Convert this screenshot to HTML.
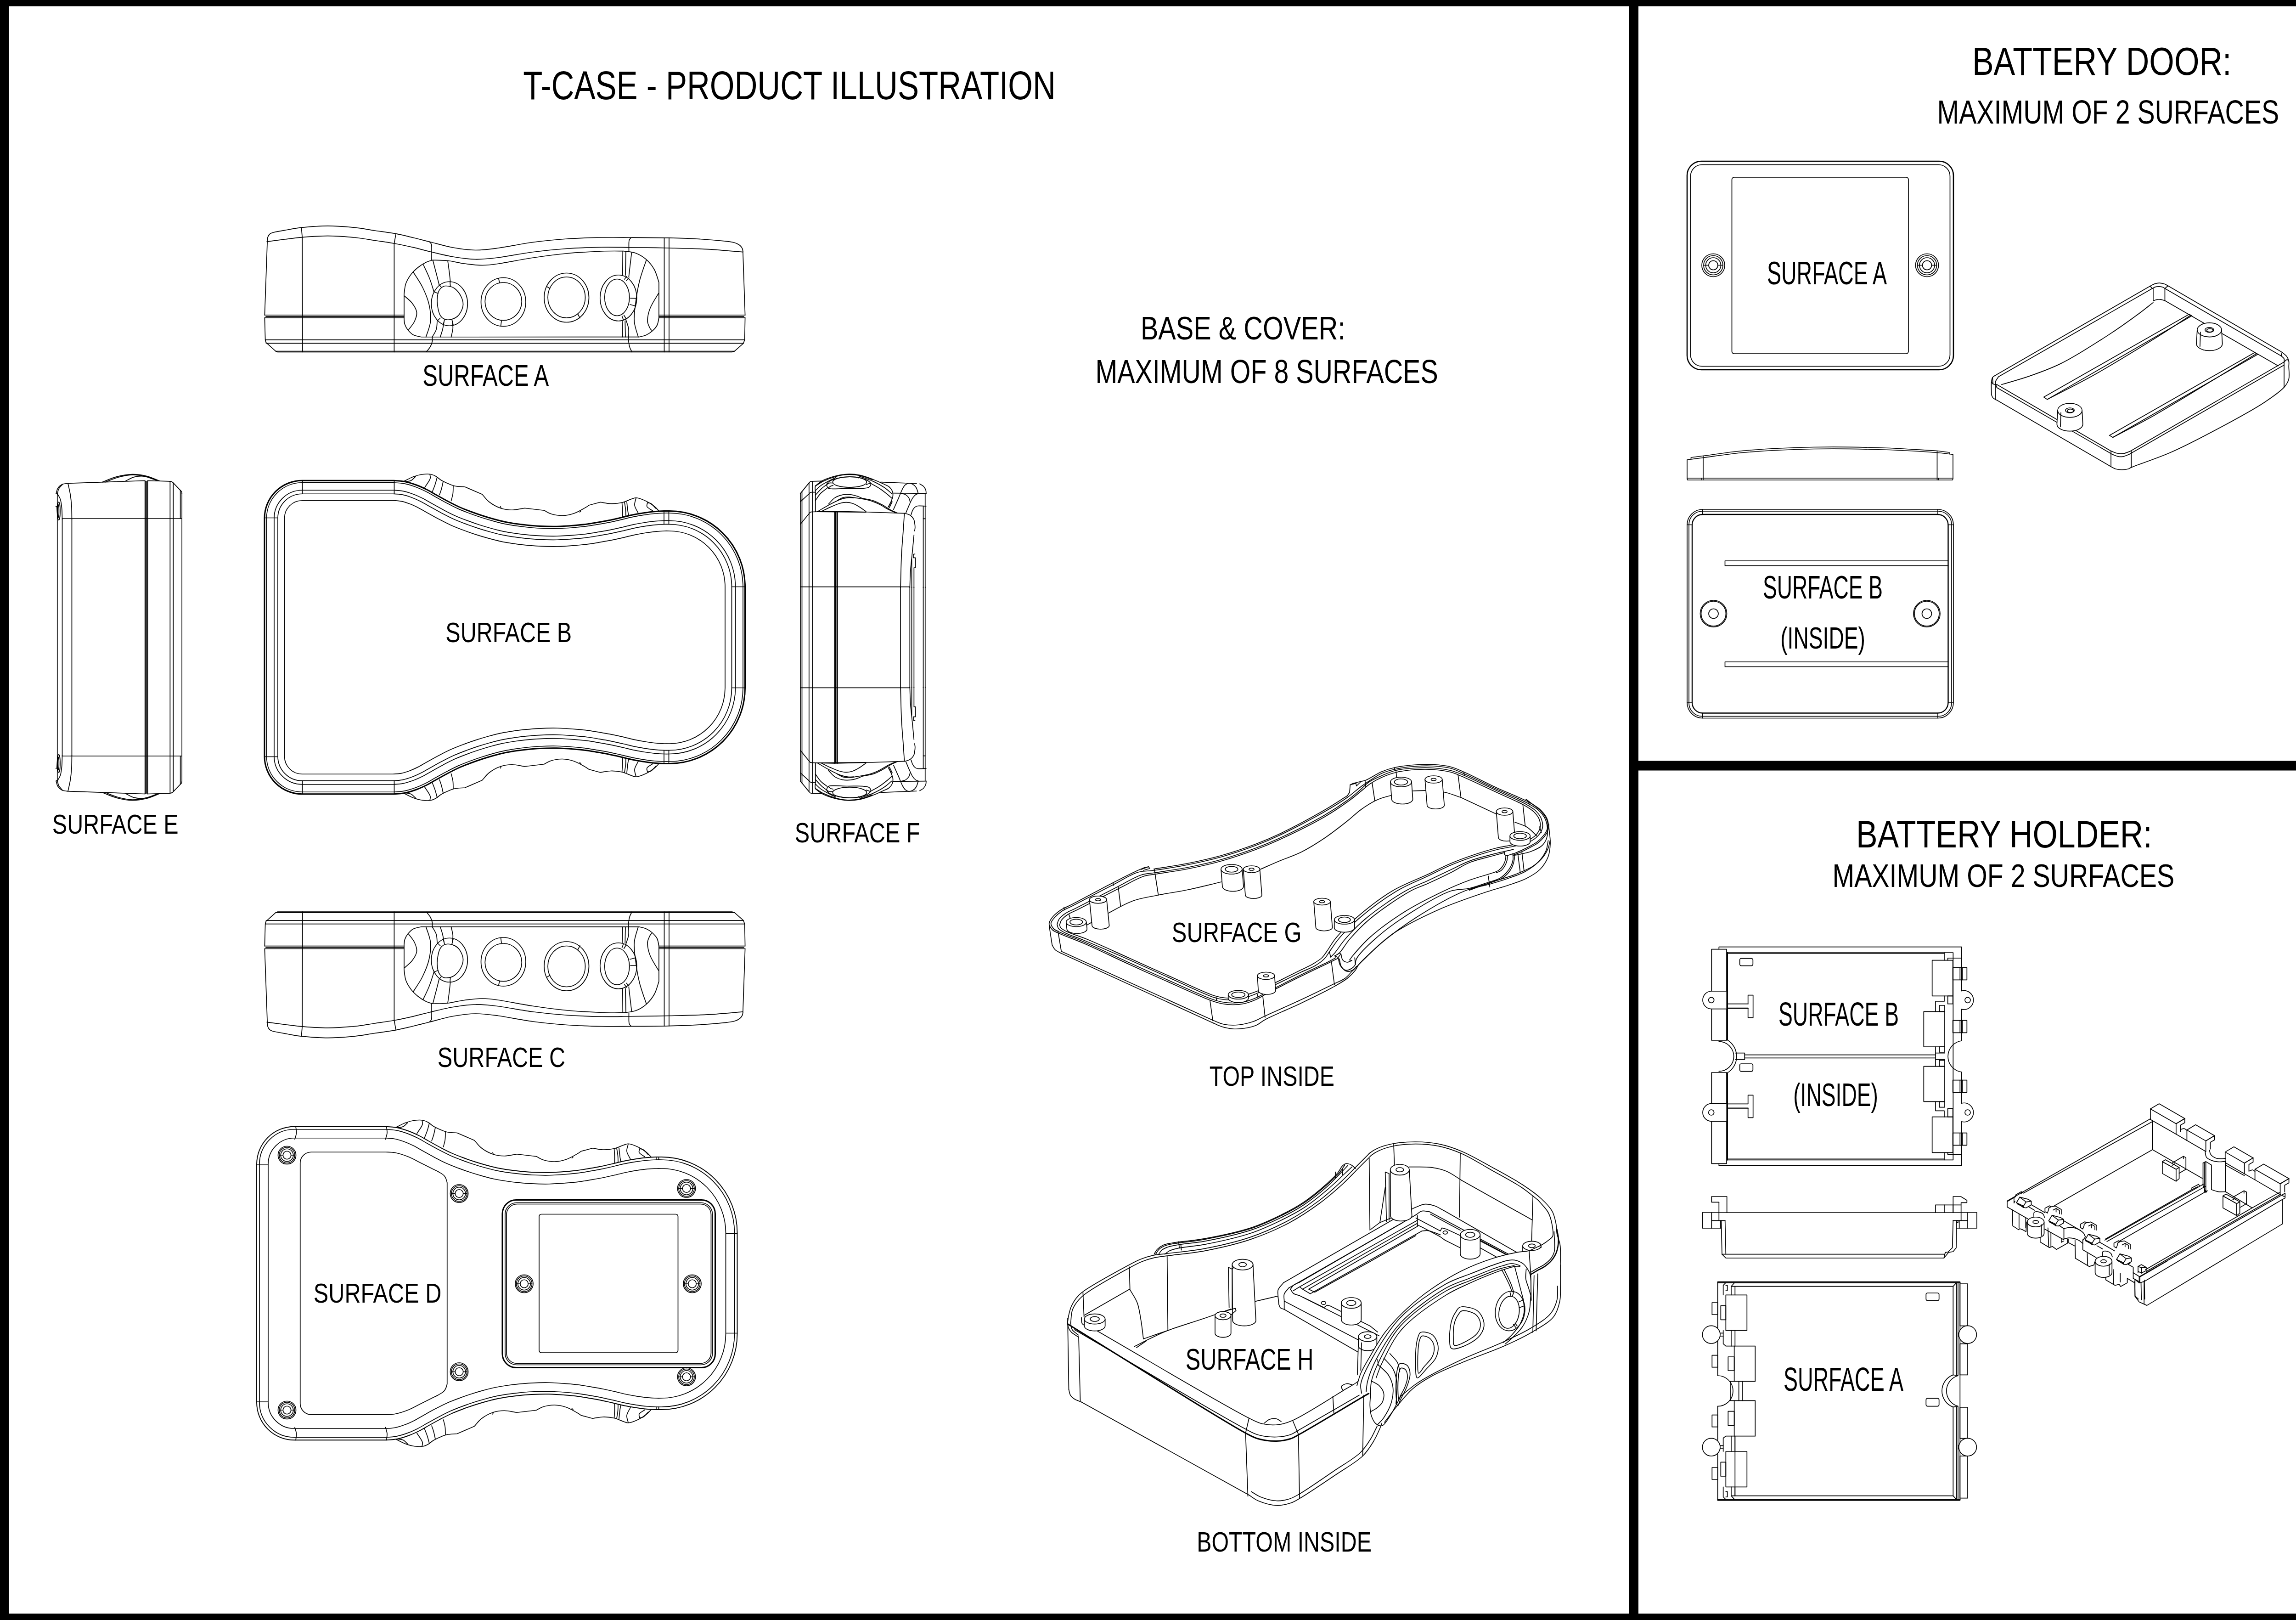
<!DOCTYPE html><html><head><meta charset="utf-8"><title>T-CASE</title><style>html,body{margin:0;padding:0;background:#fff}svg{display:block}</style></head><body><svg width="5031" height="3527" viewBox="0 0 5031 3527" fill="none" stroke="#000" stroke-width="1.7" stroke-linecap="round" stroke-linejoin="round"><rect x="0" y="0" width="5031" height="3527" fill="#fff" stroke="none"/><g fill="#000" stroke="none"><rect x="0" y="0" width="5031" height="13.5"/><rect x="0" y="0" width="19" height="3527"/><rect x="0" y="3513" width="5031" height="14"/><rect x="5023" y="0" width="8" height="3527"/><rect x="3547" y="0" width="21" height="3527"/><rect x="3547" y="1656.5" width="1484" height="21"/></g>
<g id="surfA"><path d="M582.1 526.2 C582.18 524.83 581.78 520.7 582.6 518 C583.42 515.3 584.83 512 587 510 C589.17 508 589.27 507.58 595.6 506 C601.93 504.42 614.88 502.27 625 500.5 C635.12 498.73 641.47 496.83 656.3 495.4 C671.13 493.97 694.75 491.9 714 491.9 C733.25 491.9 754.8 493.72 771.8 495.4 C788.8 497.08 800.92 499.75 816 502 C831.08 504.25 848.3 506.32 862.3 508.9 C876.3 511.48 887.88 514.61 900 517.5 C912.12 520.39 920.83 522.71 935 526.25 C949.17 529.79 968.33 535.71 985 538.75 C1001.67 541.79 1018.33 544.29 1035 544.5 C1051.67 544.71 1064.17 542.83 1085 540 C1105.83 537.17 1135 530.83 1160 527.5 C1185 524.17 1210 521.75 1235 520 C1260 518.25 1287.08 517.5 1310 517 C1332.92 516.5 1348 516.85 1372.5 517 C1397 517.15 1432 517.33 1457 517.9 C1482 518.47 1501.95 519.18 1522.5 520.4 C1543.05 521.62 1567.38 523.85 1580.3 525.2 C1593.22 526.55 1594.88 527.03 1600 528.5 C1605.12 529.97 1608.25 531.92 1611 534 C1613.75 536.08 1615.37 538.77 1616.5 541 C1617.63 543.23 1617.58 546.33 1617.8 547.4" /><path d="M581.2 526.2 C587.67 525.33 607.17 522.6 620 521 C632.83 519.4 642.53 517.82 658.2 516.6 C673.87 515.38 695.07 513.63 714 513.7 C732.93 513.77 754.8 515.37 771.8 517 C788.8 518.63 801.57 521.33 816 523.5 C830.43 525.67 844.4 527.47 858.4 530 C872.4 532.53 887.23 535.78 900 538.7 C912.77 541.62 920.83 544.16 935 547.5 C949.17 550.84 968.33 555.92 985 558.75 C1001.67 561.58 1018.33 564.17 1035 564.5 C1051.67 564.83 1064.17 563.38 1085 560.75 C1105.83 558.12 1135 552 1160 548.75 C1185 545.5 1210 543 1235 541.25 C1260 539.5 1287.08 538.67 1310 538.25 C1332.92 537.83 1348 538.46 1372.5 538.75 C1397 539.04 1428.78 539.36 1457 540 C1485.22 540.64 1515.15 541.15 1541.8 542.6 C1568.45 544.05 1604.38 547.68 1616.9 548.7" /><path d="M582.1 526.2 L576.4 686" /><path d="M576.4 691.8 L577.7 739.9 L579.3 745.7 L600.4 764.6 L604.3 766.3 L1594.7 766.3 L1599.5 764.6 L1618.8 747.6 L1621.7 739.9 L1622.6 691.8" /><path d="M1617.8 547.4 L1622.6 686" /><path d="M600.4 764.6 L1599.5 764.6"/><path d="M577.7 739.9 L1621.7 739.9"/><path d="M579.5 747.3 L1619 747.3"/><path d="M576.4 686 L879.6 686"/><path d="M1435 686 L1622.6 686"/><path d="M579 688.8 L879.6 688.8"/><path d="M1435 688.8 L1620 688.8"/><path d="M576.4 691.8 L879.6 691.8"/><path d="M1435 691.8 L1622.6 691.8"/><path d="M656.3 495.4 L658.2 516.6 L658.8 766.3" /><path d="M862.3 508.9 L858.4 530 L858.4 766.3" /><path d="M1446.5 517.9 L1446.5 766.3"/><path d="M1457 517.9 L1457 766.3"/><path d="M935 526.25 C935.67 527.04 938.17 529.12 939 531 C939.83 532.88 939.83 531.62 940 537.5 C940.17 543.38 940 561.46 940 566.25" /><path d="M941.25 733.75 C941.25 735.42 941.96 740.21 941.25 743.75 C940.54 747.29 939.08 751.33 937 755 C934.92 758.67 930.12 763.96 928.75 765.75" /><path d="M1374.3 517.5 C1373.67 518.25 1371.3 520.23 1370.5 522 C1369.7 523.77 1369.67 524.18 1369.5 528.1 C1369.33 532.02 1369.5 542.6 1369.5 545.5" /><path d="M1368.5 733.7 C1368.5 734.75 1368.08 736.45 1368.5 740 C1368.92 743.55 1369.72 750.62 1371 755 C1372.28 759.38 1375.33 764.42 1376.2 766.3" /><path d="M880 640 C880.62 636.25 881.25 624.58 883.75 617.5 C886.25 610.42 890.62 603.33 895 597.5 C899.38 591.67 904.58 586.88 910 582.5 C915.42 578.12 922.08 573.96 927.5 571.25 C932.92 568.54 940 567.08 942.5 566.25 C947.92 566.46 963.75 566.25 975 567.5 C986.25 568.75 997.5 572.08 1010 573.75 C1022.5 575.42 1037.5 577.42 1050 577.5 C1062.5 577.58 1066.67 576.96 1085 574.25 C1103.33 571.54 1135 565 1160 561.25 C1185 557.5 1210 554.12 1235 551.75 C1260 549.38 1289.58 547.86 1310 547 C1330.42 546.14 1349.58 546.67 1357.5 546.6 C1361.92 547.33 1375.75 547.98 1384 551 C1392.25 554.02 1400.17 558.7 1407 564.7 C1413.83 570.7 1420.35 578.65 1425 587 C1429.65 595.35 1433.25 610.17 1434.9 614.8 L1434.9 691.8 C1434.25 694.5 1433.4 703.18 1431 708 C1428.6 712.82 1424.5 717.12 1420.5 720.7 C1416.5 724.28 1411.82 727.33 1407 729.5 C1402.18 731.67 1394.17 733 1391.6 733.7 L917.5 733.75 C914.58 732.96 904.92 731.62 900 729 C895.08 726.38 891.08 721.83 888 718 C884.92 714.17 882.83 709.83 881.5 706 C880.17 702.17 880.25 696.83 880 695 Z" /><ellipse cx="978.75" cy="661.25" rx="39.5" ry="48" /><path d="M971.25 622.5 C976.25 622.58 984.38 623.83 990 628 C995.62 632.17 1002 640.92 1005 647.5 C1008 654.08 1009.46 660.62 1008 667.5 C1006.54 674.38 1001.75 683.96 996.25 688.75 C990.75 693.54 981.17 696.46 975 696.25 C968.83 696.04 963 693.12 959.25 687.5 C955.5 681.88 953.46 670.42 952.5 662.5 C951.54 654.58 952.25 645.83 953.5 640 C954.75 634.17 957.04 630.42 960 627.5 C962.96 624.58 966.25 622.42 971.25 622.5 Z" /><ellipse cx="1096.25" cy="657.5" rx="48.75" ry="53" /><ellipse cx="1096.25" cy="656.25" rx="40" ry="41.25" /><ellipse cx="1233.75" cy="648" rx="48.75" ry="53.5" /><ellipse cx="1233.75" cy="647.5" rx="40.75" ry="44.5" /><ellipse cx="1346.75" cy="648.75" rx="40" ry="50" /><ellipse cx="1343.75" cy="647.5" rx="27" ry="40" /><path d="M1085.75 606.25 L1088 616.25" /><path d="M1092 698.75 L1090.5 710" /><path d="M1191.25 624.25 L1197.5 628" /><path d="M1258.25 683.75 L1263 692.5" /><path d="M1373 649.25 L1386.25 649.5" /><path d="M1372 663 L1384.25 666.25" /><path d="M1360 608 L1364.5 602" /><path d="M1363.75 611.25 L1370 605" /><path d="M1354.5 688 L1357.5 696.25" /><path d="M1358.75 686.25 L1363.75 694.5" /><path d="M944.5 635 L953.75 638.75" /><path d="M952 698.75 L958.75 692.5" /><path d="M968 696.25 L965 707.5" /><path d="M984.25 696.25 L987 707.5" /><path d="M956.25 619.5 L960.75 625" /><path d="M980 613.75 L980.75 623" /><path d="M880 643.75 C882.92 646.46 892.92 653.96 897.5 660 C902.08 666.04 906.67 673.33 907.5 680 C908.33 686.67 905.42 693.75 902.5 700 C899.58 706.25 892.08 714.58 890 717.5" /><path d="M900 592.5 C903.33 597.92 914.29 613.33 920 625 C925.71 636.67 931.33 650 934.25 662.5 C937.17 675 938.62 688.12 937.5 700 C936.38 711.88 929.17 728.12 927.5 733.75" /><path d="M921.25 575 C923.54 580 931.04 595 935 605 C938.96 615 943.33 630 945 635" /><path d="M942.5 566.25 C943.75 571.04 947.71 586.12 950 595 C952.29 603.88 955.21 615.42 956.25 619.5" /><path d="M975 567.5 C975.62 572.08 977.79 587.21 978.75 595 C979.71 602.79 980.42 611.04 980.75 614.25" /><path d="M952 700 C951.67 702.92 951.79 711.88 950 717.5 C948.21 723.12 942.71 731.04 941.25 733.75" /><path d="M967 700 C966.46 702.92 965.12 711.88 963.75 717.5 C962.38 723.12 959.58 731.04 958.75 733.75" /><path d="M985 700 C985.21 702.5 986.67 709.38 986.25 715 C985.83 720.62 983.12 730.62 982.5 733.75" /><path d="M1407.5 566.25 C1405 573.96 1396.46 596.46 1392.5 612.5 C1388.54 628.54 1385.62 647.92 1383.75 662.5 C1381.88 677.08 1380.21 688.12 1381.25 700 C1382.29 711.88 1388.54 728.12 1390 733.75" /><path d="M1434 638.75 C1431.04 643.96 1420.25 660.21 1416.25 670 C1412.25 679.79 1410.21 690.21 1410 697.5 C1409.79 704.79 1413.5 710.17 1415 713.75 C1416.5 717.33 1418.33 718.12 1419 719" /><path d="M1375.5 550 C1375 554.17 1373.54 566.17 1372.5 575 C1371.46 583.83 1369.79 598.33 1369.25 603" /><path d="M1363 696.25 C1363.96 699.38 1367.79 708.75 1368.75 715 C1369.71 721.25 1368.75 730.62 1368.75 733.75" /><path d="M1356.25 547.5 L1355.75 599.5" /><path d="M1363 547.5 L1362 599.5" /><path d="M1355 698.75 L1355.75 733.75" /><path d="M1361.25 698.75 L1362 733.75" /></g>
<g transform="translate(0 2751.5) scale(1 -1)"><path d="M582.1 526.2 C582.18 524.83 581.78 520.7 582.6 518 C583.42 515.3 584.83 512 587 510 C589.17 508 589.27 507.58 595.6 506 C601.93 504.42 614.88 502.27 625 500.5 C635.12 498.73 641.47 496.83 656.3 495.4 C671.13 493.97 694.75 491.9 714 491.9 C733.25 491.9 754.8 493.72 771.8 495.4 C788.8 497.08 800.92 499.75 816 502 C831.08 504.25 848.3 506.32 862.3 508.9 C876.3 511.48 887.88 514.61 900 517.5 C912.12 520.39 920.83 522.71 935 526.25 C949.17 529.79 968.33 535.71 985 538.75 C1001.67 541.79 1018.33 544.29 1035 544.5 C1051.67 544.71 1064.17 542.83 1085 540 C1105.83 537.17 1135 530.83 1160 527.5 C1185 524.17 1210 521.75 1235 520 C1260 518.25 1287.08 517.5 1310 517 C1332.92 516.5 1348 516.85 1372.5 517 C1397 517.15 1432 517.33 1457 517.9 C1482 518.47 1501.95 519.18 1522.5 520.4 C1543.05 521.62 1567.38 523.85 1580.3 525.2 C1593.22 526.55 1594.88 527.03 1600 528.5 C1605.12 529.97 1608.25 531.92 1611 534 C1613.75 536.08 1615.37 538.77 1616.5 541 C1617.63 543.23 1617.58 546.33 1617.8 547.4" /><path d="M581.2 526.2 C587.67 525.33 607.17 522.6 620 521 C632.83 519.4 642.53 517.82 658.2 516.6 C673.87 515.38 695.07 513.63 714 513.7 C732.93 513.77 754.8 515.37 771.8 517 C788.8 518.63 801.57 521.33 816 523.5 C830.43 525.67 844.4 527.47 858.4 530 C872.4 532.53 887.23 535.78 900 538.7 C912.77 541.62 920.83 544.16 935 547.5 C949.17 550.84 968.33 555.92 985 558.75 C1001.67 561.58 1018.33 564.17 1035 564.5 C1051.67 564.83 1064.17 563.38 1085 560.75 C1105.83 558.12 1135 552 1160 548.75 C1185 545.5 1210 543 1235 541.25 C1260 539.5 1287.08 538.67 1310 538.25 C1332.92 537.83 1348 538.46 1372.5 538.75 C1397 539.04 1428.78 539.36 1457 540 C1485.22 540.64 1515.15 541.15 1541.8 542.6 C1568.45 544.05 1604.38 547.68 1616.9 548.7" /><path d="M582.1 526.2 L576.4 686" /><path d="M576.4 691.8 L577.7 739.9 L579.3 745.7 L600.4 764.6 L604.3 766.3 L1594.7 766.3 L1599.5 764.6 L1618.8 747.6 L1621.7 739.9 L1622.6 691.8" /><path d="M1617.8 547.4 L1622.6 686" /><path d="M600.4 764.6 L1599.5 764.6"/><path d="M577.7 739.9 L1621.7 739.9"/><path d="M579.5 747.3 L1619 747.3"/><path d="M576.4 686 L879.6 686"/><path d="M1435 686 L1622.6 686"/><path d="M579 688.8 L879.6 688.8"/><path d="M1435 688.8 L1620 688.8"/><path d="M576.4 691.8 L879.6 691.8"/><path d="M1435 691.8 L1622.6 691.8"/><path d="M656.3 495.4 L658.2 516.6 L658.8 766.3" /><path d="M862.3 508.9 L858.4 530 L858.4 766.3" /><path d="M1446.5 517.9 L1446.5 766.3"/><path d="M1457 517.9 L1457 766.3"/><path d="M935 526.25 C935.67 527.04 938.17 529.12 939 531 C939.83 532.88 939.83 531.62 940 537.5 C940.17 543.38 940 561.46 940 566.25" /><path d="M941.25 733.75 C941.25 735.42 941.96 740.21 941.25 743.75 C940.54 747.29 939.08 751.33 937 755 C934.92 758.67 930.12 763.96 928.75 765.75" /><path d="M1374.3 517.5 C1373.67 518.25 1371.3 520.23 1370.5 522 C1369.7 523.77 1369.67 524.18 1369.5 528.1 C1369.33 532.02 1369.5 542.6 1369.5 545.5" /><path d="M1368.5 733.7 C1368.5 734.75 1368.08 736.45 1368.5 740 C1368.92 743.55 1369.72 750.62 1371 755 C1372.28 759.38 1375.33 764.42 1376.2 766.3" /><path d="M880 640 C880.62 636.25 881.25 624.58 883.75 617.5 C886.25 610.42 890.62 603.33 895 597.5 C899.38 591.67 904.58 586.88 910 582.5 C915.42 578.12 922.08 573.96 927.5 571.25 C932.92 568.54 940 567.08 942.5 566.25 C947.92 566.46 963.75 566.25 975 567.5 C986.25 568.75 997.5 572.08 1010 573.75 C1022.5 575.42 1037.5 577.42 1050 577.5 C1062.5 577.58 1066.67 576.96 1085 574.25 C1103.33 571.54 1135 565 1160 561.25 C1185 557.5 1210 554.12 1235 551.75 C1260 549.38 1289.58 547.86 1310 547 C1330.42 546.14 1349.58 546.67 1357.5 546.6 C1361.92 547.33 1375.75 547.98 1384 551 C1392.25 554.02 1400.17 558.7 1407 564.7 C1413.83 570.7 1420.35 578.65 1425 587 C1429.65 595.35 1433.25 610.17 1434.9 614.8 L1434.9 691.8 C1434.25 694.5 1433.4 703.18 1431 708 C1428.6 712.82 1424.5 717.12 1420.5 720.7 C1416.5 724.28 1411.82 727.33 1407 729.5 C1402.18 731.67 1394.17 733 1391.6 733.7 L917.5 733.75 C914.58 732.96 904.92 731.62 900 729 C895.08 726.38 891.08 721.83 888 718 C884.92 714.17 882.83 709.83 881.5 706 C880.17 702.17 880.25 696.83 880 695 Z" /><ellipse cx="978.75" cy="661.25" rx="39.5" ry="48" /><path d="M971.25 622.5 C976.25 622.58 984.38 623.83 990 628 C995.62 632.17 1002 640.92 1005 647.5 C1008 654.08 1009.46 660.62 1008 667.5 C1006.54 674.38 1001.75 683.96 996.25 688.75 C990.75 693.54 981.17 696.46 975 696.25 C968.83 696.04 963 693.12 959.25 687.5 C955.5 681.88 953.46 670.42 952.5 662.5 C951.54 654.58 952.25 645.83 953.5 640 C954.75 634.17 957.04 630.42 960 627.5 C962.96 624.58 966.25 622.42 971.25 622.5 Z" /><ellipse cx="1096.25" cy="657.5" rx="48.75" ry="53" /><ellipse cx="1096.25" cy="656.25" rx="40" ry="41.25" /><ellipse cx="1233.75" cy="648" rx="48.75" ry="53.5" /><ellipse cx="1233.75" cy="647.5" rx="40.75" ry="44.5" /><ellipse cx="1346.75" cy="648.75" rx="40" ry="50" /><ellipse cx="1343.75" cy="647.5" rx="27" ry="40" /><path d="M1085.75 606.25 L1088 616.25" /><path d="M1092 698.75 L1090.5 710" /><path d="M1191.25 624.25 L1197.5 628" /><path d="M1258.25 683.75 L1263 692.5" /><path d="M1373 649.25 L1386.25 649.5" /><path d="M1372 663 L1384.25 666.25" /><path d="M1360 608 L1364.5 602" /><path d="M1363.75 611.25 L1370 605" /><path d="M1354.5 688 L1357.5 696.25" /><path d="M1358.75 686.25 L1363.75 694.5" /><path d="M944.5 635 L953.75 638.75" /><path d="M952 698.75 L958.75 692.5" /><path d="M968 696.25 L965 707.5" /><path d="M984.25 696.25 L987 707.5" /><path d="M956.25 619.5 L960.75 625" /><path d="M980 613.75 L980.75 623" /><path d="M880 643.75 C882.92 646.46 892.92 653.96 897.5 660 C902.08 666.04 906.67 673.33 907.5 680 C908.33 686.67 905.42 693.75 902.5 700 C899.58 706.25 892.08 714.58 890 717.5" /><path d="M900 592.5 C903.33 597.92 914.29 613.33 920 625 C925.71 636.67 931.33 650 934.25 662.5 C937.17 675 938.62 688.12 937.5 700 C936.38 711.88 929.17 728.12 927.5 733.75" /><path d="M921.25 575 C923.54 580 931.04 595 935 605 C938.96 615 943.33 630 945 635" /><path d="M942.5 566.25 C943.75 571.04 947.71 586.12 950 595 C952.29 603.88 955.21 615.42 956.25 619.5" /><path d="M975 567.5 C975.62 572.08 977.79 587.21 978.75 595 C979.71 602.79 980.42 611.04 980.75 614.25" /><path d="M952 700 C951.67 702.92 951.79 711.88 950 717.5 C948.21 723.12 942.71 731.04 941.25 733.75" /><path d="M967 700 C966.46 702.92 965.12 711.88 963.75 717.5 C962.38 723.12 959.58 731.04 958.75 733.75" /><path d="M985 700 C985.21 702.5 986.67 709.38 986.25 715 C985.83 720.62 983.12 730.62 982.5 733.75" /><path d="M1407.5 566.25 C1405 573.96 1396.46 596.46 1392.5 612.5 C1388.54 628.54 1385.62 647.92 1383.75 662.5 C1381.88 677.08 1380.21 688.12 1381.25 700 C1382.29 711.88 1388.54 728.12 1390 733.75" /><path d="M1434 638.75 C1431.04 643.96 1420.25 660.21 1416.25 670 C1412.25 679.79 1410.21 690.21 1410 697.5 C1409.79 704.79 1413.5 710.17 1415 713.75 C1416.5 717.33 1418.33 718.12 1419 719" /><path d="M1375.5 550 C1375 554.17 1373.54 566.17 1372.5 575 C1371.46 583.83 1369.79 598.33 1369.25 603" /><path d="M1363 696.25 C1363.96 699.38 1367.79 708.75 1368.75 715 C1369.71 721.25 1368.75 730.62 1368.75 733.75" /><path d="M1356.25 547.5 L1355.75 599.5" /><path d="M1363 547.5 L1362 599.5" /><path d="M1355 698.75 L1355.75 733.75" /><path d="M1361.25 698.75 L1362 733.75" /></g>
<g id="surfB"><defs><clipPath id="bodyclip"><path d="M576 1387.5 V1128 A82 82 0 0 1 658 1046.25 H857.5 C866.04 1046.68 874.24 1047.11 882.5 1048.75 C890.91 1050.42 899.48 1053.28 907.5 1056.25 C915.29 1059.14 922.8 1062.64 930 1066.25 C936.95 1069.74 942.95 1073.58 950 1077.5 C957.86 1081.87 966.62 1086.85 975 1091.25 C983.29 1095.6 991.59 1099.97 1000 1103.75 C1008.26 1107.46 1016.63 1110.61 1025 1113.75 C1033.3 1116.86 1041.64 1119.78 1050 1122.5 C1058.3 1125.2 1066.64 1127.7 1075 1130 C1083.31 1132.28 1091.63 1134.5 1100 1136.25 C1108.3 1137.99 1116.65 1139.29 1125 1140.5 C1133.32 1141.71 1141.66 1142.67 1150 1143.5 C1158.33 1144.33 1165.82 1145.04 1175 1145.5 C1186.23 1146.06 1200 1146.5 1212.5 1146.25 C1225 1146 1238.77 1144.9 1250 1144 C1259.18 1143.27 1266.68 1142.58 1275 1141.5 C1283.35 1140.42 1291.67 1138.92 1300 1137.5 C1308.34 1136.08 1316.68 1134.66 1325 1133 C1333.35 1131.33 1341.68 1129.41 1350 1127.5 C1358.34 1125.58 1366.64 1123.25 1375 1121.5 C1383.31 1119.76 1391.65 1118.29 1400 1117 C1408.32 1115.71 1417.02 1114.51 1425 1113.75 C1432.29 1113.06 1440.04 1112.68 1446 1112.5 C1450.4 1112.37 1453.59 1112.42 1457.5 1112.5 A165 165 0 0 1 1622.5 1277.5 V1497.5 A165 165 0 0 1 1457.5 1662.5 C1453.59 1662.58 1450.4 1662.63 1446 1662.5 C1440.04 1662.32 1432.29 1661.94 1425 1661.25 C1417.02 1660.49 1408.32 1659.29 1400 1658 C1391.65 1656.71 1383.31 1655.24 1375 1653.5 C1366.64 1651.75 1358.34 1649.42 1350 1647.5 C1341.68 1645.59 1333.35 1643.67 1325 1642 C1316.68 1640.34 1308.34 1638.92 1300 1637.5 C1291.67 1636.08 1283.35 1634.58 1275 1633.5 C1266.68 1632.42 1259.18 1631.73 1250 1631 C1238.77 1630.1 1225 1629 1212.5 1628.75 C1200 1628.5 1186.23 1628.94 1175 1629.5 C1165.82 1629.96 1158.33 1630.67 1150 1631.5 C1141.66 1632.33 1133.32 1633.29 1125 1634.5 C1116.65 1635.71 1108.3 1637.01 1100 1638.75 C1091.63 1640.5 1083.31 1642.72 1075 1645 C1066.64 1647.3 1058.3 1649.8 1050 1652.5 C1041.64 1655.22 1033.3 1658.14 1025 1661.25 C1016.63 1664.39 1008.26 1667.54 1000 1671.25 C991.59 1675.03 983.29 1679.4 975 1683.75 C966.62 1688.15 957.86 1693.13 950 1697.5 C942.95 1701.42 936.95 1705.26 930 1708.75 C922.8 1712.36 915.29 1715.86 907.5 1718.75 C899.48 1721.72 890.91 1724.58 882.5 1726.25 C874.24 1727.89 866.04 1728.32 857.5 1728.75 H658 A82 82 0 0 1 576 1647 Z"/></clipPath></defs><path d="M880 1047.5 C886.67 1044.33 893.22 1040.48 900 1038 C906.56 1035.61 913.39 1033.6 920 1032.75 C926.3 1031.94 933.39 1031.66 938.75 1032.75 C943.08 1033.63 946.48 1035.48 950 1037.5 C953.57 1039.55 956.21 1042.66 960 1045 C964.39 1047.71 969.94 1050.31 975 1052.5 C979.94 1054.63 984.4 1056.75 990 1058 C996.66 1059.49 1005 1059.33 1012.5 1060 L1050 1076.25 C1055 1081.67 1058.91 1087.73 1065 1092.5 C1071.92 1097.92 1081.4 1103.3 1090 1106.25 C1098.1 1109.03 1106.46 1110.19 1115 1110.25 C1123.94 1110.31 1133.33 1107.58 1142.5 1106.25 L1185 1111.25 C1190 1113.75 1194.2 1116.92 1200 1118.75 C1207.12 1121 1216.68 1122.66 1225 1122.5 C1233.35 1122.34 1241.86 1120.54 1250 1117.75 C1258.55 1114.83 1269.17 1108.41 1275 1105 C1278.3 1103.06 1280 1101.67 1282.5 1100 L1307.5 1093.25 C1315 1094.33 1322.29 1096.33 1330 1096.5 C1338.1 1096.68 1347.24 1095.81 1355 1094 C1362.15 1092.33 1369.44 1088.3 1375 1086.5 C1378.87 1085.24 1381.02 1083.64 1385 1083.75 C1391.02 1083.91 1400.66 1087.97 1407.5 1091.25 C1413.91 1094.32 1420.15 1098.59 1425 1102.5 C1429 1105.72 1431.67 1109.17 1435 1112.5" /><path d="M882.5 1048.75 C886.67 1047.92 891.28 1048.08 895 1046.25 C898.8 1044.38 901.67 1040.42 905 1037.5" /><path d="M936.25 1033 C936.5 1035.75 937.73 1038.04 937 1041.25 C935.77 1046.63 929 1054.58 925 1061.25" /><path d="M952 1038.75 C950.5 1044.17 949.27 1049.63 947.5 1055 C945.7 1060.46 943.33 1065.83 941.25 1071.25" /><path d="M965 1048.75 C963.75 1054.17 962.68 1059.97 961.25 1065 C959.98 1069.47 958.42 1073.33 957 1077.5" /><path d="M987 1058 C986.75 1063.67 987.03 1069.5 986.25 1075 C985.5 1080.32 983.75 1085.33 982.5 1090.5" /><path d="M1091.25 1107 C1090.83 1105.5 1090.42 1104 1090 1102.5" /><path d="M1265 1112.5 C1264.17 1113.33 1263.33 1114.17 1262.5 1115" /><path d="M1354.5 1094 C1354.83 1099.33 1355.33 1104.58 1355.5 1110 C1355.67 1115.58 1355.5 1121.33 1355.5 1127" /><path d="M1360 1093.5 C1360.83 1099 1362 1104.62 1362.5 1110 C1362.97 1115.11 1362.83 1120 1363 1125" /><path d="M1365 1093 C1366 1101.17 1366.3 1108.74 1368 1117.5 C1370.02 1127.92 1374 1140 1377 1151.25" /><path d="M1385 1084.5 C1384 1089.67 1381.38 1094.78 1382 1100 C1382.69 1105.77 1387.33 1111.67 1390 1117.5" /><path d="M1410 1094.5 C1409.58 1097.17 1407.74 1100 1408.75 1102.5 C1410.15 1105.98 1417.08 1108.83 1421.25 1112" /><path d="M1410 1094.5 C1412.5 1095.08 1414.96 1094.84 1417.5 1096.25 C1421.16 1098.28 1425 1103.75 1428.75 1107.5" /><g transform="translate(0 2775) scale(1 -1)"><path d="M880 1047.5 C886.67 1044.33 893.22 1040.48 900 1038 C906.56 1035.61 913.39 1033.6 920 1032.75 C926.3 1031.94 933.39 1031.66 938.75 1032.75 C943.08 1033.63 946.48 1035.48 950 1037.5 C953.57 1039.55 956.21 1042.66 960 1045 C964.39 1047.71 969.94 1050.31 975 1052.5 C979.94 1054.63 984.4 1056.75 990 1058 C996.66 1059.49 1005 1059.33 1012.5 1060 L1050 1076.25 C1055 1081.67 1058.91 1087.73 1065 1092.5 C1071.92 1097.92 1081.4 1103.3 1090 1106.25 C1098.1 1109.03 1106.46 1110.19 1115 1110.25 C1123.94 1110.31 1133.33 1107.58 1142.5 1106.25 L1185 1111.25 C1190 1113.75 1194.2 1116.92 1200 1118.75 C1207.12 1121 1216.68 1122.66 1225 1122.5 C1233.35 1122.34 1241.86 1120.54 1250 1117.75 C1258.55 1114.83 1269.17 1108.41 1275 1105 C1278.3 1103.06 1280 1101.67 1282.5 1100 L1307.5 1093.25 C1315 1094.33 1322.29 1096.33 1330 1096.5 C1338.1 1096.68 1347.24 1095.81 1355 1094 C1362.15 1092.33 1369.44 1088.3 1375 1086.5 C1378.87 1085.24 1381.02 1083.64 1385 1083.75 C1391.02 1083.91 1400.66 1087.97 1407.5 1091.25 C1413.91 1094.32 1420.15 1098.59 1425 1102.5 C1429 1105.72 1431.67 1109.17 1435 1112.5" /><path d="M882.5 1048.75 C886.67 1047.92 891.28 1048.08 895 1046.25 C898.8 1044.38 901.67 1040.42 905 1037.5" /><path d="M936.25 1033 C936.5 1035.75 937.73 1038.04 937 1041.25 C935.77 1046.63 929 1054.58 925 1061.25" /><path d="M952 1038.75 C950.5 1044.17 949.27 1049.63 947.5 1055 C945.7 1060.46 943.33 1065.83 941.25 1071.25" /><path d="M965 1048.75 C963.75 1054.17 962.68 1059.97 961.25 1065 C959.98 1069.47 958.42 1073.33 957 1077.5" /><path d="M987 1058 C986.75 1063.67 987.03 1069.5 986.25 1075 C985.5 1080.32 983.75 1085.33 982.5 1090.5" /><path d="M1091.25 1107 C1090.83 1105.5 1090.42 1104 1090 1102.5" /><path d="M1265 1112.5 C1264.17 1113.33 1263.33 1114.17 1262.5 1115" /><path d="M1354.5 1094 C1354.83 1099.33 1355.33 1104.58 1355.5 1110 C1355.67 1115.58 1355.5 1121.33 1355.5 1127" /><path d="M1360 1093.5 C1360.83 1099 1362 1104.62 1362.5 1110 C1362.97 1115.11 1362.83 1120 1363 1125" /><path d="M1365 1093 C1366 1101.17 1366.3 1108.74 1368 1117.5 C1370.02 1127.92 1374 1140 1377 1151.25" /><path d="M1385 1084.5 C1384 1089.67 1381.38 1094.78 1382 1100 C1382.69 1105.77 1387.33 1111.67 1390 1117.5" /><path d="M1410 1094.5 C1409.58 1097.17 1407.74 1100 1408.75 1102.5 C1410.15 1105.98 1417.08 1108.83 1421.25 1112" /><path d="M1410 1094.5 C1412.5 1095.08 1414.96 1094.84 1417.5 1096.25 C1421.16 1098.28 1425 1103.75 1428.75 1107.5" /></g><path d="M576 1387.5 V1128 A82 82 0 0 1 658 1046.25 H857.5 C866.04 1046.68 874.24 1047.11 882.5 1048.75 C890.91 1050.42 899.48 1053.28 907.5 1056.25 C915.29 1059.14 922.8 1062.64 930 1066.25 C936.95 1069.74 942.95 1073.58 950 1077.5 C957.86 1081.87 966.62 1086.85 975 1091.25 C983.29 1095.6 991.59 1099.97 1000 1103.75 C1008.26 1107.46 1016.63 1110.61 1025 1113.75 C1033.3 1116.86 1041.64 1119.78 1050 1122.5 C1058.3 1125.2 1066.64 1127.7 1075 1130 C1083.31 1132.28 1091.63 1134.5 1100 1136.25 C1108.3 1137.99 1116.65 1139.29 1125 1140.5 C1133.32 1141.71 1141.66 1142.67 1150 1143.5 C1158.33 1144.33 1165.82 1145.04 1175 1145.5 C1186.23 1146.06 1200 1146.5 1212.5 1146.25 C1225 1146 1238.77 1144.9 1250 1144 C1259.18 1143.27 1266.68 1142.58 1275 1141.5 C1283.35 1140.42 1291.67 1138.92 1300 1137.5 C1308.34 1136.08 1316.68 1134.66 1325 1133 C1333.35 1131.33 1341.68 1129.41 1350 1127.5 C1358.34 1125.58 1366.64 1123.25 1375 1121.5 C1383.31 1119.76 1391.65 1118.29 1400 1117 C1408.32 1115.71 1417.02 1114.51 1425 1113.75 C1432.29 1113.06 1440.04 1112.68 1446 1112.5 C1450.4 1112.37 1453.59 1112.42 1457.5 1112.5 A165 165 0 0 1 1622.5 1277.5 V1497.5 A165 165 0 0 1 1457.5 1662.5 C1453.59 1662.58 1450.4 1662.63 1446 1662.5 C1440.04 1662.32 1432.29 1661.94 1425 1661.25 C1417.02 1660.49 1408.32 1659.29 1400 1658 C1391.65 1656.71 1383.31 1655.24 1375 1653.5 C1366.64 1651.75 1358.34 1649.42 1350 1647.5 C1341.68 1645.59 1333.35 1643.67 1325 1642 C1316.68 1640.34 1308.34 1638.92 1300 1637.5 C1291.67 1636.08 1283.35 1634.58 1275 1633.5 C1266.68 1632.42 1259.18 1631.73 1250 1631 C1238.77 1630.1 1225 1629 1212.5 1628.75 C1200 1628.5 1186.23 1628.94 1175 1629.5 C1165.82 1629.96 1158.33 1630.67 1150 1631.5 C1141.66 1632.33 1133.32 1633.29 1125 1634.5 C1116.65 1635.71 1108.3 1637.01 1100 1638.75 C1091.63 1640.5 1083.31 1642.72 1075 1645 C1066.64 1647.3 1058.3 1649.8 1050 1652.5 C1041.64 1655.22 1033.3 1658.14 1025 1661.25 C1016.63 1664.39 1008.26 1667.54 1000 1671.25 C991.59 1675.03 983.29 1679.4 975 1683.75 C966.62 1688.15 957.86 1693.13 950 1697.5 C942.95 1701.42 936.95 1705.26 930 1708.75 C922.8 1712.36 915.29 1715.86 907.5 1718.75 C899.48 1721.72 890.91 1724.58 882.5 1726.25 C874.24 1727.89 866.04 1728.32 857.5 1728.75 H658 A82 82 0 0 1 576 1647 Z" fill="#fff" stroke="none"/><g clip-path="url(#bodyclip)" stroke-linejoin="round"><path d="M576 1387.5 V1128 A82 82 0 0 1 658 1046.25 H857.5 C866.04 1046.68 874.24 1047.11 882.5 1048.75 C890.91 1050.42 899.48 1053.28 907.5 1056.25 C915.29 1059.14 922.8 1062.64 930 1066.25 C936.95 1069.74 942.95 1073.58 950 1077.5 C957.86 1081.87 966.62 1086.85 975 1091.25 C983.29 1095.6 991.59 1099.97 1000 1103.75 C1008.26 1107.46 1016.63 1110.61 1025 1113.75 C1033.3 1116.86 1041.64 1119.78 1050 1122.5 C1058.3 1125.2 1066.64 1127.7 1075 1130 C1083.31 1132.28 1091.63 1134.5 1100 1136.25 C1108.3 1137.99 1116.65 1139.29 1125 1140.5 C1133.32 1141.71 1141.66 1142.67 1150 1143.5 C1158.33 1144.33 1165.82 1145.04 1175 1145.5 C1186.23 1146.06 1200 1146.5 1212.5 1146.25 C1225 1146 1238.77 1144.9 1250 1144 C1259.18 1143.27 1266.68 1142.58 1275 1141.5 C1283.35 1140.42 1291.67 1138.92 1300 1137.5 C1308.34 1136.08 1316.68 1134.66 1325 1133 C1333.35 1131.33 1341.68 1129.41 1350 1127.5 C1358.34 1125.58 1366.64 1123.25 1375 1121.5 C1383.31 1119.76 1391.65 1118.29 1400 1117 C1408.32 1115.71 1417.02 1114.51 1425 1113.75 C1432.29 1113.06 1440.04 1112.68 1446 1112.5 C1450.4 1112.37 1453.59 1112.42 1457.5 1112.5 A165 165 0 0 1 1622.5 1277.5 V1497.5 A165 165 0 0 1 1457.5 1662.5 C1453.59 1662.58 1450.4 1662.63 1446 1662.5 C1440.04 1662.32 1432.29 1661.94 1425 1661.25 C1417.02 1660.49 1408.32 1659.29 1400 1658 C1391.65 1656.71 1383.31 1655.24 1375 1653.5 C1366.64 1651.75 1358.34 1649.42 1350 1647.5 C1341.68 1645.59 1333.35 1643.67 1325 1642 C1316.68 1640.34 1308.34 1638.92 1300 1637.5 C1291.67 1636.08 1283.35 1634.58 1275 1633.5 C1266.68 1632.42 1259.18 1631.73 1250 1631 C1238.77 1630.1 1225 1629 1212.5 1628.75 C1200 1628.5 1186.23 1628.94 1175 1629.5 C1165.82 1629.96 1158.33 1630.67 1150 1631.5 C1141.66 1632.33 1133.32 1633.29 1125 1634.5 C1116.65 1635.71 1108.3 1637.01 1100 1638.75 C1091.63 1640.5 1083.31 1642.72 1075 1645 C1066.64 1647.3 1058.3 1649.8 1050 1652.5 C1041.64 1655.22 1033.3 1658.14 1025 1661.25 C1016.63 1664.39 1008.26 1667.54 1000 1671.25 C991.59 1675.03 983.29 1679.4 975 1683.75 C966.62 1688.15 957.86 1693.13 950 1697.5 C942.95 1701.42 936.95 1705.26 930 1708.75 C922.8 1712.36 915.29 1715.86 907.5 1718.75 C899.48 1721.72 890.91 1724.58 882.5 1726.25 C874.24 1727.89 866.04 1728.32 857.5 1728.75 H658 A82 82 0 0 1 576 1647 Z" stroke="#000" stroke-width="88.7"/><path d="M576 1387.5 V1128 A82 82 0 0 1 658 1046.25 H857.5 C866.04 1046.68 874.24 1047.11 882.5 1048.75 C890.91 1050.42 899.48 1053.28 907.5 1056.25 C915.29 1059.14 922.8 1062.64 930 1066.25 C936.95 1069.74 942.95 1073.58 950 1077.5 C957.86 1081.87 966.62 1086.85 975 1091.25 C983.29 1095.6 991.59 1099.97 1000 1103.75 C1008.26 1107.46 1016.63 1110.61 1025 1113.75 C1033.3 1116.86 1041.64 1119.78 1050 1122.5 C1058.3 1125.2 1066.64 1127.7 1075 1130 C1083.31 1132.28 1091.63 1134.5 1100 1136.25 C1108.3 1137.99 1116.65 1139.29 1125 1140.5 C1133.32 1141.71 1141.66 1142.67 1150 1143.5 C1158.33 1144.33 1165.82 1145.04 1175 1145.5 C1186.23 1146.06 1200 1146.5 1212.5 1146.25 C1225 1146 1238.77 1144.9 1250 1144 C1259.18 1143.27 1266.68 1142.58 1275 1141.5 C1283.35 1140.42 1291.67 1138.92 1300 1137.5 C1308.34 1136.08 1316.68 1134.66 1325 1133 C1333.35 1131.33 1341.68 1129.41 1350 1127.5 C1358.34 1125.58 1366.64 1123.25 1375 1121.5 C1383.31 1119.76 1391.65 1118.29 1400 1117 C1408.32 1115.71 1417.02 1114.51 1425 1113.75 C1432.29 1113.06 1440.04 1112.68 1446 1112.5 C1450.4 1112.37 1453.59 1112.42 1457.5 1112.5 A165 165 0 0 1 1622.5 1277.5 V1497.5 A165 165 0 0 1 1457.5 1662.5 C1453.59 1662.58 1450.4 1662.63 1446 1662.5 C1440.04 1662.32 1432.29 1661.94 1425 1661.25 C1417.02 1660.49 1408.32 1659.29 1400 1658 C1391.65 1656.71 1383.31 1655.24 1375 1653.5 C1366.64 1651.75 1358.34 1649.42 1350 1647.5 C1341.68 1645.59 1333.35 1643.67 1325 1642 C1316.68 1640.34 1308.34 1638.92 1300 1637.5 C1291.67 1636.08 1283.35 1634.58 1275 1633.5 C1266.68 1632.42 1259.18 1631.73 1250 1631 C1238.77 1630.1 1225 1629 1212.5 1628.75 C1200 1628.5 1186.23 1628.94 1175 1629.5 C1165.82 1629.96 1158.33 1630.67 1150 1631.5 C1141.66 1632.33 1133.32 1633.29 1125 1634.5 C1116.65 1635.71 1108.3 1637.01 1100 1638.75 C1091.63 1640.5 1083.31 1642.72 1075 1645 C1066.64 1647.3 1058.3 1649.8 1050 1652.5 C1041.64 1655.22 1033.3 1658.14 1025 1661.25 C1016.63 1664.39 1008.26 1667.54 1000 1671.25 C991.59 1675.03 983.29 1679.4 975 1683.75 C966.62 1688.15 957.86 1693.13 950 1697.5 C942.95 1701.42 936.95 1705.26 930 1708.75 C922.8 1712.36 915.29 1715.86 907.5 1718.75 C899.48 1721.72 890.91 1724.58 882.5 1726.25 C874.24 1727.89 866.04 1728.32 857.5 1728.75 H658 A82 82 0 0 1 576 1647 Z" stroke="#fff" stroke-width="85.3"/><path d="M576 1387.5 V1128 A82 82 0 0 1 658 1046.25 H857.5 C866.04 1046.68 874.24 1047.11 882.5 1048.75 C890.91 1050.42 899.48 1053.28 907.5 1056.25 C915.29 1059.14 922.8 1062.64 930 1066.25 C936.95 1069.74 942.95 1073.58 950 1077.5 C957.86 1081.87 966.62 1086.85 975 1091.25 C983.29 1095.6 991.59 1099.97 1000 1103.75 C1008.26 1107.46 1016.63 1110.61 1025 1113.75 C1033.3 1116.86 1041.64 1119.78 1050 1122.5 C1058.3 1125.2 1066.64 1127.7 1075 1130 C1083.31 1132.28 1091.63 1134.5 1100 1136.25 C1108.3 1137.99 1116.65 1139.29 1125 1140.5 C1133.32 1141.71 1141.66 1142.67 1150 1143.5 C1158.33 1144.33 1165.82 1145.04 1175 1145.5 C1186.23 1146.06 1200 1146.5 1212.5 1146.25 C1225 1146 1238.77 1144.9 1250 1144 C1259.18 1143.27 1266.68 1142.58 1275 1141.5 C1283.35 1140.42 1291.67 1138.92 1300 1137.5 C1308.34 1136.08 1316.68 1134.66 1325 1133 C1333.35 1131.33 1341.68 1129.41 1350 1127.5 C1358.34 1125.58 1366.64 1123.25 1375 1121.5 C1383.31 1119.76 1391.65 1118.29 1400 1117 C1408.32 1115.71 1417.02 1114.51 1425 1113.75 C1432.29 1113.06 1440.04 1112.68 1446 1112.5 C1450.4 1112.37 1453.59 1112.42 1457.5 1112.5 A165 165 0 0 1 1622.5 1277.5 V1497.5 A165 165 0 0 1 1457.5 1662.5 C1453.59 1662.58 1450.4 1662.63 1446 1662.5 C1440.04 1662.32 1432.29 1661.94 1425 1661.25 C1417.02 1660.49 1408.32 1659.29 1400 1658 C1391.65 1656.71 1383.31 1655.24 1375 1653.5 C1366.64 1651.75 1358.34 1649.42 1350 1647.5 C1341.68 1645.59 1333.35 1643.67 1325 1642 C1316.68 1640.34 1308.34 1638.92 1300 1637.5 C1291.67 1636.08 1283.35 1634.58 1275 1633.5 C1266.68 1632.42 1259.18 1631.73 1250 1631 C1238.77 1630.1 1225 1629 1212.5 1628.75 C1200 1628.5 1186.23 1628.94 1175 1629.5 C1165.82 1629.96 1158.33 1630.67 1150 1631.5 C1141.66 1632.33 1133.32 1633.29 1125 1634.5 C1116.65 1635.71 1108.3 1637.01 1100 1638.75 C1091.63 1640.5 1083.31 1642.72 1075 1645 C1066.64 1647.3 1058.3 1649.8 1050 1652.5 C1041.64 1655.22 1033.3 1658.14 1025 1661.25 C1016.63 1664.39 1008.26 1667.54 1000 1671.25 C991.59 1675.03 983.29 1679.4 975 1683.75 C966.62 1688.15 957.86 1693.13 950 1697.5 C942.95 1701.42 936.95 1705.26 930 1708.75 C922.8 1712.36 915.29 1715.86 907.5 1718.75 C899.48 1721.72 890.91 1724.58 882.5 1726.25 C874.24 1727.89 866.04 1728.32 857.5 1728.75 H658 A82 82 0 0 1 576 1647 Z" stroke="#000" stroke-width="59.7"/><path d="M576 1387.5 V1128 A82 82 0 0 1 658 1046.25 H857.5 C866.04 1046.68 874.24 1047.11 882.5 1048.75 C890.91 1050.42 899.48 1053.28 907.5 1056.25 C915.29 1059.14 922.8 1062.64 930 1066.25 C936.95 1069.74 942.95 1073.58 950 1077.5 C957.86 1081.87 966.62 1086.85 975 1091.25 C983.29 1095.6 991.59 1099.97 1000 1103.75 C1008.26 1107.46 1016.63 1110.61 1025 1113.75 C1033.3 1116.86 1041.64 1119.78 1050 1122.5 C1058.3 1125.2 1066.64 1127.7 1075 1130 C1083.31 1132.28 1091.63 1134.5 1100 1136.25 C1108.3 1137.99 1116.65 1139.29 1125 1140.5 C1133.32 1141.71 1141.66 1142.67 1150 1143.5 C1158.33 1144.33 1165.82 1145.04 1175 1145.5 C1186.23 1146.06 1200 1146.5 1212.5 1146.25 C1225 1146 1238.77 1144.9 1250 1144 C1259.18 1143.27 1266.68 1142.58 1275 1141.5 C1283.35 1140.42 1291.67 1138.92 1300 1137.5 C1308.34 1136.08 1316.68 1134.66 1325 1133 C1333.35 1131.33 1341.68 1129.41 1350 1127.5 C1358.34 1125.58 1366.64 1123.25 1375 1121.5 C1383.31 1119.76 1391.65 1118.29 1400 1117 C1408.32 1115.71 1417.02 1114.51 1425 1113.75 C1432.29 1113.06 1440.04 1112.68 1446 1112.5 C1450.4 1112.37 1453.59 1112.42 1457.5 1112.5 A165 165 0 0 1 1622.5 1277.5 V1497.5 A165 165 0 0 1 1457.5 1662.5 C1453.59 1662.58 1450.4 1662.63 1446 1662.5 C1440.04 1662.32 1432.29 1661.94 1425 1661.25 C1417.02 1660.49 1408.32 1659.29 1400 1658 C1391.65 1656.71 1383.31 1655.24 1375 1653.5 C1366.64 1651.75 1358.34 1649.42 1350 1647.5 C1341.68 1645.59 1333.35 1643.67 1325 1642 C1316.68 1640.34 1308.34 1638.92 1300 1637.5 C1291.67 1636.08 1283.35 1634.58 1275 1633.5 C1266.68 1632.42 1259.18 1631.73 1250 1631 C1238.77 1630.1 1225 1629 1212.5 1628.75 C1200 1628.5 1186.23 1628.94 1175 1629.5 C1165.82 1629.96 1158.33 1630.67 1150 1631.5 C1141.66 1632.33 1133.32 1633.29 1125 1634.5 C1116.65 1635.71 1108.3 1637.01 1100 1638.75 C1091.63 1640.5 1083.31 1642.72 1075 1645 C1066.64 1647.3 1058.3 1649.8 1050 1652.5 C1041.64 1655.22 1033.3 1658.14 1025 1661.25 C1016.63 1664.39 1008.26 1667.54 1000 1671.25 C991.59 1675.03 983.29 1679.4 975 1683.75 C966.62 1688.15 957.86 1693.13 950 1697.5 C942.95 1701.42 936.95 1705.26 930 1708.75 C922.8 1712.36 915.29 1715.86 907.5 1718.75 C899.48 1721.72 890.91 1724.58 882.5 1726.25 C874.24 1727.89 866.04 1728.32 857.5 1728.75 H658 A82 82 0 0 1 576 1647 Z" stroke="#fff" stroke-width="56.3"/><path d="M576 1387.5 V1128 A82 82 0 0 1 658 1046.25 H857.5 C866.04 1046.68 874.24 1047.11 882.5 1048.75 C890.91 1050.42 899.48 1053.28 907.5 1056.25 C915.29 1059.14 922.8 1062.64 930 1066.25 C936.95 1069.74 942.95 1073.58 950 1077.5 C957.86 1081.87 966.62 1086.85 975 1091.25 C983.29 1095.6 991.59 1099.97 1000 1103.75 C1008.26 1107.46 1016.63 1110.61 1025 1113.75 C1033.3 1116.86 1041.64 1119.78 1050 1122.5 C1058.3 1125.2 1066.64 1127.7 1075 1130 C1083.31 1132.28 1091.63 1134.5 1100 1136.25 C1108.3 1137.99 1116.65 1139.29 1125 1140.5 C1133.32 1141.71 1141.66 1142.67 1150 1143.5 C1158.33 1144.33 1165.82 1145.04 1175 1145.5 C1186.23 1146.06 1200 1146.5 1212.5 1146.25 C1225 1146 1238.77 1144.9 1250 1144 C1259.18 1143.27 1266.68 1142.58 1275 1141.5 C1283.35 1140.42 1291.67 1138.92 1300 1137.5 C1308.34 1136.08 1316.68 1134.66 1325 1133 C1333.35 1131.33 1341.68 1129.41 1350 1127.5 C1358.34 1125.58 1366.64 1123.25 1375 1121.5 C1383.31 1119.76 1391.65 1118.29 1400 1117 C1408.32 1115.71 1417.02 1114.51 1425 1113.75 C1432.29 1113.06 1440.04 1112.68 1446 1112.5 C1450.4 1112.37 1453.59 1112.42 1457.5 1112.5 A165 165 0 0 1 1622.5 1277.5 V1497.5 A165 165 0 0 1 1457.5 1662.5 C1453.59 1662.58 1450.4 1662.63 1446 1662.5 C1440.04 1662.32 1432.29 1661.94 1425 1661.25 C1417.02 1660.49 1408.32 1659.29 1400 1658 C1391.65 1656.71 1383.31 1655.24 1375 1653.5 C1366.64 1651.75 1358.34 1649.42 1350 1647.5 C1341.68 1645.59 1333.35 1643.67 1325 1642 C1316.68 1640.34 1308.34 1638.92 1300 1637.5 C1291.67 1636.08 1283.35 1634.58 1275 1633.5 C1266.68 1632.42 1259.18 1631.73 1250 1631 C1238.77 1630.1 1225 1629 1212.5 1628.75 C1200 1628.5 1186.23 1628.94 1175 1629.5 C1165.82 1629.96 1158.33 1630.67 1150 1631.5 C1141.66 1632.33 1133.32 1633.29 1125 1634.5 C1116.65 1635.71 1108.3 1637.01 1100 1638.75 C1091.63 1640.5 1083.31 1642.72 1075 1645 C1066.64 1647.3 1058.3 1649.8 1050 1652.5 C1041.64 1655.22 1033.3 1658.14 1025 1661.25 C1016.63 1664.39 1008.26 1667.54 1000 1671.25 C991.59 1675.03 983.29 1679.4 975 1683.75 C966.62 1688.15 957.86 1693.13 950 1697.5 C942.95 1701.42 936.95 1705.26 930 1708.75 C922.8 1712.36 915.29 1715.86 907.5 1718.75 C899.48 1721.72 890.91 1724.58 882.5 1726.25 C874.24 1727.89 866.04 1728.32 857.5 1728.75 H658 A82 82 0 0 1 576 1647 Z" stroke="#000" stroke-width="43.7"/><path d="M576 1387.5 V1128 A82 82 0 0 1 658 1046.25 H857.5 C866.04 1046.68 874.24 1047.11 882.5 1048.75 C890.91 1050.42 899.48 1053.28 907.5 1056.25 C915.29 1059.14 922.8 1062.64 930 1066.25 C936.95 1069.74 942.95 1073.58 950 1077.5 C957.86 1081.87 966.62 1086.85 975 1091.25 C983.29 1095.6 991.59 1099.97 1000 1103.75 C1008.26 1107.46 1016.63 1110.61 1025 1113.75 C1033.3 1116.86 1041.64 1119.78 1050 1122.5 C1058.3 1125.2 1066.64 1127.7 1075 1130 C1083.31 1132.28 1091.63 1134.5 1100 1136.25 C1108.3 1137.99 1116.65 1139.29 1125 1140.5 C1133.32 1141.71 1141.66 1142.67 1150 1143.5 C1158.33 1144.33 1165.82 1145.04 1175 1145.5 C1186.23 1146.06 1200 1146.5 1212.5 1146.25 C1225 1146 1238.77 1144.9 1250 1144 C1259.18 1143.27 1266.68 1142.58 1275 1141.5 C1283.35 1140.42 1291.67 1138.92 1300 1137.5 C1308.34 1136.08 1316.68 1134.66 1325 1133 C1333.35 1131.33 1341.68 1129.41 1350 1127.5 C1358.34 1125.58 1366.64 1123.25 1375 1121.5 C1383.31 1119.76 1391.65 1118.29 1400 1117 C1408.32 1115.71 1417.02 1114.51 1425 1113.75 C1432.29 1113.06 1440.04 1112.68 1446 1112.5 C1450.4 1112.37 1453.59 1112.42 1457.5 1112.5 A165 165 0 0 1 1622.5 1277.5 V1497.5 A165 165 0 0 1 1457.5 1662.5 C1453.59 1662.58 1450.4 1662.63 1446 1662.5 C1440.04 1662.32 1432.29 1661.94 1425 1661.25 C1417.02 1660.49 1408.32 1659.29 1400 1658 C1391.65 1656.71 1383.31 1655.24 1375 1653.5 C1366.64 1651.75 1358.34 1649.42 1350 1647.5 C1341.68 1645.59 1333.35 1643.67 1325 1642 C1316.68 1640.34 1308.34 1638.92 1300 1637.5 C1291.67 1636.08 1283.35 1634.58 1275 1633.5 C1266.68 1632.42 1259.18 1631.73 1250 1631 C1238.77 1630.1 1225 1629 1212.5 1628.75 C1200 1628.5 1186.23 1628.94 1175 1629.5 C1165.82 1629.96 1158.33 1630.67 1150 1631.5 C1141.66 1632.33 1133.32 1633.29 1125 1634.5 C1116.65 1635.71 1108.3 1637.01 1100 1638.75 C1091.63 1640.5 1083.31 1642.72 1075 1645 C1066.64 1647.3 1058.3 1649.8 1050 1652.5 C1041.64 1655.22 1033.3 1658.14 1025 1661.25 C1016.63 1664.39 1008.26 1667.54 1000 1671.25 C991.59 1675.03 983.29 1679.4 975 1683.75 C966.62 1688.15 957.86 1693.13 950 1697.5 C942.95 1701.42 936.95 1705.26 930 1708.75 C922.8 1712.36 915.29 1715.86 907.5 1718.75 C899.48 1721.72 890.91 1724.58 882.5 1726.25 C874.24 1727.89 866.04 1728.32 857.5 1728.75 H658 A82 82 0 0 1 576 1647 Z" stroke="#fff" stroke-width="40.3"/><path d="M576 1387.5 V1128 A82 82 0 0 1 658 1046.25 H857.5 C866.04 1046.68 874.24 1047.11 882.5 1048.75 C890.91 1050.42 899.48 1053.28 907.5 1056.25 C915.29 1059.14 922.8 1062.64 930 1066.25 C936.95 1069.74 942.95 1073.58 950 1077.5 C957.86 1081.87 966.62 1086.85 975 1091.25 C983.29 1095.6 991.59 1099.97 1000 1103.75 C1008.26 1107.46 1016.63 1110.61 1025 1113.75 C1033.3 1116.86 1041.64 1119.78 1050 1122.5 C1058.3 1125.2 1066.64 1127.7 1075 1130 C1083.31 1132.28 1091.63 1134.5 1100 1136.25 C1108.3 1137.99 1116.65 1139.29 1125 1140.5 C1133.32 1141.71 1141.66 1142.67 1150 1143.5 C1158.33 1144.33 1165.82 1145.04 1175 1145.5 C1186.23 1146.06 1200 1146.5 1212.5 1146.25 C1225 1146 1238.77 1144.9 1250 1144 C1259.18 1143.27 1266.68 1142.58 1275 1141.5 C1283.35 1140.42 1291.67 1138.92 1300 1137.5 C1308.34 1136.08 1316.68 1134.66 1325 1133 C1333.35 1131.33 1341.68 1129.41 1350 1127.5 C1358.34 1125.58 1366.64 1123.25 1375 1121.5 C1383.31 1119.76 1391.65 1118.29 1400 1117 C1408.32 1115.71 1417.02 1114.51 1425 1113.75 C1432.29 1113.06 1440.04 1112.68 1446 1112.5 C1450.4 1112.37 1453.59 1112.42 1457.5 1112.5 A165 165 0 0 1 1622.5 1277.5 V1497.5 A165 165 0 0 1 1457.5 1662.5 C1453.59 1662.58 1450.4 1662.63 1446 1662.5 C1440.04 1662.32 1432.29 1661.94 1425 1661.25 C1417.02 1660.49 1408.32 1659.29 1400 1658 C1391.65 1656.71 1383.31 1655.24 1375 1653.5 C1366.64 1651.75 1358.34 1649.42 1350 1647.5 C1341.68 1645.59 1333.35 1643.67 1325 1642 C1316.68 1640.34 1308.34 1638.92 1300 1637.5 C1291.67 1636.08 1283.35 1634.58 1275 1633.5 C1266.68 1632.42 1259.18 1631.73 1250 1631 C1238.77 1630.1 1225 1629 1212.5 1628.75 C1200 1628.5 1186.23 1628.94 1175 1629.5 C1165.82 1629.96 1158.33 1630.67 1150 1631.5 C1141.66 1632.33 1133.32 1633.29 1125 1634.5 C1116.65 1635.71 1108.3 1637.01 1100 1638.75 C1091.63 1640.5 1083.31 1642.72 1075 1645 C1066.64 1647.3 1058.3 1649.8 1050 1652.5 C1041.64 1655.22 1033.3 1658.14 1025 1661.25 C1016.63 1664.39 1008.26 1667.54 1000 1671.25 C991.59 1675.03 983.29 1679.4 975 1683.75 C966.62 1688.15 957.86 1693.13 950 1697.5 C942.95 1701.42 936.95 1705.26 930 1708.75 C922.8 1712.36 915.29 1715.86 907.5 1718.75 C899.48 1721.72 890.91 1724.58 882.5 1726.25 C874.24 1727.89 866.04 1728.32 857.5 1728.75 H658 A82 82 0 0 1 576 1647 Z" stroke="#000" stroke-width="10.7"/><path d="M576 1387.5 V1128 A82 82 0 0 1 658 1046.25 H857.5 C866.04 1046.68 874.24 1047.11 882.5 1048.75 C890.91 1050.42 899.48 1053.28 907.5 1056.25 C915.29 1059.14 922.8 1062.64 930 1066.25 C936.95 1069.74 942.95 1073.58 950 1077.5 C957.86 1081.87 966.62 1086.85 975 1091.25 C983.29 1095.6 991.59 1099.97 1000 1103.75 C1008.26 1107.46 1016.63 1110.61 1025 1113.75 C1033.3 1116.86 1041.64 1119.78 1050 1122.5 C1058.3 1125.2 1066.64 1127.7 1075 1130 C1083.31 1132.28 1091.63 1134.5 1100 1136.25 C1108.3 1137.99 1116.65 1139.29 1125 1140.5 C1133.32 1141.71 1141.66 1142.67 1150 1143.5 C1158.33 1144.33 1165.82 1145.04 1175 1145.5 C1186.23 1146.06 1200 1146.5 1212.5 1146.25 C1225 1146 1238.77 1144.9 1250 1144 C1259.18 1143.27 1266.68 1142.58 1275 1141.5 C1283.35 1140.42 1291.67 1138.92 1300 1137.5 C1308.34 1136.08 1316.68 1134.66 1325 1133 C1333.35 1131.33 1341.68 1129.41 1350 1127.5 C1358.34 1125.58 1366.64 1123.25 1375 1121.5 C1383.31 1119.76 1391.65 1118.29 1400 1117 C1408.32 1115.71 1417.02 1114.51 1425 1113.75 C1432.29 1113.06 1440.04 1112.68 1446 1112.5 C1450.4 1112.37 1453.59 1112.42 1457.5 1112.5 A165 165 0 0 1 1622.5 1277.5 V1497.5 A165 165 0 0 1 1457.5 1662.5 C1453.59 1662.58 1450.4 1662.63 1446 1662.5 C1440.04 1662.32 1432.29 1661.94 1425 1661.25 C1417.02 1660.49 1408.32 1659.29 1400 1658 C1391.65 1656.71 1383.31 1655.24 1375 1653.5 C1366.64 1651.75 1358.34 1649.42 1350 1647.5 C1341.68 1645.59 1333.35 1643.67 1325 1642 C1316.68 1640.34 1308.34 1638.92 1300 1637.5 C1291.67 1636.08 1283.35 1634.58 1275 1633.5 C1266.68 1632.42 1259.18 1631.73 1250 1631 C1238.77 1630.1 1225 1629 1212.5 1628.75 C1200 1628.5 1186.23 1628.94 1175 1629.5 C1165.82 1629.96 1158.33 1630.67 1150 1631.5 C1141.66 1632.33 1133.32 1633.29 1125 1634.5 C1116.65 1635.71 1108.3 1637.01 1100 1638.75 C1091.63 1640.5 1083.31 1642.72 1075 1645 C1066.64 1647.3 1058.3 1649.8 1050 1652.5 C1041.64 1655.22 1033.3 1658.14 1025 1661.25 C1016.63 1664.39 1008.26 1667.54 1000 1671.25 C991.59 1675.03 983.29 1679.4 975 1683.75 C966.62 1688.15 957.86 1693.13 950 1697.5 C942.95 1701.42 936.95 1705.26 930 1708.75 C922.8 1712.36 915.29 1715.86 907.5 1718.75 C899.48 1721.72 890.91 1724.58 882.5 1726.25 C874.24 1727.89 866.04 1728.32 857.5 1728.75 H658 A82 82 0 0 1 576 1647 Z" stroke="#fff" stroke-width="7.3"/></g><path d="M576 1387.5 V1128 A82 82 0 0 1 658 1046.25 H857.5 C866.04 1046.68 874.24 1047.11 882.5 1048.75 C890.91 1050.42 899.48 1053.28 907.5 1056.25 C915.29 1059.14 922.8 1062.64 930 1066.25 C936.95 1069.74 942.95 1073.58 950 1077.5 C957.86 1081.87 966.62 1086.85 975 1091.25 C983.29 1095.6 991.59 1099.97 1000 1103.75 C1008.26 1107.46 1016.63 1110.61 1025 1113.75 C1033.3 1116.86 1041.64 1119.78 1050 1122.5 C1058.3 1125.2 1066.64 1127.7 1075 1130 C1083.31 1132.28 1091.63 1134.5 1100 1136.25 C1108.3 1137.99 1116.65 1139.29 1125 1140.5 C1133.32 1141.71 1141.66 1142.67 1150 1143.5 C1158.33 1144.33 1165.82 1145.04 1175 1145.5 C1186.23 1146.06 1200 1146.5 1212.5 1146.25 C1225 1146 1238.77 1144.9 1250 1144 C1259.18 1143.27 1266.68 1142.58 1275 1141.5 C1283.35 1140.42 1291.67 1138.92 1300 1137.5 C1308.34 1136.08 1316.68 1134.66 1325 1133 C1333.35 1131.33 1341.68 1129.41 1350 1127.5 C1358.34 1125.58 1366.64 1123.25 1375 1121.5 C1383.31 1119.76 1391.65 1118.29 1400 1117 C1408.32 1115.71 1417.02 1114.51 1425 1113.75 C1432.29 1113.06 1440.04 1112.68 1446 1112.5 C1450.4 1112.37 1453.59 1112.42 1457.5 1112.5 A165 165 0 0 1 1622.5 1277.5 V1497.5 A165 165 0 0 1 1457.5 1662.5 C1453.59 1662.58 1450.4 1662.63 1446 1662.5 C1440.04 1662.32 1432.29 1661.94 1425 1661.25 C1417.02 1660.49 1408.32 1659.29 1400 1658 C1391.65 1656.71 1383.31 1655.24 1375 1653.5 C1366.64 1651.75 1358.34 1649.42 1350 1647.5 C1341.68 1645.59 1333.35 1643.67 1325 1642 C1316.68 1640.34 1308.34 1638.92 1300 1637.5 C1291.67 1636.08 1283.35 1634.58 1275 1633.5 C1266.68 1632.42 1259.18 1631.73 1250 1631 C1238.77 1630.1 1225 1629 1212.5 1628.75 C1200 1628.5 1186.23 1628.94 1175 1629.5 C1165.82 1629.96 1158.33 1630.67 1150 1631.5 C1141.66 1632.33 1133.32 1633.29 1125 1634.5 C1116.65 1635.71 1108.3 1637.01 1100 1638.75 C1091.63 1640.5 1083.31 1642.72 1075 1645 C1066.64 1647.3 1058.3 1649.8 1050 1652.5 C1041.64 1655.22 1033.3 1658.14 1025 1661.25 C1016.63 1664.39 1008.26 1667.54 1000 1671.25 C991.59 1675.03 983.29 1679.4 975 1683.75 C966.62 1688.15 957.86 1693.13 950 1697.5 C942.95 1701.42 936.95 1705.26 930 1708.75 C922.8 1712.36 915.29 1715.86 907.5 1718.75 C899.48 1721.72 890.91 1724.58 882.5 1726.25 C874.24 1727.89 866.04 1728.32 857.5 1728.75 H658 A82 82 0 0 1 576 1647 Z" stroke-width="3"/><path d="M658.5 1046 L658.5 1075"/><path d="M658.5 1700 L658.5 1729"/><path d="M858.5 1046 L858.5 1075"/><path d="M858.5 1700 L858.5 1729"/><path d="M1446 1112.5 L1446 1141.5"/><path d="M1446 1633.5 L1446 1662.5"/><path d="M1456.5 1112.5 L1456.5 1141.5"/><path d="M1456.5 1633.5 L1456.5 1662.5"/><path d="M576 1127.5 L605 1127.5"/><path d="M576 1647.5 L605 1647.5"/><path d="M1593.5 1277.5 L1622.5 1277.5"/><path d="M1593.5 1497.5 L1622.5 1497.5"/></g>
<g id="surfD" transform="translate(-17 1406.5)"><path d="M880 1047.5 C886.67 1044.33 893.22 1040.48 900 1038 C906.56 1035.61 913.39 1033.6 920 1032.75 C926.3 1031.94 933.39 1031.66 938.75 1032.75 C943.08 1033.63 946.48 1035.48 950 1037.5 C953.57 1039.55 956.21 1042.66 960 1045 C964.39 1047.71 969.94 1050.31 975 1052.5 C979.94 1054.63 984.4 1056.75 990 1058 C996.66 1059.49 1005 1059.33 1012.5 1060 L1050 1076.25 C1055 1081.67 1058.91 1087.73 1065 1092.5 C1071.92 1097.92 1081.4 1103.3 1090 1106.25 C1098.1 1109.03 1106.46 1110.19 1115 1110.25 C1123.94 1110.31 1133.33 1107.58 1142.5 1106.25 L1185 1111.25 C1190 1113.75 1194.2 1116.92 1200 1118.75 C1207.12 1121 1216.68 1122.66 1225 1122.5 C1233.35 1122.34 1241.86 1120.54 1250 1117.75 C1258.55 1114.83 1269.17 1108.41 1275 1105 C1278.3 1103.06 1280 1101.67 1282.5 1100 L1307.5 1093.25 C1315 1094.33 1322.29 1096.33 1330 1096.5 C1338.1 1096.68 1347.24 1095.81 1355 1094 C1362.15 1092.33 1369.44 1088.3 1375 1086.5 C1378.87 1085.24 1381.02 1083.64 1385 1083.75 C1391.02 1083.91 1400.66 1087.97 1407.5 1091.25 C1413.91 1094.32 1420.15 1098.59 1425 1102.5 C1429 1105.72 1431.67 1109.17 1435 1112.5" /><path d="M882.5 1048.75 C886.67 1047.92 891.28 1048.08 895 1046.25 C898.8 1044.38 901.67 1040.42 905 1037.5" /><path d="M936.25 1033 C936.5 1035.75 937.73 1038.04 937 1041.25 C935.77 1046.63 929 1054.58 925 1061.25" /><path d="M952 1038.75 C950.5 1044.17 949.27 1049.63 947.5 1055 C945.7 1060.46 943.33 1065.83 941.25 1071.25" /><path d="M965 1048.75 C963.75 1054.17 962.68 1059.97 961.25 1065 C959.98 1069.47 958.42 1073.33 957 1077.5" /><path d="M987 1058 C986.75 1063.67 987.03 1069.5 986.25 1075 C985.5 1080.32 983.75 1085.33 982.5 1090.5" /><path d="M1091.25 1107 C1090.83 1105.5 1090.42 1104 1090 1102.5" /><path d="M1265 1112.5 C1264.17 1113.33 1263.33 1114.17 1262.5 1115" /><path d="M1354.5 1094 C1354.83 1099.33 1355.33 1104.58 1355.5 1110 C1355.67 1115.58 1355.5 1121.33 1355.5 1127" /><path d="M1360 1093.5 C1360.83 1099 1362 1104.62 1362.5 1110 C1362.97 1115.11 1362.83 1120 1363 1125" /><path d="M1365 1093 C1366 1101.17 1366.3 1108.74 1368 1117.5 C1370.02 1127.92 1374 1140 1377 1151.25" /><path d="M1385 1084.5 C1384 1089.67 1381.38 1094.78 1382 1100 C1382.69 1105.77 1387.33 1111.67 1390 1117.5" /><path d="M1410 1094.5 C1409.58 1097.17 1407.74 1100 1408.75 1102.5 C1410.15 1105.98 1417.08 1108.83 1421.25 1112" /><path d="M1410 1094.5 C1412.5 1095.08 1414.96 1094.84 1417.5 1096.25 C1421.16 1098.28 1425 1103.75 1428.75 1107.5" /><g transform="translate(0 2775) scale(1 -1)"><path d="M880 1047.5 C886.67 1044.33 893.22 1040.48 900 1038 C906.56 1035.61 913.39 1033.6 920 1032.75 C926.3 1031.94 933.39 1031.66 938.75 1032.75 C943.08 1033.63 946.48 1035.48 950 1037.5 C953.57 1039.55 956.21 1042.66 960 1045 C964.39 1047.71 969.94 1050.31 975 1052.5 C979.94 1054.63 984.4 1056.75 990 1058 C996.66 1059.49 1005 1059.33 1012.5 1060 L1050 1076.25 C1055 1081.67 1058.91 1087.73 1065 1092.5 C1071.92 1097.92 1081.4 1103.3 1090 1106.25 C1098.1 1109.03 1106.46 1110.19 1115 1110.25 C1123.94 1110.31 1133.33 1107.58 1142.5 1106.25 L1185 1111.25 C1190 1113.75 1194.2 1116.92 1200 1118.75 C1207.12 1121 1216.68 1122.66 1225 1122.5 C1233.35 1122.34 1241.86 1120.54 1250 1117.75 C1258.55 1114.83 1269.17 1108.41 1275 1105 C1278.3 1103.06 1280 1101.67 1282.5 1100 L1307.5 1093.25 C1315 1094.33 1322.29 1096.33 1330 1096.5 C1338.1 1096.68 1347.24 1095.81 1355 1094 C1362.15 1092.33 1369.44 1088.3 1375 1086.5 C1378.87 1085.24 1381.02 1083.64 1385 1083.75 C1391.02 1083.91 1400.66 1087.97 1407.5 1091.25 C1413.91 1094.32 1420.15 1098.59 1425 1102.5 C1429 1105.72 1431.67 1109.17 1435 1112.5" /><path d="M882.5 1048.75 C886.67 1047.92 891.28 1048.08 895 1046.25 C898.8 1044.38 901.67 1040.42 905 1037.5" /><path d="M936.25 1033 C936.5 1035.75 937.73 1038.04 937 1041.25 C935.77 1046.63 929 1054.58 925 1061.25" /><path d="M952 1038.75 C950.5 1044.17 949.27 1049.63 947.5 1055 C945.7 1060.46 943.33 1065.83 941.25 1071.25" /><path d="M965 1048.75 C963.75 1054.17 962.68 1059.97 961.25 1065 C959.98 1069.47 958.42 1073.33 957 1077.5" /><path d="M987 1058 C986.75 1063.67 987.03 1069.5 986.25 1075 C985.5 1080.32 983.75 1085.33 982.5 1090.5" /><path d="M1091.25 1107 C1090.83 1105.5 1090.42 1104 1090 1102.5" /><path d="M1265 1112.5 C1264.17 1113.33 1263.33 1114.17 1262.5 1115" /><path d="M1354.5 1094 C1354.83 1099.33 1355.33 1104.58 1355.5 1110 C1355.67 1115.58 1355.5 1121.33 1355.5 1127" /><path d="M1360 1093.5 C1360.83 1099 1362 1104.62 1362.5 1110 C1362.97 1115.11 1362.83 1120 1363 1125" /><path d="M1365 1093 C1366 1101.17 1366.3 1108.74 1368 1117.5 C1370.02 1127.92 1374 1140 1377 1151.25" /><path d="M1385 1084.5 C1384 1089.67 1381.38 1094.78 1382 1100 C1382.69 1105.77 1387.33 1111.67 1390 1117.5" /><path d="M1410 1094.5 C1409.58 1097.17 1407.74 1100 1408.75 1102.5 C1410.15 1105.98 1417.08 1108.83 1421.25 1112" /><path d="M1410 1094.5 C1412.5 1095.08 1414.96 1094.84 1417.5 1096.25 C1421.16 1098.28 1425 1103.75 1428.75 1107.5" /></g><path d="M576 1387.5 V1128 A82 82 0 0 1 658 1046.25 H857.5 C866.04 1046.68 874.24 1047.11 882.5 1048.75 C890.91 1050.42 899.48 1053.28 907.5 1056.25 C915.29 1059.14 922.8 1062.64 930 1066.25 C936.95 1069.74 942.95 1073.58 950 1077.5 C957.86 1081.87 966.62 1086.85 975 1091.25 C983.29 1095.6 991.59 1099.97 1000 1103.75 C1008.26 1107.46 1016.63 1110.61 1025 1113.75 C1033.3 1116.86 1041.64 1119.78 1050 1122.5 C1058.3 1125.2 1066.64 1127.7 1075 1130 C1083.31 1132.28 1091.63 1134.5 1100 1136.25 C1108.3 1137.99 1116.65 1139.29 1125 1140.5 C1133.32 1141.71 1141.66 1142.67 1150 1143.5 C1158.33 1144.33 1165.82 1145.04 1175 1145.5 C1186.23 1146.06 1200 1146.5 1212.5 1146.25 C1225 1146 1238.77 1144.9 1250 1144 C1259.18 1143.27 1266.68 1142.58 1275 1141.5 C1283.35 1140.42 1291.67 1138.92 1300 1137.5 C1308.34 1136.08 1316.68 1134.66 1325 1133 C1333.35 1131.33 1341.68 1129.41 1350 1127.5 C1358.34 1125.58 1366.64 1123.25 1375 1121.5 C1383.31 1119.76 1391.65 1118.29 1400 1117 C1408.32 1115.71 1417.02 1114.51 1425 1113.75 C1432.29 1113.06 1440.04 1112.68 1446 1112.5 C1450.4 1112.37 1453.59 1112.42 1457.5 1112.5 A165 165 0 0 1 1622.5 1277.5 V1497.5 A165 165 0 0 1 1457.5 1662.5 C1453.59 1662.58 1450.4 1662.63 1446 1662.5 C1440.04 1662.32 1432.29 1661.94 1425 1661.25 C1417.02 1660.49 1408.32 1659.29 1400 1658 C1391.65 1656.71 1383.31 1655.24 1375 1653.5 C1366.64 1651.75 1358.34 1649.42 1350 1647.5 C1341.68 1645.59 1333.35 1643.67 1325 1642 C1316.68 1640.34 1308.34 1638.92 1300 1637.5 C1291.67 1636.08 1283.35 1634.58 1275 1633.5 C1266.68 1632.42 1259.18 1631.73 1250 1631 C1238.77 1630.1 1225 1629 1212.5 1628.75 C1200 1628.5 1186.23 1628.94 1175 1629.5 C1165.82 1629.96 1158.33 1630.67 1150 1631.5 C1141.66 1632.33 1133.32 1633.29 1125 1634.5 C1116.65 1635.71 1108.3 1637.01 1100 1638.75 C1091.63 1640.5 1083.31 1642.72 1075 1645 C1066.64 1647.3 1058.3 1649.8 1050 1652.5 C1041.64 1655.22 1033.3 1658.14 1025 1661.25 C1016.63 1664.39 1008.26 1667.54 1000 1671.25 C991.59 1675.03 983.29 1679.4 975 1683.75 C966.62 1688.15 957.86 1693.13 950 1697.5 C942.95 1701.42 936.95 1705.26 930 1708.75 C922.8 1712.36 915.29 1715.86 907.5 1718.75 C899.48 1721.72 890.91 1724.58 882.5 1726.25 C874.24 1727.89 866.04 1728.32 857.5 1728.75 H658 A82 82 0 0 1 576 1647 Z" fill="#fff" stroke="none"/><g clip-path="url(#bodyclip)" stroke-linejoin="round"><path d="M576 1387.5 V1128 A82 82 0 0 1 658 1046.25 H857.5 C866.04 1046.68 874.24 1047.11 882.5 1048.75 C890.91 1050.42 899.48 1053.28 907.5 1056.25 C915.29 1059.14 922.8 1062.64 930 1066.25 C936.95 1069.74 942.95 1073.58 950 1077.5 C957.86 1081.87 966.62 1086.85 975 1091.25 C983.29 1095.6 991.59 1099.97 1000 1103.75 C1008.26 1107.46 1016.63 1110.61 1025 1113.75 C1033.3 1116.86 1041.64 1119.78 1050 1122.5 C1058.3 1125.2 1066.64 1127.7 1075 1130 C1083.31 1132.28 1091.63 1134.5 1100 1136.25 C1108.3 1137.99 1116.65 1139.29 1125 1140.5 C1133.32 1141.71 1141.66 1142.67 1150 1143.5 C1158.33 1144.33 1165.82 1145.04 1175 1145.5 C1186.23 1146.06 1200 1146.5 1212.5 1146.25 C1225 1146 1238.77 1144.9 1250 1144 C1259.18 1143.27 1266.68 1142.58 1275 1141.5 C1283.35 1140.42 1291.67 1138.92 1300 1137.5 C1308.34 1136.08 1316.68 1134.66 1325 1133 C1333.35 1131.33 1341.68 1129.41 1350 1127.5 C1358.34 1125.58 1366.64 1123.25 1375 1121.5 C1383.31 1119.76 1391.65 1118.29 1400 1117 C1408.32 1115.71 1417.02 1114.51 1425 1113.75 C1432.29 1113.06 1440.04 1112.68 1446 1112.5 C1450.4 1112.37 1453.59 1112.42 1457.5 1112.5 A165 165 0 0 1 1622.5 1277.5 V1497.5 A165 165 0 0 1 1457.5 1662.5 C1453.59 1662.58 1450.4 1662.63 1446 1662.5 C1440.04 1662.32 1432.29 1661.94 1425 1661.25 C1417.02 1660.49 1408.32 1659.29 1400 1658 C1391.65 1656.71 1383.31 1655.24 1375 1653.5 C1366.64 1651.75 1358.34 1649.42 1350 1647.5 C1341.68 1645.59 1333.35 1643.67 1325 1642 C1316.68 1640.34 1308.34 1638.92 1300 1637.5 C1291.67 1636.08 1283.35 1634.58 1275 1633.5 C1266.68 1632.42 1259.18 1631.73 1250 1631 C1238.77 1630.1 1225 1629 1212.5 1628.75 C1200 1628.5 1186.23 1628.94 1175 1629.5 C1165.82 1629.96 1158.33 1630.67 1150 1631.5 C1141.66 1632.33 1133.32 1633.29 1125 1634.5 C1116.65 1635.71 1108.3 1637.01 1100 1638.75 C1091.63 1640.5 1083.31 1642.72 1075 1645 C1066.64 1647.3 1058.3 1649.8 1050 1652.5 C1041.64 1655.22 1033.3 1658.14 1025 1661.25 C1016.63 1664.39 1008.26 1667.54 1000 1671.25 C991.59 1675.03 983.29 1679.4 975 1683.75 C966.62 1688.15 957.86 1693.13 950 1697.5 C942.95 1701.42 936.95 1705.26 930 1708.75 C922.8 1712.36 915.29 1715.86 907.5 1718.75 C899.48 1721.72 890.91 1724.58 882.5 1726.25 C874.24 1727.89 866.04 1728.32 857.5 1728.75 H658 A82 82 0 0 1 576 1647 Z" stroke="#000" stroke-width="51.7"/><path d="M576 1387.5 V1128 A82 82 0 0 1 658 1046.25 H857.5 C866.04 1046.68 874.24 1047.11 882.5 1048.75 C890.91 1050.42 899.48 1053.28 907.5 1056.25 C915.29 1059.14 922.8 1062.64 930 1066.25 C936.95 1069.74 942.95 1073.58 950 1077.5 C957.86 1081.87 966.62 1086.85 975 1091.25 C983.29 1095.6 991.59 1099.97 1000 1103.75 C1008.26 1107.46 1016.63 1110.61 1025 1113.75 C1033.3 1116.86 1041.64 1119.78 1050 1122.5 C1058.3 1125.2 1066.64 1127.7 1075 1130 C1083.31 1132.28 1091.63 1134.5 1100 1136.25 C1108.3 1137.99 1116.65 1139.29 1125 1140.5 C1133.32 1141.71 1141.66 1142.67 1150 1143.5 C1158.33 1144.33 1165.82 1145.04 1175 1145.5 C1186.23 1146.06 1200 1146.5 1212.5 1146.25 C1225 1146 1238.77 1144.9 1250 1144 C1259.18 1143.27 1266.68 1142.58 1275 1141.5 C1283.35 1140.42 1291.67 1138.92 1300 1137.5 C1308.34 1136.08 1316.68 1134.66 1325 1133 C1333.35 1131.33 1341.68 1129.41 1350 1127.5 C1358.34 1125.58 1366.64 1123.25 1375 1121.5 C1383.31 1119.76 1391.65 1118.29 1400 1117 C1408.32 1115.71 1417.02 1114.51 1425 1113.75 C1432.29 1113.06 1440.04 1112.68 1446 1112.5 C1450.4 1112.37 1453.59 1112.42 1457.5 1112.5 A165 165 0 0 1 1622.5 1277.5 V1497.5 A165 165 0 0 1 1457.5 1662.5 C1453.59 1662.58 1450.4 1662.63 1446 1662.5 C1440.04 1662.32 1432.29 1661.94 1425 1661.25 C1417.02 1660.49 1408.32 1659.29 1400 1658 C1391.65 1656.71 1383.31 1655.24 1375 1653.5 C1366.64 1651.75 1358.34 1649.42 1350 1647.5 C1341.68 1645.59 1333.35 1643.67 1325 1642 C1316.68 1640.34 1308.34 1638.92 1300 1637.5 C1291.67 1636.08 1283.35 1634.58 1275 1633.5 C1266.68 1632.42 1259.18 1631.73 1250 1631 C1238.77 1630.1 1225 1629 1212.5 1628.75 C1200 1628.5 1186.23 1628.94 1175 1629.5 C1165.82 1629.96 1158.33 1630.67 1150 1631.5 C1141.66 1632.33 1133.32 1633.29 1125 1634.5 C1116.65 1635.71 1108.3 1637.01 1100 1638.75 C1091.63 1640.5 1083.31 1642.72 1075 1645 C1066.64 1647.3 1058.3 1649.8 1050 1652.5 C1041.64 1655.22 1033.3 1658.14 1025 1661.25 C1016.63 1664.39 1008.26 1667.54 1000 1671.25 C991.59 1675.03 983.29 1679.4 975 1683.75 C966.62 1688.15 957.86 1693.13 950 1697.5 C942.95 1701.42 936.95 1705.26 930 1708.75 C922.8 1712.36 915.29 1715.86 907.5 1718.75 C899.48 1721.72 890.91 1724.58 882.5 1726.25 C874.24 1727.89 866.04 1728.32 857.5 1728.75 H658 A82 82 0 0 1 576 1647 Z" stroke="#fff" stroke-width="48.3"/><path d="M576 1387.5 V1128 A82 82 0 0 1 658 1046.25 H857.5 C866.04 1046.68 874.24 1047.11 882.5 1048.75 C890.91 1050.42 899.48 1053.28 907.5 1056.25 C915.29 1059.14 922.8 1062.64 930 1066.25 C936.95 1069.74 942.95 1073.58 950 1077.5 C957.86 1081.87 966.62 1086.85 975 1091.25 C983.29 1095.6 991.59 1099.97 1000 1103.75 C1008.26 1107.46 1016.63 1110.61 1025 1113.75 C1033.3 1116.86 1041.64 1119.78 1050 1122.5 C1058.3 1125.2 1066.64 1127.7 1075 1130 C1083.31 1132.28 1091.63 1134.5 1100 1136.25 C1108.3 1137.99 1116.65 1139.29 1125 1140.5 C1133.32 1141.71 1141.66 1142.67 1150 1143.5 C1158.33 1144.33 1165.82 1145.04 1175 1145.5 C1186.23 1146.06 1200 1146.5 1212.5 1146.25 C1225 1146 1238.77 1144.9 1250 1144 C1259.18 1143.27 1266.68 1142.58 1275 1141.5 C1283.35 1140.42 1291.67 1138.92 1300 1137.5 C1308.34 1136.08 1316.68 1134.66 1325 1133 C1333.35 1131.33 1341.68 1129.41 1350 1127.5 C1358.34 1125.58 1366.64 1123.25 1375 1121.5 C1383.31 1119.76 1391.65 1118.29 1400 1117 C1408.32 1115.71 1417.02 1114.51 1425 1113.75 C1432.29 1113.06 1440.04 1112.68 1446 1112.5 C1450.4 1112.37 1453.59 1112.42 1457.5 1112.5 A165 165 0 0 1 1622.5 1277.5 V1497.5 A165 165 0 0 1 1457.5 1662.5 C1453.59 1662.58 1450.4 1662.63 1446 1662.5 C1440.04 1662.32 1432.29 1661.94 1425 1661.25 C1417.02 1660.49 1408.32 1659.29 1400 1658 C1391.65 1656.71 1383.31 1655.24 1375 1653.5 C1366.64 1651.75 1358.34 1649.42 1350 1647.5 C1341.68 1645.59 1333.35 1643.67 1325 1642 C1316.68 1640.34 1308.34 1638.92 1300 1637.5 C1291.67 1636.08 1283.35 1634.58 1275 1633.5 C1266.68 1632.42 1259.18 1631.73 1250 1631 C1238.77 1630.1 1225 1629 1212.5 1628.75 C1200 1628.5 1186.23 1628.94 1175 1629.5 C1165.82 1629.96 1158.33 1630.67 1150 1631.5 C1141.66 1632.33 1133.32 1633.29 1125 1634.5 C1116.65 1635.71 1108.3 1637.01 1100 1638.75 C1091.63 1640.5 1083.31 1642.72 1075 1645 C1066.64 1647.3 1058.3 1649.8 1050 1652.5 C1041.64 1655.22 1033.3 1658.14 1025 1661.25 C1016.63 1664.39 1008.26 1667.54 1000 1671.25 C991.59 1675.03 983.29 1679.4 975 1683.75 C966.62 1688.15 957.86 1693.13 950 1697.5 C942.95 1701.42 936.95 1705.26 930 1708.75 C922.8 1712.36 915.29 1715.86 907.5 1718.75 C899.48 1721.72 890.91 1724.58 882.5 1726.25 C874.24 1727.89 866.04 1728.32 857.5 1728.75 H658 A82 82 0 0 1 576 1647 Z" stroke="#000" stroke-width="13.7"/><path d="M576 1387.5 V1128 A82 82 0 0 1 658 1046.25 H857.5 C866.04 1046.68 874.24 1047.11 882.5 1048.75 C890.91 1050.42 899.48 1053.28 907.5 1056.25 C915.29 1059.14 922.8 1062.64 930 1066.25 C936.95 1069.74 942.95 1073.58 950 1077.5 C957.86 1081.87 966.62 1086.85 975 1091.25 C983.29 1095.6 991.59 1099.97 1000 1103.75 C1008.26 1107.46 1016.63 1110.61 1025 1113.75 C1033.3 1116.86 1041.64 1119.78 1050 1122.5 C1058.3 1125.2 1066.64 1127.7 1075 1130 C1083.31 1132.28 1091.63 1134.5 1100 1136.25 C1108.3 1137.99 1116.65 1139.29 1125 1140.5 C1133.32 1141.71 1141.66 1142.67 1150 1143.5 C1158.33 1144.33 1165.82 1145.04 1175 1145.5 C1186.23 1146.06 1200 1146.5 1212.5 1146.25 C1225 1146 1238.77 1144.9 1250 1144 C1259.18 1143.27 1266.68 1142.58 1275 1141.5 C1283.35 1140.42 1291.67 1138.92 1300 1137.5 C1308.34 1136.08 1316.68 1134.66 1325 1133 C1333.35 1131.33 1341.68 1129.41 1350 1127.5 C1358.34 1125.58 1366.64 1123.25 1375 1121.5 C1383.31 1119.76 1391.65 1118.29 1400 1117 C1408.32 1115.71 1417.02 1114.51 1425 1113.75 C1432.29 1113.06 1440.04 1112.68 1446 1112.5 C1450.4 1112.37 1453.59 1112.42 1457.5 1112.5 A165 165 0 0 1 1622.5 1277.5 V1497.5 A165 165 0 0 1 1457.5 1662.5 C1453.59 1662.58 1450.4 1662.63 1446 1662.5 C1440.04 1662.32 1432.29 1661.94 1425 1661.25 C1417.02 1660.49 1408.32 1659.29 1400 1658 C1391.65 1656.71 1383.31 1655.24 1375 1653.5 C1366.64 1651.75 1358.34 1649.42 1350 1647.5 C1341.68 1645.59 1333.35 1643.67 1325 1642 C1316.68 1640.34 1308.34 1638.92 1300 1637.5 C1291.67 1636.08 1283.35 1634.58 1275 1633.5 C1266.68 1632.42 1259.18 1631.73 1250 1631 C1238.77 1630.1 1225 1629 1212.5 1628.75 C1200 1628.5 1186.23 1628.94 1175 1629.5 C1165.82 1629.96 1158.33 1630.67 1150 1631.5 C1141.66 1632.33 1133.32 1633.29 1125 1634.5 C1116.65 1635.71 1108.3 1637.01 1100 1638.75 C1091.63 1640.5 1083.31 1642.72 1075 1645 C1066.64 1647.3 1058.3 1649.8 1050 1652.5 C1041.64 1655.22 1033.3 1658.14 1025 1661.25 C1016.63 1664.39 1008.26 1667.54 1000 1671.25 C991.59 1675.03 983.29 1679.4 975 1683.75 C966.62 1688.15 957.86 1693.13 950 1697.5 C942.95 1701.42 936.95 1705.26 930 1708.75 C922.8 1712.36 915.29 1715.86 907.5 1718.75 C899.48 1721.72 890.91 1724.58 882.5 1726.25 C874.24 1727.89 866.04 1728.32 857.5 1728.75 H658 A82 82 0 0 1 576 1647 Z" stroke="#fff" stroke-width="10.3"/></g><path d="M576 1387.5 V1128 A82 82 0 0 1 658 1046.25 H857.5 C866.04 1046.68 874.24 1047.11 882.5 1048.75 C890.91 1050.42 899.48 1053.28 907.5 1056.25 C915.29 1059.14 922.8 1062.64 930 1066.25 C936.95 1069.74 942.95 1073.58 950 1077.5 C957.86 1081.87 966.62 1086.85 975 1091.25 C983.29 1095.6 991.59 1099.97 1000 1103.75 C1008.26 1107.46 1016.63 1110.61 1025 1113.75 C1033.3 1116.86 1041.64 1119.78 1050 1122.5 C1058.3 1125.2 1066.64 1127.7 1075 1130 C1083.31 1132.28 1091.63 1134.5 1100 1136.25 C1108.3 1137.99 1116.65 1139.29 1125 1140.5 C1133.32 1141.71 1141.66 1142.67 1150 1143.5 C1158.33 1144.33 1165.82 1145.04 1175 1145.5 C1186.23 1146.06 1200 1146.5 1212.5 1146.25 C1225 1146 1238.77 1144.9 1250 1144 C1259.18 1143.27 1266.68 1142.58 1275 1141.5 C1283.35 1140.42 1291.67 1138.92 1300 1137.5 C1308.34 1136.08 1316.68 1134.66 1325 1133 C1333.35 1131.33 1341.68 1129.41 1350 1127.5 C1358.34 1125.58 1366.64 1123.25 1375 1121.5 C1383.31 1119.76 1391.65 1118.29 1400 1117 C1408.32 1115.71 1417.02 1114.51 1425 1113.75 C1432.29 1113.06 1440.04 1112.68 1446 1112.5 C1450.4 1112.37 1453.59 1112.42 1457.5 1112.5 A165 165 0 0 1 1622.5 1277.5 V1497.5 A165 165 0 0 1 1457.5 1662.5 C1453.59 1662.58 1450.4 1662.63 1446 1662.5 C1440.04 1662.32 1432.29 1661.94 1425 1661.25 C1417.02 1660.49 1408.32 1659.29 1400 1658 C1391.65 1656.71 1383.31 1655.24 1375 1653.5 C1366.64 1651.75 1358.34 1649.42 1350 1647.5 C1341.68 1645.59 1333.35 1643.67 1325 1642 C1316.68 1640.34 1308.34 1638.92 1300 1637.5 C1291.67 1636.08 1283.35 1634.58 1275 1633.5 C1266.68 1632.42 1259.18 1631.73 1250 1631 C1238.77 1630.1 1225 1629 1212.5 1628.75 C1200 1628.5 1186.23 1628.94 1175 1629.5 C1165.82 1629.96 1158.33 1630.67 1150 1631.5 C1141.66 1632.33 1133.32 1633.29 1125 1634.5 C1116.65 1635.71 1108.3 1637.01 1100 1638.75 C1091.63 1640.5 1083.31 1642.72 1075 1645 C1066.64 1647.3 1058.3 1649.8 1050 1652.5 C1041.64 1655.22 1033.3 1658.14 1025 1661.25 C1016.63 1664.39 1008.26 1667.54 1000 1671.25 C991.59 1675.03 983.29 1679.4 975 1683.75 C966.62 1688.15 957.86 1693.13 950 1697.5 C942.95 1701.42 936.95 1705.26 930 1708.75 C922.8 1712.36 915.29 1715.86 907.5 1718.75 C899.48 1721.72 890.91 1724.58 882.5 1726.25 C874.24 1727.89 866.04 1728.32 857.5 1728.75 H658 A82 82 0 0 1 576 1647 Z" stroke-width="1.9"/><path d="M661 1046 C661.5 1050.67 662.82 1055.36 662.5 1060 C662.17 1064.7 660.17 1069.33 659 1074" /><path d="M661 1729 C661.5 1724.33 662.82 1719.64 662.5 1715 C662.17 1710.3 660.17 1705.67 659 1701" /><path d="M858.5 1046 C859 1050.67 860.32 1055.36 860 1060 C859.67 1064.7 857.67 1069.33 856.5 1074" /><path d="M858.5 1729 C859 1724.33 860.32 1719.64 860 1715 C859.67 1710.3 857.67 1705.67 856.5 1701" /><path d="M1446 1112.5 L1446 1118.5"/><path d="M1446 1656.5 L1446 1662.5"/><path d="M1451.5 1112.5 L1451.5 1118.5"/><path d="M1451.5 1656.5 L1451.5 1662.5"/><path d="M576 1129.5 L600 1129.5"/><path d="M576 1645.5 L600 1645.5"/><path d="M1598 1279 L1622.5 1279"/><path d="M1598 1496 L1622.5 1496"/><path d="M670.75 1126 A24 24 0 0 1 694.5 1101.75 L857 1101.75 C864.04 1101.97 869.75 1101.67 877 1103 C886.08 1104.66 897.6 1108.48 907 1112.25 C915.87 1115.81 923.67 1120.58 932 1124.75 C940.33 1128.92 949.73 1133.61 957 1137.25 C962.64 1140.07 967.32 1141.96 972 1144.75 C976.46 1147.41 981.39 1149.63 984.5 1153.5 C987.71 1157.49 989.65 1163.02 990.75 1168.5 L990.75 1606.5 C989.65 1611.98 987.71 1617.51 984.5 1621.5 C981.39 1625.37 976.46 1627.59 972 1630.25 C967.32 1633.04 962.64 1634.93 957 1637.75 C949.73 1641.39 940.33 1646.08 932 1650.25 C923.67 1654.42 915.87 1659.19 907 1662.75 C897.6 1666.52 886.08 1670.34 877 1672 C869.75 1673.33 864.04 1673.03 857 1673.25 L694.5 1673.25 A24 24 0 0 1 670.75 1649 Z" /><circle cx="642" cy="1108.5" r="19.5"/><circle cx="642" cy="1108.5" r="17"/><circle cx="642" cy="1108.5" r="13.75"/><circle cx="642" cy="1108.5" r="8.75"/><path d="M625 1108.5 L633.25 1108.5"/><path d="M650.75 1108.5 L659 1108.5"/><circle cx="1017" cy="1192" r="19.5"/><circle cx="1017" cy="1192" r="17"/><circle cx="1017" cy="1192" r="13.75"/><circle cx="1017" cy="1192" r="8.75"/><path d="M1000 1192 L1008.25 1192"/><path d="M1025.75 1192 L1034 1192"/><circle cx="1512" cy="1181" r="19.5"/><circle cx="1512" cy="1181" r="17"/><circle cx="1512" cy="1181" r="13.75"/><circle cx="1512" cy="1181" r="8.75"/><path d="M1495 1181 L1503.25 1181"/><path d="M1520.75 1181 L1529 1181"/><circle cx="1158.5" cy="1388.5" r="19.5"/><circle cx="1158.5" cy="1388.5" r="17"/><circle cx="1158.5" cy="1388.5" r="13.75"/><circle cx="1158.5" cy="1388.5" r="8.75"/><path d="M1141.5 1388.5 L1149.75 1388.5"/><path d="M1167.25 1388.5 L1175.5 1388.5"/><circle cx="1524.5" cy="1388.5" r="19.5"/><circle cx="1524.5" cy="1388.5" r="17"/><circle cx="1524.5" cy="1388.5" r="13.75"/><circle cx="1524.5" cy="1388.5" r="8.75"/><path d="M1507.5 1388.5 L1515.75 1388.5"/><path d="M1533.25 1388.5 L1541.5 1388.5"/><circle cx="1017" cy="1580" r="19.5"/><circle cx="1017" cy="1580" r="17"/><circle cx="1017" cy="1580" r="13.75"/><circle cx="1017" cy="1580" r="8.75"/><path d="M1000 1580 L1008.25 1580"/><path d="M1025.75 1580 L1034 1580"/><circle cx="1512" cy="1591" r="19.5"/><circle cx="1512" cy="1591" r="17"/><circle cx="1512" cy="1591" r="13.75"/><circle cx="1512" cy="1591" r="8.75"/><path d="M1495 1591 L1503.25 1591"/><path d="M1520.75 1591 L1529 1591"/><circle cx="642" cy="1663.5" r="19.5"/><circle cx="642" cy="1663.5" r="17"/><circle cx="642" cy="1663.5" r="13.75"/><circle cx="642" cy="1663.5" r="8.75"/><path d="M625 1663.5 L633.25 1663.5"/><path d="M650.75 1663.5 L659 1663.5"/><rect x="1111" y="1206" width="463.5" height="365" rx="30" stroke-width="3"/><rect x="1117" y="1212" width="451.5" height="353" rx="25"/><rect x="1120" y="1215" width="445.5" height="347" rx="23"/><rect x="1191" y="1237" width="302.5" height="301.5" rx="5"/></g>
<g id="surfE"><path d="M122.3 1074.36 C123.46 1070.64 123.75 1066.43 125.78 1063.21 C127.88 1059.9 131.4 1056.65 134.84 1054.84 C138.16 1053.1 142.28 1053.17 145.99 1052.33" /><path d="M125.09 1074.63 C126.02 1071.29 126.22 1067.79 127.87 1064.6 C129.74 1061.01 133.45 1057.82 136.24 1054.43" /><path d="M145.99 1052.33 L315.33 1046.48 L315.75 1047.87" /><path d="M321.6 1047.87 L321.6 1046.48 L368.99 1047.87 C370.62 1048.2 372.44 1048.23 373.87 1048.85 C375.2 1049.43 376.19 1050.52 377.35 1051.36 L392.68 1067.39 C393.61 1068.41 394.89 1069.28 395.47 1070.45 C396.04 1071.6 395.93 1073.05 396.17 1074.36" /><path d="M125.09 1075.05 C127.18 1079 129.82 1082.32 131.36 1086.9 C133.23 1092.47 133.86 1099.57 134.56 1106.41 C135.33 1113.9 135.21 1122.21 135.54 1130.1" /><path d="M148.08 1052.75 C149.71 1060.42 151.69 1067.88 152.96 1075.75 C154.28 1083.9 155.16 1092.14 155.75 1100.84 C156.38 1110.2 156.21 1120.35 156.45 1130.1" /><path d="M392.68 1067.39 L392.68 1128.99" /><path d="M135.54 1128.99 L396.17 1128.99" /><path d="M222.65 1049.69 C232.87 1045.83 242.61 1040.96 253.31 1038.12 C264.41 1035.17 276.77 1032.71 288.15 1032.54 C299.05 1032.39 310.04 1034.19 320.21 1036.72 C329.97 1039.16 338.79 1043.69 348.08 1047.18" /><path d="M228.92 1049.69 C237.98 1046.3 246.54 1042.11 256.1 1039.51 C266.22 1036.76 277.7 1034.14 288.15 1033.94 C298.12 1033.74 308.15 1035.65 317.42 1037.84 C326.22 1039.92 334.15 1043.6 342.51 1046.48" /><path d="M273.52 1047.18 C279.33 1044.39 284.93 1040.55 290.94 1038.82 C296.78 1037.13 302.92 1036.53 309.06 1036.72 C315.46 1036.92 322.7 1038.45 328.57 1040.21 C333.7 1041.75 337.86 1044.2 342.51 1046.2" /><ellipse cx="127.87" cy="1112.68" rx="3.2" ry="19.5" /><ellipse cx="126.87" cy="1112.68" rx="1.5" ry="14" /><path d="M122.3 1074.36 L122.3 1075.05 L125.09 1075.05" /><path d="M121.6 1102.23 L123.69 1102.23 L124.81 1117.56" /><g transform="translate(0 2775) scale(1 -1)"><path d="M122.3 1074.36 C123.46 1070.64 123.75 1066.43 125.78 1063.21 C127.88 1059.9 131.4 1056.65 134.84 1054.84 C138.16 1053.1 142.28 1053.17 145.99 1052.33" /><path d="M125.09 1074.63 C126.02 1071.29 126.22 1067.79 127.87 1064.6 C129.74 1061.01 133.45 1057.82 136.24 1054.43" /><path d="M145.99 1052.33 L315.33 1046.48 L315.75 1047.87" /><path d="M321.6 1047.87 L321.6 1046.48 L368.99 1047.87 C370.62 1048.2 372.44 1048.23 373.87 1048.85 C375.2 1049.43 376.19 1050.52 377.35 1051.36 L392.68 1067.39 C393.61 1068.41 394.89 1069.28 395.47 1070.45 C396.04 1071.6 395.93 1073.05 396.17 1074.36" /><path d="M125.09 1075.05 C127.18 1079 129.82 1082.32 131.36 1086.9 C133.23 1092.47 133.86 1099.57 134.56 1106.41 C135.33 1113.9 135.21 1122.21 135.54 1130.1" /><path d="M148.08 1052.75 C149.71 1060.42 151.69 1067.88 152.96 1075.75 C154.28 1083.9 155.16 1092.14 155.75 1100.84 C156.38 1110.2 156.21 1120.35 156.45 1130.1" /><path d="M392.68 1067.39 L392.68 1128.99" /><path d="M135.54 1128.99 L396.17 1128.99" /><path d="M222.65 1049.69 C232.87 1045.83 242.61 1040.96 253.31 1038.12 C264.41 1035.17 276.77 1032.71 288.15 1032.54 C299.05 1032.39 310.04 1034.19 320.21 1036.72 C329.97 1039.16 338.79 1043.69 348.08 1047.18" /><path d="M228.92 1049.69 C237.98 1046.3 246.54 1042.11 256.1 1039.51 C266.22 1036.76 277.7 1034.14 288.15 1033.94 C298.12 1033.74 308.15 1035.65 317.42 1037.84 C326.22 1039.92 334.15 1043.6 342.51 1046.48" /><path d="M273.52 1047.18 C279.33 1044.39 284.93 1040.55 290.94 1038.82 C296.78 1037.13 302.92 1036.53 309.06 1036.72 C315.46 1036.92 322.7 1038.45 328.57 1040.21 C333.7 1041.75 337.86 1044.2 342.51 1046.2" /><ellipse cx="127.87" cy="1112.68" rx="3.2" ry="19.5" /><ellipse cx="126.87" cy="1112.68" rx="1.5" ry="14" /><path d="M122.3 1074.36 L122.3 1075.05 L125.09 1075.05" /><path d="M121.6 1102.23 L123.69 1102.23 L124.81 1117.56" /></g><path d="M124.81 1074.63 L124.81 1700.37"/><path d="M135.54 1130.1 L135.54 1644.9"/><path d="M156.45 1130.1 L156.45 1644.9"/><path d="M315.75 1046.48 L315.75 1728.52"/><path d="M317.42 1047.87 L317.42 1727.13"/><path d="M319.51 1047.87 L319.51 1727.13"/><path d="M321.6 1046.48 L321.6 1728.52"/><path d="M370.38 1047.87 L370.38 1727.13"/><path d="M377.35 1051.36 L377.35 1723.64"/><path d="M396.17 1074.36 L396.17 1700.64"/></g>
<g id="surfF"><path d="M1743 1074.36 L1761.81 1051.36 C1762.97 1050.34 1763.98 1048.87 1765.3 1048.29 C1766.55 1047.75 1768.08 1048.01 1769.48 1047.87 L1789.69 1047.46" /><path d="M1746.48 1070.17 L1746.48 1086.9" /><path d="M1743 1092.47 L1761.81 1075.05 C1762.97 1074.03 1763.98 1072.56 1765.3 1071.99 C1766.55 1071.44 1768.08 1071.71 1769.48 1071.57 L1775.75 1071.57" /><path d="M1743 1141.25 L1761.81 1118.26 C1762.74 1117.24 1763.5 1115.81 1764.6 1115.19 C1765.62 1114.62 1766.92 1114.73 1768.08 1114.49" /><path d="M1768.08 1114.49 L1817.56 1113.1 L1887.25 1114.77 L1970.87 1117.56 C1974.59 1118.95 1978.86 1119.61 1982.02 1121.74 C1985.11 1123.82 1988.07 1127.1 1989.69 1130.1 C1991.1 1132.73 1991.27 1135.55 1991.78 1138.47 C1992.32 1141.57 1992.79 1145.17 1992.75 1148.22 C1992.72 1150.93 1992.1 1153.33 1991.78 1155.89" /><path d="M1779.93 1114.08 L1885.85 1115.19" /><path d="M1969.48 1117.56 C1968.55 1131.5 1967.69 1144.9 1966.69 1159.37 C1965.61 1175.01 1964.1 1190.36 1963.21 1208.15 C1962.12 1229.61 1961.81 1255.54 1961.11 1279.23" /><path d="M1990.38 1164.95 C1989.22 1177.03 1988.13 1188.67 1986.9 1201.18 C1985.58 1214.62 1983.65 1229.54 1982.72 1243 C1981.85 1255.49 1981.79 1267.15 1981.32 1279.23" /><path d="M1917.91 1049.69 L1995.96 1052.75" /><path d="M2002.93 1053.45 C2005.71 1055.31 2009.07 1056.67 2011.29 1059.02 C2013.46 1061.33 2015.27 1064.6 2016.17 1067.39 C2016.95 1069.8 2016.63 1072.22 2016.86 1074.63" /><path d="M1944.39 1073.66 L2016.86 1074.36" /><path d="M1945.78 1109.2 C1949.5 1100.84 1953.51 1091.96 1956.93 1084.11 C1959.95 1077.21 1962.56 1069.65 1965.3 1064.6 C1967.18 1061.12 1968.62 1058.32 1970.87 1056.24 C1972.88 1054.38 1975.24 1052.76 1977.84 1052.33 C1980.74 1051.86 1984.74 1052.64 1987.6 1054.15 C1990.58 1055.72 1993.31 1058.72 1995.26 1061.81 C1997.36 1065.14 1998.05 1069.71 1999.44 1073.66" /><path d="M1972.96 1116.17 C1975.52 1110.13 1978.04 1103.65 1980.63 1098.05 C1982.93 1093.06 1985.06 1087.83 1987.6 1084.11 C1989.56 1081.23 1991.59 1078.8 1993.87 1077.14 C1995.82 1075.73 1998.05 1075.28 2000.14 1074.36" /><path d="M1962.51 1074.08 C1965.76 1075.1 1969.46 1075.44 1972.26 1077.14 C1975.02 1078.81 1977.6 1081.47 1979.23 1084.11 C1980.78 1086.61 1981.09 1089.69 1982.02 1092.47" /><path d="M1984.11 1120.35 C1985.27 1117.1 1986 1113.46 1987.6 1110.59 C1989.08 1107.93 1991.08 1105.14 1993.17 1103.62 C1994.88 1102.39 1996.3 1101.95 1998.75 1101.53 C2003.01 1100.81 2010.82 1101.81 2016.86 1101.95" /><path d="M2014.77 1074.63 L2014.77 1279.23" /><path d="M2010.59 1102.23 L2010.59 1279.23" /><path d="M2010.59 1129.41 L2014.77 1129.41" /><path d="M1775.75 1057.63 C1780.39 1054.15 1783.97 1050.31 1789.69 1047.18 C1797.15 1043.09 1808.14 1039.22 1817.56 1036.72 C1826.73 1034.3 1836.12 1032.61 1845.44 1032.26 C1854.71 1031.92 1864.12 1032.78 1873.31 1034.63 C1882.71 1036.54 1892.63 1040.46 1901.18 1043.69 C1908.73 1046.55 1915.86 1049.85 1922.09 1052.75 C1927.24 1055.15 1932.42 1056.75 1936.03 1059.72 C1939.11 1062.27 1941.6 1065.39 1943 1068.78 C1944.38 1072.14 1944.76 1076.15 1944.39 1079.93 C1943.98 1084.03 1941.87 1088.47 1940.21 1092.47 C1938.6 1096.36 1936.49 1099.91 1934.63 1103.62" /><path d="M1775.75 1058.33 C1781.32 1054.84 1786.01 1051.07 1792.47 1047.87 C1800.42 1043.95 1811.18 1039.88 1820.35 1037.42 C1828.82 1035.15 1836.83 1033.59 1845.44 1033.24 C1854.46 1032.88 1864.24 1033.75 1873.31 1035.61 C1882.36 1037.47 1890.96 1041.46 1899.79 1044.39" /><path d="M1775.75 1068.08 C1779.47 1064.6 1782.6 1060.84 1786.9 1057.63 C1791.74 1054.02 1798 1050.92 1803.62 1047.87 C1809.15 1044.88 1814.77 1042.3 1820.35 1039.51" /><path d="M1775.75 1077.84 C1780.39 1072.96 1784.86 1067.5 1789.69 1063.21 C1794.17 1059.22 1798.98 1056.24 1803.62 1052.75" /><path d="M1775.75 1089.69 C1779.47 1084.58 1782.64 1078.82 1786.9 1074.36 C1791.03 1070.03 1796.19 1066.92 1800.84 1063.21" /><path d="M1775.75 1057.63 C1775.52 1059.02 1775.13 1060.12 1775.05 1061.81 C1774.93 1064.38 1775.52 1068.32 1775.75 1071.57" /><path d="M1775.75 1071.57 L1775.75 1113.66" /><ellipse cx="1850.31" cy="1049.55" rx="37" ry="11.5" /><path d="M1802.23 1061.81 C1801.53 1059.49 1799.65 1057.04 1800.14 1054.84 C1800.7 1052.35 1803.4 1049.89 1806.41 1047.87 C1810.88 1044.88 1819.01 1042.53 1825.92 1040.91 C1833.35 1039.17 1841.71 1038.23 1849.62 1038.12 C1857.51 1038 1866.2 1038.59 1873.31 1040.21 C1879.47 1041.61 1886.02 1043.74 1890.03 1046.48 C1892.94 1048.46 1895.98 1051.01 1896.31 1053.45 C1896.61 1055.67 1894.9 1058.8 1892.82 1060.42 C1890.15 1062.5 1885.54 1062.61 1880.28 1063.21 C1871.61 1064.19 1856.68 1063.29 1845.44 1063.48 C1834.89 1063.67 1822.14 1064.54 1814.77 1064.32 C1810.61 1064.2 1807.23 1064.2 1805.02 1063.48 C1803.74 1063.07 1803.16 1062.37 1802.23 1061.81" /><path d="M1803.62 1062.51 C1805.48 1061.11 1807.31 1059.26 1809.2 1058.33 C1810.81 1057.53 1812.45 1057.4 1814.08 1056.93" /><path d="M1802.23 1052.75 C1804.09 1052.29 1805.93 1051.54 1807.8 1051.36 C1809.65 1051.18 1811.52 1051.54 1813.38 1051.64" /><path d="M1869.13 1040.63 C1870.06 1039.7 1870.91 1038.5 1871.92 1037.84 C1872.79 1037.26 1873.77 1037.1 1874.7 1036.72" /><path d="M1886.55 1054.84 C1888.64 1054.15 1891.12 1053.42 1892.82 1052.75 C1894.04 1052.27 1894.87 1051.82 1895.89 1051.36" /><path d="M1873.31 1037.42 C1882.6 1040.91 1892.28 1043.76 1901.18 1047.87 C1909.92 1051.91 1919.12 1056.95 1926.27 1061.81 C1932.22 1065.85 1936.49 1070.17 1941.6 1074.36" /><path d="M1897 1052.75 C1903.04 1056.24 1909.31 1059.37 1915.12 1063.21 C1920.93 1067.04 1926.9 1071.74 1931.85 1075.75 C1936.01 1079.12 1939.28 1082.25 1943 1085.51" /><path d="M1804.32 1097.35 C1808.73 1092.94 1812.51 1087.44 1817.56 1084.11 C1822.52 1080.84 1828.49 1078.63 1834.29 1077.42 C1840.1 1076.21 1846.66 1076.26 1852.4 1076.86 C1857.77 1077.43 1863.25 1079.13 1867.74 1080.63 C1871.41 1081.86 1874.24 1083.41 1877.49 1084.81" /><path d="M1823.14 1089.69 C1827.32 1087.6 1831.26 1084.69 1835.68 1083.41 C1840.09 1082.14 1844.77 1081.92 1849.62 1082.02 C1854.94 1082.13 1860.07 1083.35 1866.34 1084.39 C1874.47 1085.74 1885.7 1087.2 1894.22 1089.69 C1901.8 1091.9 1908.38 1094.79 1915.12 1098.05 C1921.85 1101.3 1928.45 1106.04 1934.63 1109.2 C1939.99 1111.94 1944.85 1113.84 1949.97 1116.17" /><path d="M1779.93 1114.08 C1787.83 1109.43 1795.3 1104.55 1803.62 1100.14 C1812.44 1095.46 1823.24 1089.68 1831.5 1086.9 C1837.64 1084.83 1843.19 1083.84 1848.22 1083.41 C1852.29 1083.07 1855.66 1083.69 1859.37 1083.83" /><path d="M1787.6 1114.08 C1794.8 1110.59 1802.12 1106.72 1809.2 1103.62 C1815.81 1100.73 1822.67 1097.64 1828.71 1095.96 C1833.67 1094.58 1838 1093.59 1842.65 1093.59 C1847.29 1093.59 1852.05 1094.47 1856.59 1095.96 C1861.35 1097.52 1865.87 1100.15 1870.52 1102.93 C1875.62 1105.96 1880.74 1110.08 1885.85 1113.66" /><path d="M1877.49 1084.81 C1885.39 1086.43 1893.67 1087.2 1901.18 1089.69 C1908.52 1092.12 1915.47 1095.88 1922.09 1099.44 C1928.45 1102.87 1934.47 1107.55 1940.21 1110.59 C1945.07 1113.17 1949.5 1114.77 1954.15 1116.86" /><path d="M1934.63 1103.62 L1941.6 1091.08" /><path d="M1936.72 1105.02 L1943 1092.47" /><path d="M1992.47 1206.06 L1988.99 1206.76 L1988.99 1214.43 L1993.45 1214.43 L1993.45 1236.03 L1990.38 1236.03 L1990.38 1279.23" /><path d="M1985.51 1217.91 L1985.51 1279.23" /><g transform="translate(0 2775) scale(1 -1)"><path d="M1743 1074.36 L1761.81 1051.36 C1762.97 1050.34 1763.98 1048.87 1765.3 1048.29 C1766.55 1047.75 1768.08 1048.01 1769.48 1047.87 L1789.69 1047.46" /><path d="M1746.48 1070.17 L1746.48 1086.9" /><path d="M1743 1092.47 L1761.81 1075.05 C1762.97 1074.03 1763.98 1072.56 1765.3 1071.99 C1766.55 1071.44 1768.08 1071.71 1769.48 1071.57 L1775.75 1071.57" /><path d="M1743 1141.25 L1761.81 1118.26 C1762.74 1117.24 1763.5 1115.81 1764.6 1115.19 C1765.62 1114.62 1766.92 1114.73 1768.08 1114.49" /><path d="M1768.08 1114.49 L1817.56 1113.1 L1887.25 1114.77 L1970.87 1117.56 C1974.59 1118.95 1978.86 1119.61 1982.02 1121.74 C1985.11 1123.82 1988.07 1127.1 1989.69 1130.1 C1991.1 1132.73 1991.27 1135.55 1991.78 1138.47 C1992.32 1141.57 1992.79 1145.17 1992.75 1148.22 C1992.72 1150.93 1992.1 1153.33 1991.78 1155.89" /><path d="M1779.93 1114.08 L1885.85 1115.19" /><path d="M1969.48 1117.56 C1968.55 1131.5 1967.69 1144.9 1966.69 1159.37 C1965.61 1175.01 1964.1 1190.36 1963.21 1208.15 C1962.12 1229.61 1961.81 1255.54 1961.11 1279.23" /><path d="M1990.38 1164.95 C1989.22 1177.03 1988.13 1188.67 1986.9 1201.18 C1985.58 1214.62 1983.65 1229.54 1982.72 1243 C1981.85 1255.49 1981.79 1267.15 1981.32 1279.23" /><path d="M1917.91 1049.69 L1995.96 1052.75" /><path d="M2002.93 1053.45 C2005.71 1055.31 2009.07 1056.67 2011.29 1059.02 C2013.46 1061.33 2015.27 1064.6 2016.17 1067.39 C2016.95 1069.8 2016.63 1072.22 2016.86 1074.63" /><path d="M1944.39 1073.66 L2016.86 1074.36" /><path d="M1945.78 1109.2 C1949.5 1100.84 1953.51 1091.96 1956.93 1084.11 C1959.95 1077.21 1962.56 1069.65 1965.3 1064.6 C1967.18 1061.12 1968.62 1058.32 1970.87 1056.24 C1972.88 1054.38 1975.24 1052.76 1977.84 1052.33 C1980.74 1051.86 1984.74 1052.64 1987.6 1054.15 C1990.58 1055.72 1993.31 1058.72 1995.26 1061.81 C1997.36 1065.14 1998.05 1069.71 1999.44 1073.66" /><path d="M1972.96 1116.17 C1975.52 1110.13 1978.04 1103.65 1980.63 1098.05 C1982.93 1093.06 1985.06 1087.83 1987.6 1084.11 C1989.56 1081.23 1991.59 1078.8 1993.87 1077.14 C1995.82 1075.73 1998.05 1075.28 2000.14 1074.36" /><path d="M1962.51 1074.08 C1965.76 1075.1 1969.46 1075.44 1972.26 1077.14 C1975.02 1078.81 1977.6 1081.47 1979.23 1084.11 C1980.78 1086.61 1981.09 1089.69 1982.02 1092.47" /><path d="M1984.11 1120.35 C1985.27 1117.1 1986 1113.46 1987.6 1110.59 C1989.08 1107.93 1991.08 1105.14 1993.17 1103.62 C1994.88 1102.39 1996.3 1101.95 1998.75 1101.53 C2003.01 1100.81 2010.82 1101.81 2016.86 1101.95" /><path d="M2014.77 1074.63 L2014.77 1279.23" /><path d="M2010.59 1102.23 L2010.59 1279.23" /><path d="M2010.59 1129.41 L2014.77 1129.41" /><path d="M1775.75 1057.63 C1780.39 1054.15 1783.97 1050.31 1789.69 1047.18 C1797.15 1043.09 1808.14 1039.22 1817.56 1036.72 C1826.73 1034.3 1836.12 1032.61 1845.44 1032.26 C1854.71 1031.92 1864.12 1032.78 1873.31 1034.63 C1882.71 1036.54 1892.63 1040.46 1901.18 1043.69 C1908.73 1046.55 1915.86 1049.85 1922.09 1052.75 C1927.24 1055.15 1932.42 1056.75 1936.03 1059.72 C1939.11 1062.27 1941.6 1065.39 1943 1068.78 C1944.38 1072.14 1944.76 1076.15 1944.39 1079.93 C1943.98 1084.03 1941.87 1088.47 1940.21 1092.47 C1938.6 1096.36 1936.49 1099.91 1934.63 1103.62" /><path d="M1775.75 1058.33 C1781.32 1054.84 1786.01 1051.07 1792.47 1047.87 C1800.42 1043.95 1811.18 1039.88 1820.35 1037.42 C1828.82 1035.15 1836.83 1033.59 1845.44 1033.24 C1854.46 1032.88 1864.24 1033.75 1873.31 1035.61 C1882.36 1037.47 1890.96 1041.46 1899.79 1044.39" /><path d="M1775.75 1068.08 C1779.47 1064.6 1782.6 1060.84 1786.9 1057.63 C1791.74 1054.02 1798 1050.92 1803.62 1047.87 C1809.15 1044.88 1814.77 1042.3 1820.35 1039.51" /><path d="M1775.75 1077.84 C1780.39 1072.96 1784.86 1067.5 1789.69 1063.21 C1794.17 1059.22 1798.98 1056.24 1803.62 1052.75" /><path d="M1775.75 1089.69 C1779.47 1084.58 1782.64 1078.82 1786.9 1074.36 C1791.03 1070.03 1796.19 1066.92 1800.84 1063.21" /><path d="M1775.75 1057.63 C1775.52 1059.02 1775.13 1060.12 1775.05 1061.81 C1774.93 1064.38 1775.52 1068.32 1775.75 1071.57" /><path d="M1775.75 1071.57 L1775.75 1113.66" /><ellipse cx="1850.31" cy="1049.55" rx="37" ry="11.5" /><path d="M1802.23 1061.81 C1801.53 1059.49 1799.65 1057.04 1800.14 1054.84 C1800.7 1052.35 1803.4 1049.89 1806.41 1047.87 C1810.88 1044.88 1819.01 1042.53 1825.92 1040.91 C1833.35 1039.17 1841.71 1038.23 1849.62 1038.12 C1857.51 1038 1866.2 1038.59 1873.31 1040.21 C1879.47 1041.61 1886.02 1043.74 1890.03 1046.48 C1892.94 1048.46 1895.98 1051.01 1896.31 1053.45 C1896.61 1055.67 1894.9 1058.8 1892.82 1060.42 C1890.15 1062.5 1885.54 1062.61 1880.28 1063.21 C1871.61 1064.19 1856.68 1063.29 1845.44 1063.48 C1834.89 1063.67 1822.14 1064.54 1814.77 1064.32 C1810.61 1064.2 1807.23 1064.2 1805.02 1063.48 C1803.74 1063.07 1803.16 1062.37 1802.23 1061.81" /><path d="M1803.62 1062.51 C1805.48 1061.11 1807.31 1059.26 1809.2 1058.33 C1810.81 1057.53 1812.45 1057.4 1814.08 1056.93" /><path d="M1802.23 1052.75 C1804.09 1052.29 1805.93 1051.54 1807.8 1051.36 C1809.65 1051.18 1811.52 1051.54 1813.38 1051.64" /><path d="M1869.13 1040.63 C1870.06 1039.7 1870.91 1038.5 1871.92 1037.84 C1872.79 1037.26 1873.77 1037.1 1874.7 1036.72" /><path d="M1886.55 1054.84 C1888.64 1054.15 1891.12 1053.42 1892.82 1052.75 C1894.04 1052.27 1894.87 1051.82 1895.89 1051.36" /><path d="M1873.31 1037.42 C1882.6 1040.91 1892.28 1043.76 1901.18 1047.87 C1909.92 1051.91 1919.12 1056.95 1926.27 1061.81 C1932.22 1065.85 1936.49 1070.17 1941.6 1074.36" /><path d="M1897 1052.75 C1903.04 1056.24 1909.31 1059.37 1915.12 1063.21 C1920.93 1067.04 1926.9 1071.74 1931.85 1075.75 C1936.01 1079.12 1939.28 1082.25 1943 1085.51" /><path d="M1804.32 1097.35 C1808.73 1092.94 1812.51 1087.44 1817.56 1084.11 C1822.52 1080.84 1828.49 1078.63 1834.29 1077.42 C1840.1 1076.21 1846.66 1076.26 1852.4 1076.86 C1857.77 1077.43 1863.25 1079.13 1867.74 1080.63 C1871.41 1081.86 1874.24 1083.41 1877.49 1084.81" /><path d="M1823.14 1089.69 C1827.32 1087.6 1831.26 1084.69 1835.68 1083.41 C1840.09 1082.14 1844.77 1081.92 1849.62 1082.02 C1854.94 1082.13 1860.07 1083.35 1866.34 1084.39 C1874.47 1085.74 1885.7 1087.2 1894.22 1089.69 C1901.8 1091.9 1908.38 1094.79 1915.12 1098.05 C1921.85 1101.3 1928.45 1106.04 1934.63 1109.2 C1939.99 1111.94 1944.85 1113.84 1949.97 1116.17" /><path d="M1779.93 1114.08 C1787.83 1109.43 1795.3 1104.55 1803.62 1100.14 C1812.44 1095.46 1823.24 1089.68 1831.5 1086.9 C1837.64 1084.83 1843.19 1083.84 1848.22 1083.41 C1852.29 1083.07 1855.66 1083.69 1859.37 1083.83" /><path d="M1787.6 1114.08 C1794.8 1110.59 1802.12 1106.72 1809.2 1103.62 C1815.81 1100.73 1822.67 1097.64 1828.71 1095.96 C1833.67 1094.58 1838 1093.59 1842.65 1093.59 C1847.29 1093.59 1852.05 1094.47 1856.59 1095.96 C1861.35 1097.52 1865.87 1100.15 1870.52 1102.93 C1875.62 1105.96 1880.74 1110.08 1885.85 1113.66" /><path d="M1877.49 1084.81 C1885.39 1086.43 1893.67 1087.2 1901.18 1089.69 C1908.52 1092.12 1915.47 1095.88 1922.09 1099.44 C1928.45 1102.87 1934.47 1107.55 1940.21 1110.59 C1945.07 1113.17 1949.5 1114.77 1954.15 1116.86" /><path d="M1934.63 1103.62 L1941.6 1091.08" /><path d="M1936.72 1105.02 L1943 1092.47" /><path d="M1992.47 1206.06 L1988.99 1206.76 L1988.99 1214.43 L1993.45 1214.43 L1993.45 1236.03 L1990.38 1236.03 L1990.38 1279.23" /><path d="M1985.51 1217.91 L1985.51 1279.23" /></g><path d="M1743 1074.36 L1743 1700.64"/><path d="M1746.48 1086.9 L1746.48 1688.1"/><path d="M1761.81 1051.36 L1761.81 1723.64"/><path d="M1769.48 1047.87 L1769.48 1727.13"/><path d="M1817.56 1113.1 L1817.56 1661.9"/><path d="M1819.23 1113.66 L1819.23 1661.34"/><path d="M1822.44 1113.66 L1822.44 1661.34"/><path d="M1823.83 1113.1 L1823.83 1661.9"/><path d="M1961.11 1278 L1961.11 1497"/><path d="M1981.32 1278 L1981.32 1497"/><path d="M1985.51 1278 L1985.51 1497"/><path d="M1990.38 1278 L1990.38 1497"/><path d="M2010.59 1278 L2010.59 1497"/><path d="M2014.77 1278 L2014.77 1497"/><path d="M1743 1277.6 L1981.32 1277.6"/><path d="M1743 1497.4 L1981.32 1497.4"/></g>
<g id="surfG"><path d="M2291.25 2057.5 C2289.17 2043.33 2285.58 2022.87 2285 2015 C2284.78 2012 2284.35 2011.09 2285 2008.75 C2285.99 2005.18 2289.05 2000.33 2292.5 1996.25 C2296.84 1991.12 2303.34 1985.67 2310 1981.25 C2317.33 1976.38 2324.18 1974.31 2335 1968.75 C2355.36 1958.28 2396.97 1935.63 2422.5 1922.5 C2442.16 1912.39 2461.84 1902.34 2475 1896.25 C2482.76 1892.66 2487.5 1890.92 2493.75 1888.25" /><path d="M2493.75 1888.25 L2501.25 1887 L2503.75 1890.75 L2490 1895" /><path d="M2501.25 1887 L2485 1893" /><path d="M2512.5 1892 C2536.67 1888 2560.71 1884.84 2585 1880 C2609.87 1875.05 2635.16 1869.52 2660 1862.5 C2685.17 1855.39 2712.68 1845.95 2735 1837.5 C2753.51 1830.5 2765.74 1825.43 2785 1816.25 C2812.66 1803.07 2856.81 1779.43 2884 1763.75 C2903.72 1752.38 2917.33 1742.92 2934 1732.5" /><path d="M2934 1732.5 L2939 1725 L2940.25 1708.75 L2946.5 1705.5 L2964 1701.25 L2954 1711.25 L2952.75 1705.5 L2946.5 1705.5" /><path d="M2940.25 1708.75 L2952.75 1705.5" /><path d="M2964 1701.25 C2967.33 1700.42 2969.79 1700.38 2974 1698.75 C2982.27 1695.56 2997.83 1684.72 3009 1680 C3018.53 1675.97 3025.97 1673.6 3036.5 1671.25 C3050.07 1668.22 3069.07 1666.08 3084 1665 C3097.21 1664.05 3109.03 1663.76 3121.5 1664.5 C3134.03 1665.25 3147.37 1666.49 3159 1669.5 C3169.74 1672.28 3177.03 1676.03 3189 1681.25 C3207.59 1689.36 3235.59 1704.13 3259 1715 C3282.25 1725.79 3311.81 1736.9 3329 1746.25 C3339.72 1752.08 3347.17 1756.11 3354 1762.5 C3360.26 1768.35 3365.66 1774.86 3369 1782.5 C3372.53 1790.58 3372.83 1800.8 3374 1810 C3375.16 1819.14 3376.41 1828.36 3376 1837.5 C3375.59 1846.69 3374.87 1856.17 3371.5 1865 C3367.85 1874.56 3361.62 1884.71 3354 1892.5 C3345.98 1900.69 3335.08 1906.83 3324 1912.5 C3311.94 1918.68 3297.8 1922.81 3284 1927.5 C3269.52 1932.42 3257.03 1935.18 3239 1941.25 C3211.2 1950.62 3168.09 1964.84 3134 1980 C3099.75 1995.23 3060.83 2014.38 3034 2032.5 C3013.55 2046.31 2997.6 2062.46 2984 2075 C2974.02 2084.21 2964.63 2092.79 2959 2100 C2955.39 2104.63 2954.86 2108.2 2951.5 2112.5 C2947.12 2118.1 2941.12 2124.37 2934 2130 C2925.16 2136.99 2914.48 2142.78 2901.5 2150 C2883.25 2160.15 2857.48 2172.5 2834 2183.75 C2808.8 2195.83 2772.43 2210.6 2755 2220 C2745.92 2224.9 2742.31 2229.4 2735 2232.5 C2727.36 2235.74 2718.39 2237.5 2710 2238.75 C2701.73 2239.98 2693.3 2240.61 2685 2240 C2676.63 2239.38 2667.48 2237.32 2660 2235 C2653.53 2232.99 2648.33 2230 2642.5 2227.5" /><path d="M2642.5 2227.5 L2310 2075" /><path d="M2310 2075 C2305.83 2072.5 2300.69 2070.63 2297.5 2067.5 C2294.63 2064.68 2293.33 2060.83 2291.25 2057.5" /><path d="M2311.25 2071.25 L2641.25 2221.25" /><path d="M2641.25 2221.25 C2649.17 2224.17 2656.31 2228.28 2665 2230 C2674.85 2231.95 2686.73 2232.27 2697.5 2231.25 C2708.4 2230.22 2720.18 2227.16 2730 2223.75 C2738.72 2220.72 2743.47 2217.26 2753.75 2212.5 C2772.57 2203.79 2808.24 2188.28 2834 2176.25 C2858.2 2164.95 2886.57 2151.06 2904 2142.5 C2914.46 2137.37 2922.05 2135.01 2929 2130 C2935.05 2125.64 2939.51 2119.49 2944 2115 C2947.67 2111.33 2950.48 2108.52 2954 2105 C2957.93 2101.07 2961.04 2097.79 2966.5 2092.5 C2976.41 2082.88 2992.34 2066.36 3009 2052.5 C3030.03 2035 3056.26 2015.16 3084 1997.5 C3115.47 1977.47 3158.99 1952.11 3189 1940 C3209.71 1931.64 3227.16 1929.92 3244 1925 C3258.43 1920.78 3270.97 1917.13 3284 1912.5 C3296.79 1907.95 3310.31 1903.68 3321.5 1897.5 C3331.77 1891.83 3341.38 1885.26 3349 1877.5 C3356.22 1870.15 3362.76 1860.99 3366.5 1852.5 C3369.75 1845.12 3369.83 1837.5 3371.5 1830" /><path d="M2289.5 2015 C2289.25 2013.17 2288.28 2011.57 2288.75 2009.5 C2289.48 2006.25 2292.94 2001.81 2296.25 1998 C2300.4 1993.22 2306.34 1987.89 2312.5 1983.75 C2319.14 1979.29 2325.03 1977.58 2335 1972.5 C2355.03 1962.29 2398.98 1939.07 2425 1925.75 C2444.81 1915.61 2461.37 1904.14 2477.5 1899.25 C2489.99 1895.47 2498.76 1896.97 2512.5 1895 C2532.34 1892.15 2560.71 1887.84 2585 1883 C2609.87 1878.05 2635.16 1872.52 2660 1865.5 C2685.17 1858.39 2712.68 1848.95 2735 1840.5 C2753.51 1833.5 2765.73 1828.37 2785 1819.25 C2812.64 1806.18 2856.83 1783.06 2884 1767.5 C2903.74 1756.19 2919.69 1746.34 2934 1736.25 C2945.53 1728.12 2954.91 1719.21 2964 1712.5 C2971.24 1707.15 2976.89 1703.32 2984 1698.75 C2991.8 1693.74 3000.03 1687.75 3009 1683.75 C3018.31 1679.59 3027.88 1676.97 3039 1674.5 C3052.38 1671.53 3069.65 1669.34 3084 1668.25 C3097.04 1667.26 3109.03 1667.01 3121.5 1667.75 C3134.03 1668.5 3147.5 1669.73 3159 1672.75 C3169.4 1675.48 3176.12 1679.18 3187.75 1684.25 C3206.3 1692.34 3235.42 1707.06 3259 1718 C3282.08 1728.71 3311.05 1739.99 3327.75 1749.25 C3338.01 1754.94 3345.08 1758.87 3351.5 1765 C3357.3 1770.53 3362.13 1776.58 3365.25 1783.75 C3368.6 1791.44 3370.11 1802.28 3370.25 1810 C3370.36 1816.05 3369.73 1821.15 3367.75 1826.25 C3365.68 1831.59 3362.5 1836.96 3357.75 1841.25 C3351.95 1846.48 3342.21 1850.61 3334 1853.75 C3325.95 1856.82 3315.92 1858.44 3309 1860 C3304.13 1861.09 3300.67 1861.67 3296.5 1862.5" /><path d="M2302 2012.5 C2303.42 2008.75 2303.82 2004.82 2306.25 2001.25 C2309.27 1996.81 2314.56 1992.48 2320 1988.75 C2326.33 1984.41 2332.47 1982.58 2342.5 1977.5 C2362.89 1967.17 2408.84 1943.26 2435 1930 C2454.18 1920.28 2470.12 1909.84 2485 1905 C2495.97 1901.43 2502.91 1901.98 2515 1900 C2533.46 1896.98 2561.35 1893.4 2585 1888.75 C2609.65 1883.9 2635.16 1878.27 2660 1871.25 C2685.17 1864.14 2712.66 1854.6 2735 1846.25 C2753.49 1839.34 2765.72 1834.4 2785 1825.5 C2812.63 1812.74 2856.91 1790.65 2884 1775 C2903.84 1763.53 2920.39 1752.33 2934 1742.5 C2943.97 1735.3 2950.97 1729.27 2959 1722.5 C2966.79 1715.93 2973.22 1708.11 2981.5 1702.5 C2989.87 1696.83 2999.52 1692.88 3009 1688.75 C3018.68 1684.53 3027.81 1680.24 3039 1677.5 C3052.31 1674.24 3069.66 1672.87 3084 1672 C3097.04 1671.21 3109.03 1671.09 3121.5 1672 C3134.03 1672.91 3147.88 1674.76 3159 1677.5 C3168.3 1679.79 3173.57 1682 3184 1686.25 C3202.44 1693.76 3235.12 1710.19 3259 1721.25 C3280.77 1731.34 3306.12 1741.41 3321.5 1750 C3331.14 1755.39 3337.99 1759.19 3344 1765 C3349.36 1770.19 3354.01 1776.13 3356.5 1782.5 C3358.91 1788.67 3360.25 1796.25 3359 1802.5 C3357.75 1808.75 3353.64 1814.96 3349 1820 C3343.91 1825.53 3336.83 1830.13 3329 1833.75 C3319.78 1838.01 3307.77 1839.86 3296.5 1842.5 C3284.49 1845.31 3272.31 1846.68 3259 1850 C3243.44 1853.88 3225.57 1859.41 3209 1865 C3192.24 1870.65 3175.52 1876.74 3159 1883.75 C3142.18 1890.88 3126.9 1898.94 3109 1907.5 C3088.17 1917.46 3064.49 1926.26 3041.5 1940 C3014.67 1956.04 2981.38 1980.87 2959 2000 C2941.82 2014.68 2927.64 2029.46 2916.5 2042.5 C2908.12 2052.31 2902.37 2061.85 2896.5 2070 C2891.83 2076.48 2889.14 2082.24 2884 2087.5 C2878.46 2093.17 2871.61 2097.97 2864 2102.5 C2855.25 2107.7 2846.87 2110.22 2834 2116.25 C2810.53 2127.26 2757.25 2154.55 2735 2163.75 C2724.07 2168.27 2717.95 2170.38 2710 2172.5 C2703.04 2174.36 2697.07 2175.59 2690 2176.25 C2682.16 2176.98 2673.07 2177.14 2665 2176.25 C2657.25 2175.4 2652.15 2174.41 2642.5 2171.25 C2623.41 2165 2588.79 2147.8 2560 2135 C2528.24 2120.88 2493.39 2104.69 2460 2090 C2426.73 2075.36 2386.37 2057.94 2360 2047 C2342.9 2039.91 2327.26 2035.28 2317.5 2030 C2311.86 2026.95 2307.55 2024.63 2305 2021.25 C2303.02 2018.62 2303 2015.42 2302 2012.5" /><path d="M2307.5 2013.75 C2308.75 2010.42 2309.04 2007.01 2311.25 2003.75 C2314.16 1999.45 2319.56 1994.98 2325 1991.25 C2331.33 1986.91 2337.47 1985.08 2347.5 1980 C2367.89 1969.67 2413.82 1945.63 2440 1932.5 C2459.16 1922.89 2475.52 1912.76 2490 1908 C2500.26 1904.62 2506.3 1904.93 2517.5 1903 C2535.02 1899.98 2561.99 1896.55 2585 1892 C2609.42 1887.17 2635.16 1881.52 2660 1874.5 C2685.17 1867.39 2712.66 1857.85 2735 1849.5 C2753.49 1842.59 2765.71 1837.61 2785 1828.75 C2812.62 1816.07 2856.2 1794.86 2884 1778.75 C2905.42 1766.34 2924.43 1753.1 2939 1742.5 C2949.16 1735.11 2956.14 1728.84 2964 1722.5 C2971.05 1716.82 2976.72 1711.15 2984 1706.25 C2991.66 1701.09 2999.94 1696.53 3009 1692.5 C3018.95 1688.08 3029.79 1684.04 3041.5 1681.25 C3054.58 1678.14 3070.25 1676.43 3084 1675.5 C3096.86 1674.63 3109.03 1674.59 3121.5 1675.5 C3134.03 1676.41 3148.06 1678.16 3159 1681 C3167.96 1683.33 3172.68 1685.79 3182.75 1690 C3201.05 1697.66 3235.12 1713.95 3259 1725 C3280.21 1734.82 3304.32 1744.64 3319 1753 C3328.15 1758.21 3334.57 1761.98 3340.25 1767.5 C3345.26 1772.38 3349.74 1777.92 3352 1783.75 C3354.12 1789.22 3355.07 1795.68 3354 1801.25 C3352.9 1806.95 3349.47 1812.87 3345.25 1817.5 C3340.59 1822.62 3333.78 1826.61 3326.5 1830 C3317.93 1833.99 3307.12 1836.15 3296.5 1838.75 C3284.76 1841.63 3272.31 1842.93 3259 1846.25 C3243.44 1850.13 3225.57 1855.66 3209 1861.25 C3192.24 1866.9 3175.52 1872.99 3159 1880 C3142.18 1887.13 3127.5 1895.03 3109 1903.75 C3086 1914.59 3056.77 1924.83 3031.5 1940 C3004.18 1956.4 2973.44 1980.97 2951.5 2000 C2934.49 2014.75 2919.86 2029.39 2909 2042.5 C2900.92 2052.25 2895.78 2062.26 2890.25 2070 C2886.1 2075.81 2883.74 2080.45 2879 2085 C2873.61 2090.17 2866.2 2094.5 2859 2098.75 C2851.28 2103.31 2845.02 2105.82 2834 2111.25 C2812.7 2121.76 2760.75 2148.29 2740 2157 C2730.08 2161.16 2725.43 2162.51 2717.5 2165 C2708.84 2167.72 2698.78 2171.32 2690 2172.5 C2682.2 2173.54 2674.96 2173.24 2667.5 2172.5 C2659.96 2171.75 2654.69 2171.03 2645 2168 C2625.52 2161.92 2589.43 2144.23 2560 2131.25 C2527.97 2117.12 2492.7 2100.9 2460 2086.25 C2428.58 2072.17 2392.96 2055.48 2367.5 2045 C2349.95 2037.78 2332.68 2033.11 2322.5 2028 C2316.85 2025.16 2312.42 2022.92 2310 2020 C2308.37 2018.03 2308.33 2015.83 2307.5 2013.75" /><path d="M2285 2015 C2287.5 2018.33 2289.04 2022.11 2292.5 2025 C2296.83 2028.61 2302.58 2030.42 2310 2033.75 C2322.31 2039.28 2340.6 2045.39 2360 2053.75 C2387.75 2065.71 2426.63 2084.77 2460 2100 C2493.29 2115.19 2529.02 2131.32 2560 2145 C2586.75 2156.81 2616.55 2170.76 2635 2177.5 C2645.43 2181.31 2651.59 2183.33 2660 2185 C2668.26 2186.64 2676.67 2187.5 2685 2187.5 C2693.33 2187.5 2701.77 2186.82 2710 2185 C2718.45 2183.13 2726.82 2179.9 2735 2176.25 C2743.49 2172.46 2749.4 2168.1 2760 2162.5 C2778.08 2152.95 2810.31 2136.68 2834 2125 C2855.65 2114.32 2882.1 2102.05 2896.5 2095 C2904.15 2091.25 2908.17 2089.17 2914 2086.25" /><path d="M2289.5 2015 C2291.33 2017.5 2292.37 2020.22 2295 2022.5 C2298.55 2025.58 2303.43 2027.45 2310 2030.5 C2321.69 2035.94 2340.59 2042.18 2360 2050.5 C2387.73 2062.38 2426.64 2081.11 2460 2096.25 C2493.31 2111.36 2529.02 2127.57 2560 2141.25 C2586.75 2153.06 2616.55 2167.01 2635 2173.75 C2645.43 2177.56 2651.59 2179.58 2660 2181.25 C2668.26 2182.89 2676.67 2183.75 2685 2183.75 C2693.33 2183.75 2701.77 2183.07 2710 2181.25 C2718.45 2179.38 2726.79 2176.05 2735 2172.5 C2743.47 2168.84 2749.44 2164.92 2760 2159.5 C2778.12 2150.2 2810.31 2133.68 2834 2122 C2855.65 2111.32 2883.69 2098.65 2896.5 2092 C2902.32 2088.98 2904.83 2087.33 2909 2085" /><path d="M3295.65 1849.32 C3281.99 1852.51 3269.25 1855.09 3254.66 1858.88 C3237.7 1863.3 3216.69 1868.35 3200 1874.6 C3185.11 1880.18 3173.33 1887 3159 1893.75 C3143.15 1901.22 3125.58 1909.74 3109 1917.5 C3092.67 1925.15 3078.29 1929.67 3060.25 1940 C3035.01 1954.46 2997.42 1980.41 2974 2000 C2955.77 2015.25 2941.04 2031.12 2929 2045 C2919.76 2055.66 2912.46 2068.13 2906.5 2075 C2903.08 2078.95 2900.67 2080.83 2897.75 2083.75" /><path d="M3276.52 1856.15 C3269.24 1858.2 3263.58 1859.76 3254.66 1862.3 C3240.54 1866.32 3216.59 1871.27 3200 1878.02 C3185 1884.11 3173.44 1892.71 3159 1900 C3143.25 1907.96 3124.53 1916.7 3109 1923.75 C3095.66 1929.81 3086.15 1931.9 3071.5 1940 C3047.9 1953.04 3007.64 1980.36 2984 2000 C2965.69 2015.21 2951.04 2031.12 2939 2045 C2929.76 2055.66 2923 2069.03 2916.5 2075 C2912.85 2078.35 2909.83 2079.17 2906.5 2081.25" /><path d="M2906.5 2081.25 L2914 2084.5 L2920.25 2077 L2916.5 2075" /><path d="M3276.52 1860.93 L3281.99 1862.98 L3294.29 1858.88" /><path d="M3276.52 1856.15 L3276.52 1860.93" /><path d="M3279.26 1861.62 C3279.03 1864.81 3279.32 1867.85 3278.57 1871.18 C3277.7 1875.09 3276.09 1879.69 3273.79 1883.48 C3271.38 1887.46 3267.55 1891.84 3264.23 1894.41 C3261.58 1896.46 3260.07 1896.87 3256.03 1898.51 C3245.78 1902.67 3218.51 1909.44 3200 1916.28 C3181.17 1923.24 3164.38 1930.31 3144 1940 C3118.37 1952.18 3085.87 1968.16 3059 1985 C3032.58 2001.56 3004.07 2022.21 2984 2040 C2968.59 2053.66 2954.08 2070.97 2946.5 2080 C2942.88 2084.31 2941.5 2086.67 2939 2090" /><path d="M3282.67 1863.67 C3282.45 1866.63 3282.71 1869.41 3281.99 1872.55 C3281.12 1876.38 3279.43 1881.03 3277.21 1884.85 C3274.91 1888.79 3271.69 1893.24 3268.32 1895.78 C3265.43 1897.96 3261.95 1898.51 3258.76 1899.88" /><path d="M3294.29 1858.88 C3294.52 1862.98 3295.51 1866.93 3294.97 1871.18 C3294.36 1876 3292.53 1881.49 3290.19 1886.21 C3287.79 1891.07 3284.28 1895.77 3280.62 1899.88 C3276.99 1903.96 3272.17 1908.21 3268.32 1910.81 C3265.45 1912.76 3263.49 1913.54 3260.13 1914.91 C3255.14 1916.95 3248.58 1918.64 3240.99 1921.06 C3229.91 1924.6 3213.8 1930.88 3200 1934.04 C3186.46 1937.15 3174.69 1934.79 3159 1940 C3134.68 1948.08 3098.99 1970.07 3071.5 1987.5 C3044.93 2004.34 3017.3 2024.14 2996.5 2042.5 C2979.54 2057.48 2959.69 2076.5 2954 2087.5 C2951.42 2092.49 2952.33 2095.83 2951.5 2100" /><path d="M3297.7 1861.62 C3297.7 1864.81 3298.21 1867.61 3297.7 1871.18 C3297.02 1875.96 3295.3 1882.47 3292.92 1887.58 C3290.53 1892.72 3287.09 1897.78 3283.36 1901.93 C3279.76 1905.93 3275.08 1909.71 3271.06 1912.18 C3267.82 1914.16 3265.25 1914.8 3261.49 1916.28 C3256.24 1918.34 3250.02 1920.57 3242.36 1923.11 C3231.04 1926.86 3214.12 1931.76 3200 1936.09" /><path d="M2920.25 2077 C2921.5 2081.33 2921.48 2086.98 2924 2090 C2926.29 2092.75 2930.63 2094.82 2934 2095 C2937.3 2095.17 2940.67 2092.5 2944 2091.25" /><path d="M2914 2084.5 C2915.67 2090.5 2915.86 2097.75 2919 2102.5 C2921.91 2106.9 2926.94 2111.86 2931.5 2112.5 C2936.1 2113.15 2943.04 2108.85 2946.5 2106.25 C2948.93 2104.42 2949.83 2102.08 2951.5 2100" /><path d="M2916.5 2087.5 C2918.17 2093.33 2918.4 2100.34 2921.5 2105 C2924.41 2109.37 2929.4 2114.18 2934 2115 C2938.57 2115.82 2945.55 2112.4 2949 2110 C2951.45 2108.29 2952.33 2105.83 2954 2103.75" /><path d="M2944 2091.25 L2939 2090" /><path d="M2950.25 2085 L2951.5 2100" /><path d="M3295.65 1858.88 C3301.58 1856.38 3307.54 1854.08 3313.42 1851.37 C3319.38 1848.62 3325.43 1845.6 3331.18 1842.49 C3336.81 1839.44 3342.59 1836.77 3347.58 1832.92 C3352.62 1829.04 3357.58 1823.91 3361.25 1819.26 C3364.41 1815.23 3367.17 1811.22 3368.76 1806.96 C3370.24 1803 3371.03 1798.74 3370.81 1794.66 C3370.59 1790.54 3369.4 1786.57 3367.4 1782.36 C3364.88 1777.07 3361.17 1771.65 3355.78 1765.96 C3348.01 1757.76 3333.92 1748.65 3322.98 1740" /><path d="M3295.65 1861.62 C3301.58 1859.25 3307.5 1857.18 3313.42 1854.51 C3319.57 1851.74 3325.88 1848.45 3331.87 1845.22 C3337.72 1842.07 3343.73 1839.34 3348.95 1835.38 C3354.22 1831.38 3359.52 1826.17 3363.3 1821.31 C3366.56 1817.11 3369.22 1812.87 3370.81 1808.32 C3372.34 1803.97 3372.18 1799.21 3372.86 1794.66" /><path d="M3200 1938.14 C3213.66 1933.13 3226.3 1928.19 3240.99 1923.11 C3257.86 1917.28 3281.35 1910.61 3295.65 1905.35 C3305.11 1901.87 3311.72 1899.04 3318.88 1895.78 C3325.26 1892.88 3331.25 1890.23 3336.65 1886.9 C3341.65 1883.8 3346.06 1880.54 3350.31 1876.65 C3354.73 1872.61 3359.09 1867.97 3362.61 1862.98 C3366.16 1857.96 3369.32 1852.19 3371.49 1846.59 C3373.57 1841.25 3374.23 1835.65 3375.59 1830.19" /><path d="M2303.75 2026.25 L2311.25 2071.25" /><path d="M2635 2178.75 L2641.25 2222.5" /><path d="M2750 2168.75 L2755 2215" /><path d="M2648.25 2171.25 L2649.5 2177.5" /><path d="M2738.25 2165 L2739.5 2171.25" /><path d="M2899.5 2095 L2906 2143.75" /><path d="M2895.25 2072.5 L2897.75 2083.75" /><path d="M3305.22 1857.52 L3310.69 1899.88" /><path d="M3314.1 1854.1 L3318.88 1895.78" /><path d="M3240.99 1907.4 L3244.41 1931.31" /><path d="M2987.75 1702.5 L2994 1743.75" /><path d="M3040.25 1680 L3041.5 1693.75" /><path d="M3175.25 1687.5 L3181.5 1736.25" /><path d="M3316.5 1753.75 L3321.5 1798.75" /><path d="M3352.75 1800 L3356.5 1812.5" /><path d="M3036.5 1671.25 L3037.75 1677.5" /><path d="M3187.75 1681.25 L3189 1687.5" /><path d="M3329 1746.25 L3330.25 1752.5" /><path d="M2972.75 1700 L2974 1712.5" /><path d="M2515 1900 L2522.5 1948.75" /><path d="M2435 1930 L2440.5 1973.75" /><path d="M2423.75 1922.5 L2425 1927.5" /><path d="M2513.75 1892.5 L2515 1900" /><path d="M2327.5 1990 L2331.25 2001.25" /><path d="M2317 1975 L2318 1981.25" /><path d="M2367.5 2013.75 C2382.5 2005.42 2396.65 1997.11 2412.5 1988.75 C2429.82 1979.61 2448.75 1967.96 2467.5 1961.25 C2485.45 1954.83 2503.54 1952.61 2522.5 1948.75 C2542.62 1944.65 2563.28 1941.99 2585 1937.5 C2608.92 1932.56 2635 1925.83 2660 1920" /><path d="M2745 1892.5 C2758.33 1886.67 2770.95 1880.94 2785 1875 C2800.47 1868.46 2817.89 1863.06 2834 1855 C2850.91 1846.54 2867.61 1836.02 2884 1825 C2900.97 1813.59 2919.58 1798.91 2934 1787.5 C2945.4 1778.48 2953.74 1769.93 2964 1762.5 C2973.76 1755.43 2985.56 1748.11 2994 1743.75 C2999.72 1740.8 3003.43 1739.43 3009 1737.5 C3015.68 1735.19 3024 1733.33 3031.5 1731.25" /><path d="M3076.5 1722 C3086.5 1721.75 3095.79 1720.88 3106.5 1721.25 C3118.89 1721.67 3133.75 1722.39 3146.5 1725 C3158.7 1727.5 3169.83 1732.5 3181.5 1736.25" /><path d="M3181.5 1736.25 L3259 1772.5" /><path d="M3299 1790 C3307.33 1793.33 3317.32 1796.11 3324 1800 C3329.15 1803 3332.65 1806.56 3336.5 1810 C3340.12 1813.24 3343.17 1816.67 3346.5 1820" /><path d="M2321.75 2007.5 L2323.25 2022.5 A22 10 0 0 0 2367.25 2022.5 L2365.75 2007.5" fill="#fff"/><ellipse cx="2343.75" cy="2007.5" rx="22" ry="10" fill="#fff"/><ellipse cx="2343.75" cy="2007.5" rx="13.75" ry="6.25"/><path d="M2372.5 1958.75 L2378.12 2015 A18.75 8 0 0 0 2415.62 2015 L2410 1958.75" fill="#fff"/><ellipse cx="2391.25" cy="1958.75" rx="18.75" ry="8" fill="#fff"/><ellipse cx="2391.25" cy="1958.75" rx="5.5" ry="2.5"/><path d="M2659 1892.5 L2662 1930 A23 10.5 0 0 0 2708 1930 L2705 1892.5" fill="#fff"/><ellipse cx="2682" cy="1892.5" rx="23" ry="10.5" fill="#fff"/><ellipse cx="2682" cy="1892.5" rx="13.75" ry="6.25"/><path d="M2707.5 1892.5 L2712 1948.75 A18 7.5 0 0 0 2748 1948.75 L2743.5 1892.5" fill="#fff"/><ellipse cx="2725.5" cy="1892.5" rx="18" ry="7.5" fill="#fff"/><ellipse cx="2725.5" cy="1892.5" rx="5.5" ry="2.5"/><path d="M2861 1963 L2865.5 2019.25 A18 7.5 0 0 0 2901.5 2019.25 L2897 1963" fill="#fff"/><ellipse cx="2879" cy="1963" rx="18" ry="7.5" fill="#fff"/><ellipse cx="2879" cy="1963" rx="5.5" ry="2.5"/><path d="M2905.75 2002.5 L2905.75 2020 A22 9.5 0 0 0 2949.75 2020 L2949.75 2002.5" fill="#fff"/><ellipse cx="2927.75" cy="2002.5" rx="22" ry="9.5" fill="#fff"/><ellipse cx="2927.75" cy="2002.5" rx="13" ry="6"/><path d="M2738.25 2124.5 L2740.2 2157 A18.75 8 0 0 0 2777.7 2157 L2775.75 2124.5" fill="#fff"/><ellipse cx="2757" cy="2124.5" rx="18.75" ry="8" fill="#fff"/><ellipse cx="2757" cy="2124.5" rx="5.5" ry="2.5"/><path d="M2674.75 2165.75 L2674.75 2173.25 A22 9.5 0 0 0 2718.75 2173.25 L2718.75 2165.75" fill="#fff"/><ellipse cx="2696.75" cy="2165.75" rx="22" ry="9.5" fill="#fff"/><ellipse cx="2696.75" cy="2165.75" rx="14.5" ry="6"/><path d="M3028 1702.5 L3030.62 1740 A23 10.5 0 0 0 3076.62 1740 L3074 1702.5" fill="#fff"/><ellipse cx="3051" cy="1702.5" rx="23" ry="10.5" fill="#fff"/><ellipse cx="3051" cy="1702.5" rx="14.5" ry="6.75"/><path d="M3103.25 1697 L3107.75 1753.25 A18.75 8 0 0 0 3145.25 1753.25 L3140.75 1697" fill="#fff"/><ellipse cx="3122" cy="1697" rx="18.75" ry="8" fill="#fff"/><ellipse cx="3122" cy="1697" rx="5.5" ry="2.5"/><path d="M3258.5 1767 L3263 1823.25 A18 8 0 0 0 3299 1823.25 L3294.5 1767" fill="#fff"/><ellipse cx="3276.5" cy="1767" rx="18" ry="8" fill="#fff"/><ellipse cx="3276.5" cy="1767" rx="5.5" ry="2.5"/><path d="M3288.25 1820 L3288.25 1832.5 A22 9.5 0 0 0 3332.25 1832.5 L3332.25 1820" fill="#fff"/><ellipse cx="3310.25" cy="1820" rx="22" ry="9.5" fill="#fff"/><ellipse cx="3310.25" cy="1820" rx="13.75" ry="6"/></g>
<g id="surfH"><path d="M2325 2878.33 C2325.78 2873.33 2326.13 2868.65 2327.33 2863.33 C2328.75 2857.1 2330.59 2849.54 2333.33 2843.33 C2335.98 2837.35 2339.41 2831.7 2343.33 2826.67 C2347.2 2821.71 2349.63 2818.76 2356.67 2813.33 C2374.1 2799.9 2433.83 2767.36 2456.67 2755 C2468.26 2748.73 2474.3 2745.31 2483.33 2741.67 C2492.08 2738.14 2500.76 2735.38 2510 2733.33 C2519.62 2731.21 2527.5 2730.99 2540 2729.33 C2560.83 2726.57 2594.45 2723.83 2623.33 2718.33 C2655.31 2712.25 2691.95 2704.07 2723.33 2693.33 C2752.83 2683.24 2780.96 2670.56 2806.67 2656.67 C2830.69 2643.68 2853.18 2628.5 2873.33 2613.33 C2891.72 2599.49 2908.57 2583.75 2923.33 2570 C2935.8 2558.39 2946.97 2546.37 2956.67 2536.67 C2964.18 2529.15 2971.79 2521.55 2976.67 2516.67 C2979.48 2513.85 2980.43 2512.26 2983.33 2510 C2987.49 2506.75 2993.27 2502.97 3000 2500 C3009.01 2496.02 3020.96 2492.32 3033.33 2490 C3048.18 2487.21 3066.67 2485.89 3083.33 2486 C3100 2486.11 3116.85 2487.3 3133.33 2490.67 C3150.19 2494.11 3165.81 2499.33 3183.33 2506.67 C3204.32 2515.46 3227.89 2529.51 3250 2541.67 C3272.34 2553.95 3297.59 2567.43 3316.67 2580 C3332.05 2590.14 3345.56 2599.7 3356.67 2610 C3366.02 2618.67 3374.68 2627.18 3380 2636.67 C3384.72 2645.09 3386.56 2654.65 3388.33 2663.33 C3389.96 2671.29 3389.19 2678.95 3390.67 2686.67 C3392.17 2694.51 3395.96 2700.93 3397.33 2710 C3399.17 2722.13 3398.43 2738.62 3398.33 2753.33 C3398.24 2768.6 3397.22 2784.44 3396.67 2800" /><path d="M2331.67 2880 C2332.78 2871.11 2332.47 2861.18 2335 2853.33 C2337.23 2846.41 2340.75 2840.68 2345 2835 C2349.52 2828.96 2353.2 2824.91 2361.67 2818.33 C2380.32 2803.85 2437.4 2772.33 2460 2760 C2471.54 2753.7 2477.63 2750.31 2486.67 2746.67 C2495.42 2743.14 2504.1 2740.43 2513.33 2738.33 C2522.96 2736.15 2530.92 2735.72 2543.33 2734 C2563.58 2731.19 2595.34 2728.68 2623.33 2723.33 C2654.97 2717.29 2691.92 2708.91 2723.33 2698.33 C2752.8 2688.42 2780.95 2676.28 2806.67 2662.67 C2830.69 2649.95 2853.13 2634.8 2873.33 2620 C2891.66 2606.58 2908.24 2592.12 2923.33 2578.33 C2936.81 2566.03 2949.62 2552.05 2960 2541.67 C2967.67 2534 2975.12 2526.55 2980 2521.67 C2982.82 2518.85 2983.77 2517.26 2986.67 2515 C2990.83 2511.75 2996.69 2507.99 3003.33 2505 C3012.02 2501.09 3023.19 2497.37 3035 2495 C3049.28 2492.14 3067.09 2490.64 3083.33 2490.67 C3099.86 2490.7 3116.86 2491.92 3133.33 2495.33 C3150.2 2498.83 3166.05 2504.15 3183.33 2511.67 C3203.6 2520.48 3225.34 2534.64 3246.67 2546.67 C3268.66 2559.06 3294.76 2572.57 3313.33 2585 C3327.75 2594.65 3337.78 2603.89 3350 2613.33" /><path d="M2513.33 2730.67 C2515.56 2727.11 2516.99 2723.17 2520 2720 C2523.42 2716.39 2528.19 2712.96 2533.33 2710.67 C2539.11 2708.09 2544.59 2707.6 2553.33 2706 C2569.54 2703.04 2598.05 2701.29 2623.33 2696.67 C2653.83 2691.09 2693.74 2683 2723.33 2673.33 C2748.19 2665.22 2769.63 2655.06 2790 2645 C2808.14 2636.04 2823.76 2627.66 2840 2616.67 C2857.14 2605.06 2876.73 2588.55 2890 2576.67 C2899.53 2568.14 2907.43 2560.53 2913.33 2553.33 C2917.69 2548.02 2919.74 2541.76 2923.33 2538.33 C2925.97 2535.82 2928.56 2533.74 2931.67 2533.33 C2935.14 2532.88 2939.95 2534.82 2943.33 2536.67 C2946.57 2538.44 2948.89 2541.56 2951.67 2544" /><path d="M2523.33 2730.67 C2525.56 2727.67 2527.02 2724.17 2530 2721.67 C2533.44 2718.78 2538.14 2716.82 2543.33 2715 C2549.91 2712.69 2557.15 2711.66 2566.67 2710 C2581.39 2707.43 2601.9 2706.35 2623.33 2702.33 C2652.08 2696.95 2693.7 2687.97 2723.33 2678.33 C2748.16 2670.26 2769.64 2660.55 2790 2650.67 C2808.14 2641.86 2823.75 2633.51 2840 2622.67 C2857.13 2611.24 2875.77 2595.97 2890 2583.33 C2901.62 2573.02 2911.75 2561.76 2920 2553.33 C2925.9 2547.31 2930 2542.89 2935 2537.67" /><path d="M2536.67 2730.67 C2540 2728.22 2542.55 2725.38 2546.67 2723.33 C2552.01 2720.67 2558.21 2719.19 2566.67 2717.33 C2580.66 2714.26 2601.9 2713.44 2623.33 2709.33 C2652.08 2703.82 2693.72 2694.82 2723.33 2685 C2748.18 2676.76 2769.6 2666.55 2790 2656.67 C2808.1 2647.9 2823.74 2639.97 2840 2629.33 C2857.12 2618.13 2875.25 2603.12 2890 2590.67 C2902.49 2580.13 2913.56 2569.07 2923.33 2560 C2931.06 2552.83 2937.11 2547.11 2944 2540.67" /><path d="M2516.67 2730.67 C2518.89 2727.33 2520.34 2723.58 2523.33 2720.67 C2526.76 2717.34 2531.57 2714.45 2536.67 2712.33 C2542.49 2709.91 2548 2709.28 2556.67 2707.67 C2572.35 2704.75 2598.98 2702.87 2623.33 2698.33 C2653.41 2692.73 2693.74 2684.66 2723.33 2675 C2748.19 2666.88 2769.62 2656.67 2790 2646.67 C2808.13 2637.77 2823.76 2629.55 2840 2618.67 C2857.14 2607.18 2876.17 2591.09 2890 2579 C2900.53 2569.79 2909.87 2561.28 2916.67 2553.33 C2921.71 2547.44 2924.44 2542.22 2928.33 2536.67" /><path d="M2566.67 2703.33 L2568.33 2717.33" /><path d="M2571.67 2711.67 L2572.67 2721.67" /><path d="M2908.33 2551.67 L2908.33 2565" /><path d="M2923.33 2545 L2923.33 2557.33" /><path d="M2358.33 2813.33 L2360.67 2866.67" /><path d="M2459.33 2758.33 L2460.67 2806.67" /><path d="M2541.67 2733.33 L2543.33 2896.67" /><path d="M2981.67 2521.67 L2983.33 2678.33" /><path d="M3035 2491.67 L3036.67 2536.67" /><path d="M3180 2510 L3178.33 2650" /><path d="M3338.33 2603.33 L3335 2716.67" /><path d="M2470 2931.67 C2482.22 2925.56 2494.39 2919.19 2506.67 2913.33 C2518.84 2907.53 2528.57 2902.46 2543.33 2896.67 C2564.69 2888.28 2598.99 2878.35 2623.33 2870 C2643.88 2862.95 2661.11 2856.67 2680 2850" /><path d="M2733.33 2833.33 L2783.33 2821.67" /><path d="M2361.67 2863.33 L2460 2806.67" /><path d="M2460 2806.67 C2465.56 2816.67 2472.55 2825.61 2476.67 2836.67 C2481.16 2848.74 2482.76 2863.43 2485 2876.67 C2487.18 2889.54 2488.33 2902.22 2490 2915" /><path d="M2490 2915 C2501.11 2911.11 2513.62 2906.65 2523.33 2903.33 C2530.84 2900.77 2536.67 2898.89 2543.33 2896.67" /><path d="M2475 2934 L2496.67 2919" /><path d="M3068.33 2540.67 C3084.44 2541 3102.15 2539.73 3116.67 2541.67 C3128.91 2543.3 3139.21 2545.53 3150 2550 C3161.48 2554.75 3172.22 2563.33 3183.33 2570" /><path d="M3183.33 2570 L3336.67 2656" /><path d="M2985 2676.67 L3005 2661.67 L3033.33 2650" /><path d="M2325 2878.33 C2325.56 2882.44 2325.25 2886.92 2326.67 2890.67 C2328.06 2894.35 2330.27 2897.61 2333.33 2900.67 C2337.08 2904.41 2343.33 2907.33 2348.33 2910.67" /><path d="M2331.67 2881.67 C2332.78 2886.11 2332.58 2891.03 2335 2895 C2337.75 2899.5 2343.89 2902.78 2348.33 2906.67" /><path d="M2355 2868.33 C2355.56 2872.78 2354.59 2878.3 2356.67 2881.67 C2358.64 2884.85 2363.33 2886.11 2366.67 2888.33" /><path d="M2325 2882.5 C2454.17 2961.67 2657.76 3090.92 2712.5 3120 C2726.61 3127.5 2729.73 3129.6 2740 3132.5 C2751.86 3135.85 2767.64 3137.75 2780 3137.5 C2790.74 3137.28 2801.2 3135.36 2810 3132.5 C2817.55 3130.05 2820.45 3127.69 2830 3122.5 C2855.74 3108.5 2946.96 3053.32 2970 3040 C2977.51 3035.66 2980 3034.33 2985 3031.5" stroke-width="3"/><path d="M2367.5 2885 C2485 2952.5 2666.53 3061.13 2720 3087.5 C2735.12 3094.96 2739.39 3097.64 2750 3100 C2761.01 3102.45 2773.89 3102.89 2785 3101.5 C2795.5 3100.19 2802.3 3098.06 2815 3092.5 C2840.65 3081.27 2898.66 3043.74 2925 3027.5 C2940.03 3018.23 2950.67 3014.18 2960 3005 C2968.69 2996.46 2974.5 2985.27 2980 2975 C2985.22 2965.25 2988.33 2955 2992.5 2945" /><path d="M2340 2895 C2463.33 2966.67 2655.03 3081.28 2710 3110 C2725.29 3117.99 2729.01 3120.91 2740 3124 C2752.12 3127.41 2767.65 3128.83 2780 3128.5 C2790.74 3128.21 2801.54 3126.41 2810 3123.5 C2816.84 3121.15 2818.99 3118.77 2827.5 3114 C2851.09 3100.79 2915.83 3063 2960 3037.5" /><path d="M2325 2870 L2327.5 3025" /><path d="M2327.5 3025 C2328.67 3029.17 2328.87 3033.97 2331 3037.5 C2333.08 3040.94 2336.37 3043.61 2340 3046 C2344.17 3048.75 2350 3050.33 2355 3052.5" /><path d="M2355 3052.5 L2720 3255" /><path d="M2720 3255 C2726.67 3259.17 2731.86 3264.04 2740 3267.5 C2750.76 3272.07 2767.58 3277 2780 3277.5 C2790.67 3277.93 2801.2 3275.36 2810 3272.5 C2817.55 3270.05 2821.31 3267.5 2830 3262.5 C2847.99 3252.15 2885.63 3226.47 2910 3210 C2930.85 3195.91 2953.48 3183.53 2967.5 3170 C2977.76 3160.1 2983.64 3150.29 2990 3140 C2996.02 3130.26 3001.2 3118.75 3005 3110 C3007.83 3103.47 3009.33 3098.33 3011.5 3092.5" /><path d="M2349 2910 L2352.5 3050" /><path d="M2725 3247.5 C2731.67 3251.33 2737.15 3255.86 2745 3259 C2754.81 3262.92 2768.99 3266.98 2780 3267.5 C2789.67 3267.95 2799.23 3266 2807.5 3263.5 C2814.88 3261.27 2818.89 3258.87 2827.5 3254 C2845.16 3244.01 2881.17 3218.7 2905 3202.5 C2925.67 3188.44 2948.48 3176.03 2962.5 3162.5 C2972.76 3152.6 2978.74 3142.56 2985 3132.5 C2990.68 3123.38 2994.33 3114.17 2999 3105" /><path d="M2712.5 3120 L2717.5 3257.5" /><path d="M2827.5 3122.5 L2830 3262.5" /><path d="M2970 3037.5 L2967.5 3170" /><path d="M2720 3087.5 L2712.5 3120" /><path d="M2815 3092.5 L2827.5 3122.5" /><path d="M2902.5 3040 L2905 3080" /><path d="M2752.5 3099 C2756.67 3096 2760.38 3091.66 2765 3090 C2769.56 3088.36 2775.65 3087.95 2780 3089 C2783.83 3089.93 2786.67 3093 2790 3095" /><path d="M2925 3027.5 C2923.67 3024.67 2920.24 3021.37 2921 3019 C2921.9 3016.19 2928.46 3013.15 2932.5 3012.5 C2936.47 3011.87 2940.83 3014.17 2945 3015" /><path d="M2783.33 2824 C2783.33 2818.78 2781.69 2813.3 2783.33 2808.33 C2785.17 2802.79 2791.11 2797.89 2795 2792.67" /><path d="M2795 2792.67 L3048.33 2646.67" /><path d="M3048.33 2646.67 C3060 2640.56 3073.13 2632.67 3083.33 2628.33 C3090.78 2625.16 3096.6 2622.19 3103.33 2621.67 C3109.94 2621.15 3116.82 2622.88 3123.33 2625 C3130.17 2627.22 3136.67 2631.67 3143.33 2635" /><path d="M3143.33 2635 L3303.33 2726.67" /><path d="M2796.67 2832.67 C2796.67 2827.56 2795.1 2822.03 2796.67 2817.33 C2798.3 2812.44 2803.33 2808.44 2806.67 2804" /><path d="M2806.67 2804 L3055 2661.67" /><path d="M2783.33 2824 L2785 2840" /><path d="M2785 2840 C2786.11 2842.44 2786.48 2845.57 2788.33 2847.33 C2790.29 2849.2 2793.89 2849.56 2796.67 2850.67" /><path d="M2796.67 2850.67 L2956.67 2943.33" /><path d="M2796.67 2832.67 L2960 2918.33" /><path d="M2796.67 2832.67 L2796.67 2850.67" /><path d="M2810 2807.33 C2812.22 2804.33 2813.69 2800.83 2816.67 2798.33 C2820.1 2795.45 2825.56 2793.89 2830 2791.67" /><path d="M2830 2791.67 L3083.33 2645" /><path d="M3083.33 2645 C3087.78 2642.22 3091.76 2637.81 3096.67 2636.67 C3101.73 2635.48 3107.78 2637.78 3113.33 2638.33" /><path d="M3113.33 2638.33 L3296.67 2736.67" /><path d="M2810.67 2807.33 C2812.67 2810.22 2813.81 2813.83 2816.67 2816 C2819.97 2818.52 2825.56 2819.11 2830 2820.67" /><path d="M2830 2820.67 L3003.33 2908.33" /><path d="M2816.67 2810 L2830 2801.67 L3086.67 2656.67" /><path d="M3086.67 2646.67 L3086.67 2670" /><path d="M3086.67 2670 L2850 2806.67" /><path d="M3086.67 2666.67 L3100 2673.33 L3135 2691.67" /><path d="M2830 2801.67 L2836.67 2806.67 L2853.33 2816.67" /><path d="M2853.33 2816.67 L3096.67 2680" /><path d="M3096.67 2680 C3101.11 2679.78 3104.87 2678.62 3110 2679.33 C3117.45 2680.37 3127.78 2685.33 3136.67 2688.33" /><path d="M2836.67 2806.67 L3086.67 2663.33" /><path d="M2836.67 2824 L2883.33 2846.67 L2890 2841.67 L2896.67 2843.33 L2983.33 2886.67 L3000 2900" /><path d="M3083.33 2651.67 L3136.67 2680 L3140 2673.33 L3150 2676 L3180 2690" /><path d="M3135 2691.67 L3146.67 2700 L3180 2716.67" /><path d="M3223.33 2716.67 L3276.67 2746.67" /><path d="M3223.33 2700 L3303.33 2743.33" /><path d="M3115 2643.33 L3180 2678.33" /><path d="M3223.33 2701.67 L3283.33 2733.33" /><path d="M2850 2806.67 L2863.33 2813.33" /><path d="M2863.33 2813.33 L2983.33 2746.67 L3083.33 2690" /><ellipse cx="2882.33" cy="2836.67" rx="5" ry="3.5" /><ellipse cx="3147.33" cy="2683.33" rx="5" ry="3.5" /><path d="M2683.33 2753.33 L2684.32 2875 A25.33 11.67 0 0 0 2734.98 2875 L2728.67 2753.33" fill="#fff"/><ellipse cx="2706" cy="2753.33" rx="22.67" ry="11.67" fill="#fff"/><ellipse cx="2706" cy="2753.33" rx="8.33" ry="4.67"/><path d="M2675 2759 L2683.33 2763.33 L2683.33 2850" /><path d="M2675 2759 L2676.67 2846.67" /><path d="M2683.33 2763.33 L2686.67 2759.33" /><path d="M2646 2864.33 L2646 2902.67 A17.33 9 0 0 0 2680.67 2902.67 L2680.67 2864.33" fill="#fff"/><ellipse cx="2663.33" cy="2864.33" rx="17.33" ry="9" fill="#fff"/><ellipse cx="2663.33" cy="2864.33" rx="6.67" ry="3.67"/><path d="M2666.67 2855 L2690 2848.33 L2691.67 2853.33 L2680.67 2862.67" /><path d="M2361.33 2871.67 L2361.33 2886.67 A22.67 11 0 0 0 2406.67 2886.67 L2406.67 2871.67" fill="#fff"/><ellipse cx="2384" cy="2871.67" rx="22.67" ry="11" fill="#fff"/><ellipse cx="2384" cy="2871.67" rx="10" ry="5.33"/><path d="M3027.67 2546.67 L3028 2646.67 A23.33 11.67 0 0 0 3074.67 2646.67 L3069 2546.67" fill="#fff"/><ellipse cx="3048.33" cy="2546.67" rx="20.67" ry="11.67" fill="#fff"/><ellipse cx="3048.33" cy="2546.67" rx="8.33" ry="4.67"/><path d="M3016.67 2551.67 L3025 2555 L3025 2656.67" /><path d="M3016.67 2551.67 L3019.33 2660" /><path d="M3016.67 2585 L3005 2661.67" /><path d="M3180 2688.33 L3180 2730 A21.67 11.67 0 0 0 3223.33 2730 L3223.33 2688.33" fill="#fff"/><ellipse cx="3201.67" cy="2688.33" rx="21.67" ry="11.67" fill="#fff"/><ellipse cx="3201.67" cy="2688.33" rx="10" ry="5.67"/><path d="M2921 2836.67 L2921 2873.33 A21.67 11.67 0 0 0 2964.33 2873.33 L2964.33 2836.67" fill="#fff"/><ellipse cx="2942.67" cy="2836.67" rx="21.67" ry="11.67" fill="#fff"/><ellipse cx="2942.67" cy="2836.67" rx="10" ry="5.67"/><path d="M2958.33 2910 L2958.33 2930 A20 10.67 0 0 0 2998.33 2930 L2998.33 2910" fill="#fff"/><ellipse cx="2978.33" cy="2910" rx="20" ry="10.67" fill="#fff"/><ellipse cx="2978.33" cy="2910" rx="7.33" ry="4"/><path d="M3316 2712.33 L3316 2725.67 A20 10 0 0 0 3356 2725.67 L3356 2712.33" fill="#fff"/><ellipse cx="3336" cy="2712.33" rx="20" ry="10" fill="#fff"/><ellipse cx="3336" cy="2712.33" rx="7.33" ry="4"/><path d="M2958.33 2918.33 L2956 2993.33" /><path d="M2965 2923.33 L2963.33 2983.33" /><path d="M3303.33 2726.67 C3285.56 2731.11 3268.56 2734 3250 2740 C3228.79 2746.86 3205.13 2755.85 3183.33 2766.67 C3160.65 2777.92 3136.87 2792.62 3116.67 2806.67 C3098.33 2819.41 3082.82 2831.74 3066.67 2846.67 C3049.41 2862.62 3030.9 2881.5 3016.67 2900 C3003.46 2917.16 2992.83 2937.09 2983.33 2953.33 C2975.59 2966.57 2968.2 2978.52 2963.33 2990 C2959.35 2999.39 2957.78 3007.78 2955 3016.67 L2986.67 3036.67 L2993.33 3066.67 L3010 3100 L3043.33 3060 L3076.67 3023.33 L3116.67 2996.67 L3183.33 2966.67 L3276.67 2930 L3336.67 2900 L3383.33 2866.67 L3396.67 2833.33 L3398.33 2800 L3398.33 2753.33 L3388.33 2683.33 L3366.67 2710 L3346.67 2723.33 Z" fill="#fff" stroke="none"/><path d="M3350 2613.33 C3357.22 2622.22 3366.62 2630.6 3371.67 2640 C3376.22 2648.47 3378.42 2657.85 3380 2666.67 C3381.48 2674.95 3383.45 2685.64 3381.26 2691.33 C3379.77 2695.21 3376.28 2696.79 3373.16 2699.44 C3369.52 2702.51 3365 2705.76 3360.55 2708.44 C3356.01 2711.18 3351.11 2713.3 3346.14 2715.65 C3340.92 2718.11 3336.14 2721.07 3329.93 2722.85 C3322.29 2725.05 3313.66 2724.64 3303.33 2726.67 C3288.56 2729.57 3268.56 2734 3250 2740 C3228.79 2746.86 3205.13 2755.85 3183.33 2766.67 C3160.65 2777.92 3136.87 2792.62 3116.67 2806.67 C3098.33 2819.41 3082.82 2831.74 3066.67 2846.67 C3049.41 2862.62 3030.9 2881.5 3016.67 2900 C3003.46 2917.16 2992.83 2937.09 2983.33 2953.33 C2975.59 2966.57 2968.2 2978.52 2963.33 2990 C2959.35 2999.39 2957.78 3007.78 2955 3016.67" /><path d="M3390.27 2676.02 C3391.47 2683.83 3393.92 2691.36 3393.87 2699.44 C3393.81 2708.13 3392.26 2718.6 3389.37 2726.46 C3386.83 2733.34 3382.89 2739.28 3378.56 2744.47 C3374.42 2749.42 3369.3 2753.45 3364.15 2757.07 C3359.08 2760.64 3353.16 2763.07 3347.94 2766.08 C3342.97 2768.95 3338.33 2771.84 3333.53 2774.73" stroke-width="2.6"/><path d="M3384.32 2681.43 C3384.5 2695.84 3387.33 2713.93 3384.86 2724.65 C3383.27 2731.6 3380.43 2736.11 3376.76 2740.86 C3372.98 2745.75 3367.5 2749.85 3362.35 2753.47 C3357.28 2757.04 3351.18 2759.57 3346.14 2762.48 C3341.65 2765.07 3337.73 2767.52 3333.53 2770.04" /><path d="M3334.43 2830.92 C3334.13 2815.31 3334.46 2794.2 3333.53 2784.09 C3333.08 2779.2 3332.87 2776.8 3331.73 2773.29 C3330.53 2769.59 3328.6 2765.95 3326.33 2762.48 C3323.87 2758.73 3321.04 2754.62 3317.32 2751.67 C3313.34 2748.52 3308 2745.82 3302.91 2744.47 C3297.8 2743.11 3292.88 2742.85 3286.7 2743.57 C3278.03 2744.57 3267.64 2748.66 3256.08 2752.57 C3240.52 2757.83 3220.01 2766.1 3202.05 2773.29 C3183.98 2780.51 3167.92 2784.51 3148.01 2795.8 C3119.28 2812.09 3077.26 2840.17 3050 2868.33 C3023.94 2895.25 3001.77 2932.9 2986.67 2960 C2975.75 2979.59 2965.61 2999.6 2963.33 3013.33 C2961.99 3021.4 2964.44 3026.67 2965 3033.33" /><path d="M3310.12 2755.27 C3304.11 2753.77 3298.11 2750.77 3292.1 2750.77 C3286.1 2750.77 3280.08 2753.63 3274.09 2755.27 C3268.07 2756.93 3263.62 2758.04 3256.08 2760.68 C3242.82 2765.31 3220.03 2774.95 3202.05 2782.29 C3184.01 2789.66 3167.85 2793.33 3148.01 2804.81 C3119.19 2821.48 3076.02 2852.19 3050 2880 C3027.05 2904.53 3009.04 2936.31 2996.67 2960 C2987.73 2977.11 2981.78 2993.61 2978.33 3006.67 C2975.97 3015.62 2976.11 3022.22 2975 3030" /><path d="M3297.51 2755.27 C3289.1 2757.07 3279.72 2758.65 3272.29 2760.68 C3266.24 2762.33 3263.02 2763.54 3256.08 2766.08 C3243.28 2770.77 3220 2780.21 3202.05 2787.69 C3183.98 2795.22 3167.87 2799.4 3148.01 2811.11 C3119.22 2828.09 3074.89 2858.88 3050 2886.67 C3028.8 2910.33 3014.33 2940.96 3003.33 2963.33 C2995.42 2979.42 2989.65 2993.78 2986.67 3006.67 C2984.4 3016.45 2985.11 3024.44 2984.33 3033.33" /><path d="M3310.12 2757.07 C3306.51 2757.07 3303.61 2756.47 3299.31 2757.07 C3292.6 2758.01 3281.76 2761.84 3274.09 2764.28 C3267.55 2766.36 3263.64 2767.69 3256.08 2770.58 C3242.84 2775.65 3219.92 2784.92 3202.05 2793.1 C3183.89 2801.41 3167.85 2807.65 3148.01 2820.12 C3120.08 2837.66 3077.06 2866.45 3053.33 2893.33 C3033.32 2916.01 3019.84 2946.67 3010 2966.67 C3003.61 2979.65 3001.11 2988.89 2996.67 3000" /><path d="M3015 3096.67 C3024.44 3084.44 3033.25 3072.02 3043.33 3060 C3053.76 3047.57 3064.33 3033.94 3076.67 3023.33 C3088.81 3012.88 3101.23 3005.21 3116.67 2996.67 C3135.7 2986.14 3159.11 2976.87 3183.33 2966.67 C3211.7 2954.72 3249.22 2942.22 3276.67 2930 C3299.12 2920 3318.32 2911.05 3336.67 2900 C3353.63 2889.78 3373.33 2879.41 3383.33 2866.67 C3391.25 2856.58 3394.19 2844.65 3396.67 2833.33 C3399.05 2822.42 3398.03 2812.05 3398.33 2800 C3398.69 2785.75 3398.33 2768.89 3398.33 2753.33" /><path d="M3050 3040 C3061.11 3031.11 3071.95 3021.25 3083.33 3013.33 C3094.2 3005.78 3103.49 3000.57 3116.67 2993.33 C3134.92 2983.31 3159.26 2971.13 3183.33 2960 C3210.91 2947.25 3246.53 2934.06 3273.33 2921.67 C3295.53 2911.4 3315.37 2902.62 3333.33 2891.67 C3349.4 2881.87 3366.98 2871.77 3376.67 2860 C3384.27 2850.75 3388.21 2840.26 3390.67 2830 C3393 2820.23 3391.33 2810 3391.67 2800" /><path d="M2985 3033.33 C2984.44 3042.22 2982.99 3051.42 2983.33 3060 C2983.65 3068.05 2984.21 3076.43 2986.67 3083.33 C2988.89 3089.61 2992.29 3096.6 2996.67 3100 C3000.37 3102.88 3005.73 3105.32 3010 3104 C3015.89 3102.17 3021.42 3091.11 3026.67 3083.33 C3032.63 3074.49 3039.09 3061.37 3043.33 3053.33 C3046.13 3048.04 3047.78 3044.44 3050 3040" /><path d="M2986.67 3006.67 C2992.22 3010 2998.89 3012.22 3003.33 3016.67 C3007.78 3021.11 3012.19 3027.3 3013.33 3033.33 C3014.5 3039.5 3012.89 3047.71 3010 3053.33 C3007.21 3058.75 3001.2 3063.2 2996.67 3066.67 C2992.84 3069.59 2988.89 3071.11 2985 3073.33" /><path d="M3003.33 2973.33 C3010 2980 3018.34 2985.57 3023.33 2993.33 C3028.35 3001.12 3032.09 3010.46 3033.33 3020 C3034.68 3030.35 3033.13 3042.5 3030 3053.33 C3026.69 3064.76 3019.18 3078.03 3013.33 3086.67 C3009.04 3093 3004.44 3096.67 3000 3101.67" /><path d="M3013.33 2956.67 C3020 2964.44 3028.59 2971.43 3033.33 2980 C3037.86 2988.17 3040.29 2997.67 3041.67 3006.67 C3043.01 3015.45 3041.97 3024.75 3041.67 3033.33 C3041.38 3041.38 3040.56 3048.89 3040 3056.67" /><path d="M3026.67 2946.67 C3032.22 2953.33 3039.73 2959.56 3043.33 2966.67 C3046.54 2972.99 3046.67 2980 3048.33 2986.67" /><path d="M3000 2960 L3001.67 2973.33" /><path d="M3329.93 2722.85 L3333.53 2775.09 L3334.43 2830.92" /><path d="M3340.73 2776.89 L3338.03 2901.17" /><path d="M3348.84 2773.29 L3345.24 2897.56" /><path d="M3323.62 2762.48 C3323.32 2769.68 3321.87 2777.28 3322.72 2784.09 C3323.52 2790.44 3326.33 2796.1 3328.13 2802.1 C3329.93 2808.11 3331.73 2814.11 3333.53 2820.12" /><path d="M3298.41 2757.07 C3302.31 2772.08 3306.67 2789.01 3310.12 2802.1 C3312.79 2812.26 3314.92 2820.12 3317.32 2829.12" /><path d="M3270.49 2764.28 C3275.89 2775.09 3282.7 2787.67 3286.7 2796.7 C3289.47 2802.96 3290.9 2807.51 3293 2812.91" /><path d="M3275.89 2764.28 C3280.7 2774.49 3286.67 2785.82 3290.3 2794.9 C3293.09 2801.87 3294.51 2807.51 3296.61 2813.81" /><path d="M3317.32 2829.12 C3317.92 2838.13 3320.26 2847.24 3319.12 2856.14 C3317.95 2865.26 3314.55 2874.81 3310.12 2883.16 C3305.6 2891.65 3298.44 2899.73 3292.1 2906.57 C3286.37 2912.77 3280.1 2917.38 3274.09 2922.78" /><path d="M3333.53 2820.12 C3332.33 2832.12 3332.96 2844.68 3329.93 2856.14 C3326.92 2867.48 3321.89 2878.9 3315.52 2888.56 C3309.24 2898.07 3299.13 2906.96 3292.1 2913.78 C3286.87 2918.86 3282.5 2922.18 3277.69 2926.38" /><ellipse cx="3288.5" cy="2854.34" rx="32.06" ry="43.23" transform="rotate(8 3288.5 2854.34)"/><ellipse cx="3286.34" cy="2857.04" rx="21.97" ry="35.12" transform="rotate(8 3286.34 2857.04)"/><path d="M3307.41 2834.52 L3315.52 2830.92" /><path d="M3308.31 2847.13 L3318.22 2843.53" /><path d="M3288.5 2813.81 L3290.3 2821.92" /><path d="M3296.61 2813.81 L3293 2822.28" /><path d="M3295.71 2883.16 L3301.11 2890.36" /><path d="M3299.31 2880.45 L3303.81 2886.76" /><path d="M3183.33 2845 C3191.11 2844.44 3208.61 2847.5 3216.67 2853.33 C3224.72 2859.17 3230.56 2871.11 3231.67 2880 C3232.78 2888.89 3229.17 2898.89 3223.33 2906.67 C3217.5 2914.44 3206.67 2921.67 3196.67 2926.67 C3186.67 2931.67 3170 2938.33 3163.33 2936.67 C3156.67 2935 3157.22 2926.11 3156.67 2916.67 C3156.11 2907.22 3157.78 2890 3160 2880 C3162.22 2870 3166.11 2862.5 3170 2856.67 C3173.89 2850.83 3175.56 2845.56 3183.33 2845 Z" /><path d="M3186.67 2853.33 C3193.06 2853.06 3207.11 2856.94 3213.33 2861.67 C3219.56 2866.39 3223.44 2874.72 3224 2881.67 C3224.56 2888.61 3221.78 2896.94 3216.67 2903.33 C3211.56 2909.72 3201.39 2915.67 3193.33 2920 C3185.28 2924.33 3173.06 2930.44 3168.33 2929.33 C3163.61 2928.22 3165.28 2921 3165 2913.33 C3164.72 2905.67 3165 2891.67 3166.67 2883.33 C3168.33 2875 3171.67 2868.33 3175 2863.33 C3178.33 2858.33 3180.28 2853.61 3186.67 2853.33 Z" /><path d="M3096.67 2900 C3101.94 2899.44 3114.17 2901.67 3120 2906.67 C3125.83 2911.67 3130.56 2921.67 3131.67 2930 C3132.78 2938.33 3130.83 2948.33 3126.67 2956.67 C3122.5 2965 3113.33 2972.78 3106.67 2980 C3100 2987.22 3090.67 3000.56 3086.67 3000 C3082.67 2999.44 3083.22 2987.22 3082.67 2976.67 C3082.11 2966.11 3082.39 2947.78 3083.33 2936.67 C3084.28 2925.56 3086.11 2916.11 3088.33 2910 C3090.56 2903.89 3091.39 2900.56 3096.67 2900 Z" /><path d="M3098.33 2908.33 C3102.22 2908.06 3110.83 2910.83 3115 2915 C3119.17 2919.17 3122.78 2926.67 3123.33 2933.33 C3123.89 2940 3121.94 2948.06 3118.33 2955 C3114.72 2961.94 3106.5 2969.17 3101.67 2975 C3096.83 2980.83 3091.72 2990.83 3089.33 2990 C3086.94 2989.17 3087.5 2978.89 3087.33 2970 C3087.17 2961.11 3087.61 2945.56 3088.33 2936.67 C3089.06 2927.78 3090 2921.39 3091.67 2916.67 C3093.33 2911.94 3094.44 2908.61 3098.33 2908.33 Z" /><path d="M3050 2968.33 C3053.5 2967.78 3061.56 2969.17 3065 2973.33 C3068.44 2977.5 3070.94 2985.56 3070.67 2993.33 C3070.39 3001.11 3066.78 3011.11 3063.33 3020 C3059.89 3028.89 3053.33 3040 3050 3046.67 C3046.67 3053.33 3045 3062.22 3043.33 3060 C3041.67 3057.78 3040.44 3043.33 3040 3033.33 C3039.56 3023.33 3040 3009.44 3040.67 3000 C3041.33 2990.56 3042.44 2981.94 3044 2976.67 C3045.56 2971.39 3046.5 2968.89 3050 2968.33 Z" /><path d="M3051.67 2978.33 C3054.06 2978.06 3059.44 2979.72 3061.67 2983.33 C3063.89 2986.94 3065.39 2993.89 3065 3000 C3064.61 3006.11 3061.83 3013.61 3059.33 3020 C3056.83 3026.39 3052.22 3033.89 3050 3038.33 C3047.78 3042.78 3046.94 3048.61 3046 3046.67 C3045.06 3044.72 3044.5 3034.44 3044.33 3026.67 C3044.17 3018.89 3044.5 3006.94 3045 3000 C3045.5 2993.06 3046.22 2988.61 3047.33 2985 C3048.44 2981.39 3049.28 2978.61 3051.67 2978.33 Z" /></g>
<g id="door"><rect x="3674" y="351" width="580" height="454" rx="31" stroke-width="2.6"/><rect x="3681.5" y="358.5" width="565" height="439" rx="25" /><rect x="3771.5" y="386" width="384.5" height="384" rx="5" /><circle cx="3731" cy="577.5" r="25"/><circle cx="3731" cy="577.5" r="21"/><circle cx="3731" cy="577.5" r="16.5"/><circle cx="3731" cy="577.5" r="10"/><path d="M3710 577.5 L3721 577.5"/><path d="M3741 577.5 L3752 577.5"/><circle cx="4196.5" cy="577.5" r="25"/><circle cx="4196.5" cy="577.5" r="21"/><circle cx="4196.5" cy="577.5" r="16.5"/><circle cx="4196.5" cy="577.5" r="10"/><path d="M4175.5 577.5 L4186.5 577.5"/><path d="M4206.5 577.5 L4217.5 577.5"/><path d="M3675 1045 L3674 1042.5 L3674 1001 L3682.5 1000 L3682.5 996 L3709 992.5 C3739.33 988.67 3765.83 984.01 3800 981 C3843.72 977.15 3899.99 974.5 3950 973.5 C3999.99 972.5 4052.96 973.48 4100 975 C4141.84 976.36 4179 979.33 4218.5 981.5 L4245 985 L4245 988.5 L4253 989.5 L4253 1042.5 L4252 1045 L3675 1045" /><path d="M3682.5 1000 C3691.33 998.83 3697.52 997.98 3709 996.5 C3730.26 993.75 3765.83 988.01 3800 985 C3843.72 981.15 3899.99 978.5 3950 977.5 C3999.99 976.5 4052.96 977.48 4100 979 C4141.84 980.36 4193.16 983.37 4218.5 985.5 C4230.51 986.51 4236.17 987.5 4245 988.5" /><path d="M3674 1041 L4253 1041" /><path d="M3709 992.5 L3709 1045" /><path d="M4218.5 981.5 L4218.5 1045" /><path d="M3706 1041 L3706 1045" /><path d="M4221.5 1041 L4221.5 1045" /><rect x="3674" y="1109" width="580" height="454.5" rx="34" /><rect x="3685" y="1120" width="557.5" height="432.5" rx="23" stroke-width="2.4"/><rect x="3678" y="1113" width="572" height="446.5" rx="29" /><path d="M3707.5 1109 L3707.5 1120" /><path d="M4220 1109 L4220 1120" /><path d="M3707.5 1552.5 L3707.5 1563.5" /><path d="M4220 1552.5 L4220 1563.5" /><path d="M3674 1142.5 L3685 1142.5" /><path d="M3674 1530 L3685 1530" /><path d="M4242.5 1142.5 L4254 1142.5" /><path d="M4242.5 1530 L4254 1530" /><path d="M4242.5 1221 L3756.5 1221 L3756.5 1231.5 L4242.5 1231.5" /><path d="M4242.5 1441 L3756.5 1441 L3756.5 1451.5 L4242.5 1451.5" /><circle cx="3731.5" cy="1336" r="29"/><circle cx="3731.5" cy="1336" r="27"/><circle cx="3731.5" cy="1336" r="10.5"/><circle cx="4196" cy="1336" r="29"/><circle cx="4196" cy="1336" r="27"/><circle cx="4196" cy="1336" r="10.5"/><path d="M4336.76 859.42 C4336.76 850.35 4335.97 839.06 4336.76 832.2 C4337.25 827.95 4337.28 824.79 4339.15 821.99 C4341.12 819.04 4345.5 817.46 4348.67 815.19 L4682.12 622.95 C4685.52 621.25 4688.84 618.98 4692.33 617.84 C4695.65 616.76 4699.01 616.08 4702.53 616.14 C4706.36 616.2 4711.1 617.3 4714.44 618.52 C4717.11 619.5 4718.98 621.02 4721.25 622.27 L4969.63 766.87 C4973.04 769.94 4977.37 772.62 4979.84 776.06 C4982.07 779.16 4983.51 782.65 4984.26 786.27 C4985.04 790.01 4984.26 793.4 4984.26 798.18 C4984.26 805.4 4986.3 817.61 4984.26 825.4 C4982.54 831.99 4979.97 836.35 4974.74 842.41 C4965.88 852.65 4948.81 864.29 4930.5 876.43 C4903.96 894.04 4862.69 916.02 4828.43 934.28 C4794.63 952.28 4759.18 970.92 4726.35 985.31 C4697.04 998.17 4653.73 1012.18 4641.29 1017.64 C4637.69 1019.22 4637.23 1020.21 4634.48 1021.04 C4630.8 1022.16 4625.41 1022.74 4620.87 1022.74 C4616.34 1022.74 4611.38 1022.29 4607.26 1021.04 C4603.51 1019.9 4600.46 1017.64 4597.06 1015.94 L4348.67 871.33 C4345.84 869.63 4342.18 868.4 4340.17 866.23 C4338.4 864.32 4337.9 861.69 4336.76 859.42" /><path d="M4348.67 844.11 C4347.54 840.14 4344.8 836.07 4345.27 832.2 C4345.76 828.13 4349.81 824.26 4352.08 820.29 L4687.22 628.05 C4689.49 626.92 4691.56 625.34 4694.03 624.65 C4696.64 623.92 4699.8 623.83 4702.53 623.97 C4705.12 624.1 4707.91 624.52 4710.02 625.33 C4711.76 625.99 4712.97 627.14 4714.44 628.05 L4967.93 775.04 C4969.97 777.08 4973.07 778.79 4974.06 781.16 C4974.97 783.37 4974.06 786.15 4974.06 788.65" /><path d="M4336.76 832.2 C4338.24 833.56 4339.36 835.42 4341.19 836.28 C4343.24 837.25 4346.18 836.96 4348.67 837.31 L4597.06 981.91 C4601.59 983.61 4606.05 986.12 4610.67 987.02 C4615.13 987.88 4619.8 988.01 4624.28 987.36 C4628.87 986.69 4633.35 984.41 4637.89 982.93 L4973.04 788.65 C4975.64 786.72 4978.84 782.71 4980.86 782.86 C4982.28 782.97 4983.13 785.13 4984.26 786.27" /><path d="M4348.67 844.11 L4600.46 989.4" /><path d="M4600.46 989.4 C4604.43 990.87 4608.33 993.1 4612.37 993.82 C4616.28 994.52 4620.37 994.52 4624.28 993.82 C4628.31 993.1 4632.22 990.87 4636.19 989.4" /><path d="M4636.19 989.4 L4974.06 794.77" /><path d="M4688.92 628.05 L4688.92 655.27" /><path d="M4714.44 628.05 L4714.44 654.59" /><path d="M4688.92 655.27 C4691.19 654.36 4693.29 653.12 4695.73 652.55 C4698.36 651.93 4701.3 651.6 4704.24 651.87 C4707.51 652.16 4711.04 653.68 4714.44 654.59" /><path d="M4714.44 654.59 L4961.13 796.47" /><path d="M4974.06 788.65 L4974.06 794.77" /><path d="M4345.95 837.31 L4345.95 870.31" /><path d="M4597.06 981.91 L4597.06 1015.94" /><path d="M4641.29 982.93 L4641.29 1017.64" /><path d="M4974.06 794.77 L4974.06 843.09" /><path d="M4339.15 821.99 L4340.17 836.28" /><path d="M4682.12 622.95 L4687.22 628.05" /><path d="M4721.25 622.27 L4714.44 628.05" /><path d="M4969.63 766.87 L4967.93 775.04" /><path d="M4358.88 837.31 C4379.3 831.07 4399.33 825.91 4420.13 818.59 C4442.37 810.76 4463.73 803.5 4488.18 791.37 C4519.33 775.92 4559.97 749.77 4590.25 730.13 C4615.55 713.71 4640.22 695.84 4658.3 682.49 C4670.66 673.37 4678.72 666.61 4688.92 658.67" /><path d="M4450.75 864.53 L4767.18 684.19 L4773.31 687.59 L4458.23 869.63 L4450.75 864.53" /><path d="M4458.23 869.63 C4490.9 852.62 4521.2 838.2 4556.23 818.59 C4598.2 795.09 4653.36 761.15 4692.33 736.93 C4722.17 718.39 4744.5 703.36 4770.59 686.57" /><path d="M4593.65 947.89 L4910.09 767.55 L4916.21 771.64 L4601.14 952.31 L4593.65 947.89" /><path d="M4601.14 952.31 C4631.54 936.09 4659.16 922.44 4692.33 903.65 C4733.43 880.38 4788.4 846.17 4828.43 821.99 C4860.13 802.85 4885.14 787.52 4913.49 770.28" /><path d="M4784.88 718.22 L4783.17 748.16 A28.24 15.31 0 0 0 4839.66 748.16 L4837.96 718.22" fill="#fff"/><ellipse cx="4811.42" cy="718.22" rx="26.54" ry="15.31" fill="#fff"/><ellipse cx="4811.42" cy="718.22" rx="9.53" ry="5.44"/><ellipse cx="4812.42" cy="719.22" rx="6.81" ry="3.74"/><path d="M4791.88 723.22 L4790.88 754.16"/><path d="M4481.03 893.45 L4479.33 923.39 A28.24 15.31 0 0 0 4535.81 923.39 L4534.11 893.45" fill="#fff"/><ellipse cx="4507.57" cy="893.45" rx="26.54" ry="15.31" fill="#fff"/><ellipse cx="4507.57" cy="893.45" rx="9.53" ry="5.44"/><ellipse cx="4508.57" cy="894.45" rx="6.81" ry="3.74"/><path d="M4488.03 898.45 L4487.03 929.39"/></g>
<g id="holder"><path d="M3743.33 2066.67 L3743.33 2061.67 L4271.67 2061.67 L4271.67 2157.33" /><path d="M4271.67 2157.33 A20.67 20.67 0 1 1 4271.67 2197.33" /><path d="M4271.67 2197.33 L4271.67 2266" /><path d="M4271.67 2266 A34.33 34.33 0 0 0 4271.67 2334" /><path d="M4271.67 2334 L4271.67 2402" /><path d="M4271.67 2402 A20.67 20.67 0 1 1 4271.67 2442" /><path d="M4271.67 2442 L4271.67 2537.67 L3743.33 2537.67 L3743.33 2533.33" /><circle cx="4285" cy="2177.33" r="6"/><circle cx="4285" cy="2422" r="6"/><rect x="3727.33" y="2066.67" width="32.67" height="198.33" rx="0" /><rect x="3727.33" y="2335" width="32.67" height="198.33" rx="0" /><path d="M3759.33 2158 L3727.33 2158 A19.33 19.33 0 0 0 3727.33 2196.67 L3759.33 2196.67" fill="#fff"/><circle cx="3726.67" cy="2177.33" r="6"/><path d="M3759.33 2402.67 L3727.33 2402.67 A19.33 19.33 0 0 0 3727.33 2441.33 L3759.33 2441.33" fill="#fff"/><circle cx="3726.67" cy="2422" r="6"/><path d="M3761.67 2074 L4253.33 2074 L4253.33 2525.33 L3761.67 2525.33" /><path d="M3761.67 2076 L4234 2076" /><path d="M3761.67 2523.33 L4234 2523.33" /><path d="M3761.67 2074 L3761.67 2263.33" stroke-width="2.6"/><path d="M3761.67 2336.67 L3761.67 2525.33" stroke-width="2.6"/><path d="M4234 2074 L4234 2090.67" /><path d="M4234 2509.33 L4234 2525.33" /><path d="M4241.67 2090.67 L4241.67 2086 L4271.67 2086" /><path d="M4241.67 2509.33 L4241.67 2513.33 L4271.67 2513.33" /><path d="M3761.67 2185.67 L3806.67 2185.67" /><path d="M3761.67 2195 L3806.67 2195" stroke-width="2.4"/><path d="M3806.67 2185.67 L3806.67 2166.67 L3817.67 2166.67 L3817.67 2215.67 L3806.67 2215.67 L3806.67 2195" /><path d="M3761.67 2403.33 L3806.67 2403.33" /><path d="M3761.67 2412.67 L3806.67 2412.67" stroke-width="2.4"/><path d="M3806.67 2403.33 L3806.67 2384.33 L3817.67 2384.33 L3817.67 2433.33 L3806.67 2433.33 L3806.67 2412.67" /><rect x="3788.67" y="2086.67" width="28.67" height="16" rx="3.33" /><rect x="3788.67" y="2316" width="28.67" height="16.67" rx="3.33" /><path d="M3799.33 2296.67 L4215 2296.67" /><path d="M3799.33 2303.33 L4215 2303.33" /><path d="M3743.33 2267.67 A32.33 32.33 0 0 1 3743.33 2332.33" /><path d="M3760 2263.33 A41.67 41.67 0 0 1 3760 2336.67" /><path d="M3779.33 2292.67 L3799.33 2292.67 L3799.33 2306.67 L3779.33 2306.67" /><rect x="4207.67" y="2090.67" width="45" height="77.67" rx="0" /><rect x="4189.33" y="2202.33" width="45.67" height="76.67" rx="0" /><rect x="4189.33" y="2321.67" width="45.67" height="76.67" rx="0" /><rect x="4207.67" y="2431.67" width="45" height="77.67" rx="0" /><rect x="4252.67" y="2106.67" width="30.67" height="26.67" rx="0" /><path d="M4268.33 2106.67 L4268.33 2133.33" /><path d="M4273.33 2106.67 L4273.33 2133.33" /><rect x="4252.67" y="2221.67" width="30.67" height="26.67" rx="0" /><path d="M4268.33 2221.67 L4268.33 2248.33" /><path d="M4273.33 2221.67 L4273.33 2248.33" /><rect x="4252.67" y="2351.67" width="30.67" height="26.67" rx="0" /><path d="M4268.33 2351.67 L4268.33 2378.33" /><path d="M4273.33 2351.67 L4273.33 2378.33" /><rect x="4252.67" y="2466.67" width="30.67" height="26.67" rx="0" /><path d="M4268.33 2466.67 L4268.33 2493.33" /><path d="M4273.33 2466.67 L4273.33 2493.33" /><rect x="4241.67" y="2168.33" width="11" height="17.33" rx="0" /><rect x="4241.67" y="2413.33" width="11" height="18.33" rx="0" /><path d="M4234 2168.33 L4234 2180 L4215 2180 L4215 2202.33" /><rect x="4223.33" y="2189" width="11.67" height="13.33" rx="0" /><rect x="4223.33" y="2279" width="11.67" height="12" rx="0" /><path d="M4215 2279 L4215 2321.67" /><rect x="4223.33" y="2308.33" width="11.67" height="13.33" rx="0" /><rect x="4223.33" y="2398.33" width="11.67" height="12.33" rx="0" /><path d="M4215 2398.33 L4215 2418.33 L4234 2418.33 L4234 2431.67" /><path d="M4215 2292.67 L4235 2292.67" /><path d="M4215 2306.67 L4235 2306.67" /><path d="M3707.33 2640 L4305 2640" /><path d="M3707.33 2640 L3707.33 2674 L3746.67 2674" /><path d="M3727.33 2640 L3727.33 2674" /><path d="M3727.33 2657.33 L3756.67 2657.33" /><path d="M3743.33 2617.33 L3743.33 2657.33" /><path d="M3746.67 2657.33 L3746.67 2674" /><path d="M3760.67 2640 L3760.67 2605 L3727.33 2605 L3727.33 2617.33 L3743.33 2617.33" /><path d="M3748.33 2657.33 L3750 2730.67 L3758.33 2739 L4233.33 2739 L4243.33 2726.67 L4253.33 2725 L4260 2716.67 L4260.67 2657.33" /><path d="M3756.67 2657.33 L3758.33 2730.67 L4235 2730.67 L4236.67 2726.67 L4241.67 2726 L4251.67 2716.67 L4253.33 2657.33" /><path d="M3750 2730.67 L3758.33 2730.67" /><path d="M4235 2730.67 L4233.33 2739" /><path d="M4253.33 2640 L4253.33 2605 L4270 2605 L4283.33 2613.33 L4283.33 2618.33 L4270.67 2618.33 L4270.67 2657.33" /><path d="M4215 2640 L4215 2623.33 L4270.67 2623.33" /><path d="M4234 2623.33 L4234 2640" /><path d="M4253.33 2623.33 L4253.33 2640" /><path d="M4305 2640 L4305 2674 L4260.67 2674" /><path d="M4285 2640 L4285 2674" /><path d="M4253.33 2657.33 L4285 2657.33" /><path d="M4266.67 2657.33 L4266.67 2674" /><path d="M4260.67 2657.33 L4264 2657.33 L4264 2661.67 L4260.67 2661.67" /><path d="M3740.67 2886 L3740.67 2790.67 L4268.33 2790.67 L4268.33 3266.67 L3740.67 3266.67 L3740.67 3170.67" /><path d="M3740.67 2925.67 L3740.67 2995" /><path d="M3740.67 3061.67 L3740.67 3131" /><path d="M3740.67 2995 A33.33 33.33 0 0 1 3740.67 3061.67" /><path d="M3740.67 2792.67 L4268.33 2792.67" stroke-width="2.4"/><path d="M3740.67 3264.67 L4268.33 3264.67" stroke-width="2.4"/><path d="M3778.33 3256.67 L3778.33 3126.67" /><path d="M3778.33 2930.67 L3778.33 2896.67" /><path d="M3778.33 2800.67 L3778.33 2819.33" /><path d="M3778.33 3237.33 L3778.33 3256.67" /><path d="M3770 2800.67 L4253.33 2800.67 L4253.33 2993.33" /><path d="M4253.33 3063.33 L4253.33 3256.67 L3770 3256.67" /><path d="M3770 2800.67 L3770 2819.33" /><path d="M3770 3237.33 L3770 3256.67" /><path d="M3770 2896.67 L3770 2930.67" /><path d="M3770 3126.67 L3770 3160" /><path d="M3778.33 3126.67 L3778.33 3160" /><path d="M3752.67 2819.33 L3752.67 2798.33 L3758.33 2792.67" /><path d="M3752.67 3237.33 L3752.67 3259 L3758.33 3264.67" /><path d="M3770 2800.67 L3777.33 2792.67" /><path d="M3770 3256.67 L3777.33 3264.67" /><path d="M3752.67 2896.67 L3752.67 2925.67 L3758.33 2930.67 L3776.67 2930.67" /><path d="M3752.67 3160 L3752.67 3131 L3758.33 3126.67 L3776.67 3126.67" /><path d="M3758.33 2798.33 L3761.67 2798.33 L3761.67 2810 L3758.33 2810" /><path d="M3758.33 3259 L3761.67 3259 L3761.67 3247.33 L3758.33 3247.33" /><path d="M4253.33 2800.67 L4260.67 2792.67" /><path d="M4253.33 3256.67 L4260.67 3264.67" /><path d="M4260.67 2792.67 L4260.67 2993.33" /><path d="M4260.67 3063.33 L4260.67 3264.67" /><path d="M4264 2792.67 L4264 2993.33" /><path d="M4264 3063.33 L4264 3264.67" /><rect x="4268.33" y="2795" width="16.67" height="91.67" rx="0" /><rect x="4268.33" y="2925.67" width="16.67" height="67.67" rx="0" /><rect x="4268.33" y="3064" width="16.67" height="67.67" rx="0" /><rect x="4268.33" y="3170" width="16.67" height="91.67" rx="0" /><circle cx="4285" cy="2905.67" r="19.33" fill="#fff"/><path d="M4264 2902.33 L4266 2902.33" /><path d="M4264 2909 L4266 2909" /><circle cx="3726.67" cy="2905.67" r="19.33" fill="#fff"/><path d="M3740.67 2886 L3740.67 2890.67" /><path d="M3740.67 2925.33 L3740.67 2920.67" /><path d="M3746 2902.33 L3752.67 2902.33" /><path d="M3746 2909 L3752.67 2909" /><circle cx="4285" cy="3150.67" r="19.33" fill="#fff"/><path d="M4264 3147.33 L4266 3147.33" /><path d="M4264 3154 L4266 3154" /><circle cx="3726.67" cy="3150.67" r="19.33" fill="#fff"/><path d="M3740.67 3131 L3740.67 3135.67" /><path d="M3740.67 3170.33 L3740.67 3165.67" /><path d="M3746 3147.33 L3752.67 3147.33" /><path d="M3746 3154 L3752.67 3154" /><path d="M4253.33 2993.33 A37.33 37.33 0 0 0 4253.33 3063.33" /><path d="M4264 2995 A34.67 34.67 0 0 0 4264 3061.67" /><path d="M4253.33 2993.33 L4264 2995" /><path d="M4253.33 3063.33 L4264 3061.67" /><rect x="3728.33" y="2836" width="12.33" height="26" rx="0" /><rect x="3728.33" y="2950.67" width="12.33" height="26" rx="0" /><rect x="3728.33" y="3080.67" width="12.33" height="26" rx="0" /><rect x="3728.33" y="3195" width="12.33" height="26" rx="0" /><rect x="3758.33" y="2819.33" width="46" height="77.33" rx="0" /><rect x="3776.67" y="2930.67" width="45.67" height="76.67" rx="0" /><rect x="3776.67" y="3049.33" width="45.67" height="77.33" rx="0" /><rect x="3758.33" y="3160" width="46" height="77.33" rx="0" /><rect x="3747.33" y="2842.67" width="11" height="30.67" rx="0" /><rect x="3763.33" y="2954" width="13.33" height="30" rx="0" /><rect x="3763.33" y="3072.67" width="13.33" height="30.67" rx="0" /><rect x="3747.33" y="3183.33" width="11" height="30.67" rx="0" /><path d="M3769 3007.33 L3769 3049.33" /><path d="M3786.67 3007.33 L3786.67 3049.33" /><path d="M3795 3007.33 L3795 3049.33" /><path d="M3769 3007.33 L3776.67 3007.33" /><path d="M3769 3049.33 L3776.67 3049.33" /><rect x="4194.33" y="2815" width="28.33" height="16.67" rx="3.33" /><rect x="4194.33" y="3044.33" width="28.33" height="17.33" rx="3.33" /></g>
<g id="holderiso"><path d="M4371.25 2614.46 L4682.94 2435.7" /><path d="M4406.39 2597.65 L4687.52 2441.81" /><path d="M4473.62 2625.16 L4687.52 2502.93" /><path d="M4687.52 2441.81 L4687.52 2502.93" /><path d="M4687.52 2502.93 L4796 2565.57" /><path d="M4658.5 2779.78 L4976.29 2597.65 L4976.29 2608.35 L4970.18 2611.41 L4970.18 2664.88 L4675.3 2842.12 L4658.5 2834.48 L4649.33 2822.25 L4649.33 2785.58" /><path d="M4673.77 2768.17 L4965.6 2600.71" /><path d="M4669.19 2790.17 L4970.18 2611.41" /><path d="M4669.19 2790.17 L4669.19 2839.06" /><path d="M4658.5 2779.78 L4658.5 2793.22 L4669.19 2790.17" /><path d="M4658.5 2793.22 L4649.33 2785.58" /><path d="M4904.48 2629.74 L4964.07 2596.13" /><path d="M4583.63 2700.02 L4799.06 2577.79" /><path d="M4588.21 2703.08 L4803.64 2582.38" /><path d="M4614.19 2703.08 L4806.7 2592.46" /><path d="M4585.16 2697.58 L4773.09 2590.02 L4773.09 2586.35 L4787.75 2578.4 L4789.89 2581.46" /><path d="M4773.09 2590.02 L4785.31 2583.9" /><path d="M4846.42 2594.6 L4904.48 2629.74" /><path d="M4672.25 2764.19 L4904.48 2629.74" /><path d="M4682.94 2414.31 L4701.89 2403 L4757.81 2435.16 L4738.86 2446.46 Z" fill="#fff"/><path d="M4682.94 2414.31 L4682.94 2437.23" /><path d="M4738.86 2446.46 L4738.86 2469.38" /><path d="M4757.81 2435.16 L4757.81 2444.32 L4748.64 2449.52 L4748.64 2464.19" /><path d="M4738.86 2446.46 L4757.81 2435.16" /><path d="M4762.39 2460.15 L4781.34 2448.84 L4822.59 2472.56 L4803.64 2483.87 Z" fill="#fff"/><path d="M4762.39 2460.15 L4762.39 2483.06" /><path d="M4803.64 2483.87 L4803.64 2506.78" /><path d="M4822.59 2472.56 L4822.59 2481.73 L4813.42 2486.92 L4813.42 2501.59" /><path d="M4803.64 2483.87 L4822.59 2472.56" /><path d="M4845.81 2508.12 L4864.76 2496.81 L4906.62 2520.89 L4887.68 2532.19 Z" fill="#fff"/><path d="M4845.81 2508.12 L4845.81 2531.04" /><path d="M4887.68 2532.19 L4887.68 2555.11" /><path d="M4906.62 2520.89 L4906.62 2530.05 L4897.46 2535.25 L4897.46 2549.92" /><path d="M4887.68 2532.19 L4906.62 2520.89" /><path d="M4910.6 2545.71 L4929.54 2534.4 L4984.55 2566.03 L4965.6 2577.33 Z" fill="#fff"/><path d="M4910.6 2545.71 L4910.6 2568.62" /><path d="M4965.6 2577.33 L4965.6 2600.25" /><path d="M4984.55 2566.03 L4984.55 2575.19 L4975.38 2580.39 L4975.38 2595.06" /><path d="M4965.6 2577.33 L4984.55 2566.03" /><path d="M4682.94 2437.23 L4738.86 2469.31" /><path d="M4738.86 2469.31 L4762.39 2483.06" /><path d="M4762.39 2483.06 L4803.64 2506.9" /><path d="M4845.81 2531.34 L4887.68 2555.49" /><path d="M4887.68 2555.49 L4910.6 2568.62" /><path d="M4910.6 2568.62 L4965.6 2600.71" /><path d="M4965.6 2600.71 L4974.77 2605.29" /><path d="M4748.64 2459.23 C4751.19 2458.52 4753.94 2456.77 4756.28 2457.09 C4758.5 2457.39 4760.35 2459.53 4762.39 2460.76" /><path d="M4898.37 2549.37 C4900.92 2548.66 4903.85 2546.89 4906.01 2547.23 C4907.81 2547.52 4909.07 2549.27 4910.6 2550.29" /><path d="M4802.12 2507.51 C4803.13 2511.58 4802.7 2516.51 4805.17 2519.73 C4807.94 2523.34 4814.06 2525.74 4818.92 2527.37 C4823.74 2528.99 4829.39 2529.42 4834.2 2529.51 C4838.5 2529.6 4842.35 2528.7 4846.42 2528.29" /><path d="M4811.28 2503.84 C4812.3 2507.1 4812.32 2510.84 4814.34 2513.62 C4816.62 2516.78 4821.14 2519.74 4825.03 2521.26 C4828.8 2522.73 4833.47 2522.74 4837.26 2522.79 C4840.53 2522.83 4843.37 2522.18 4846.42 2521.87" /><path d="M4797.53 2531.96 L4797.53 2580.85" /><path d="M4803.64 2528.9 L4803.64 2596.13" /><path d="M4815.87 2536.54 L4815.87 2590.02" /><path d="M4846.42 2528.9 L4846.42 2594.6" /><path d="M4815.87 2590.02 C4820.96 2591.54 4826 2593.84 4831.15 2594.6 C4836.19 2595.34 4841.33 2594.6 4846.42 2594.6" /><path d="M4797.53 2531.96 L4803.64 2528.9 L4815.87 2536.54" /><path d="M4800.59 2530.43 L4800.59 2594.6" /><path d="M4797.53 2580.85 L4803.64 2596.13 L4806.7 2592.46" /><path d="M4846.42 2536.54 L4887.68 2559.46" /><path d="M4730.31 2531.96 L4754.75 2517.59 L4760.25 2520.34 L4760.25 2545.71 L4745.58 2554.26" /><path d="M4754.75 2517.59 L4754.75 2522.79" /><path d="M4708.92 2528.9 L4738.86 2545.71 L4738.86 2571.68 L4708.92 2554.87 Z" fill="#fff"/><path d="M4708.92 2528.9 L4715.64 2524.93 L4745.58 2541.73 L4738.86 2545.71 Z" fill="#fff"/><path d="M4745.58 2541.73 L4745.58 2566.18 L4738.86 2571.68" /><path d="M4730.31 2537.15 L4736.42 2533.48" /><path d="M4862.31 2606.82 L4886.76 2592.46 L4892.26 2595.21 L4892.26 2620.57 L4877.59 2629.13" /><path d="M4886.76 2592.46 L4886.76 2597.65" /><path d="M4840.92 2603.77 L4870.87 2620.57 L4870.87 2646.55 L4840.92 2629.74 Z" fill="#fff"/><path d="M4840.92 2603.77 L4847.65 2599.79 L4877.59 2616.6 L4870.87 2620.57 Z" fill="#fff"/><path d="M4877.59 2616.6 L4877.59 2641.05 L4870.87 2646.55" /><path d="M4862.31 2612.02 L4868.43 2608.35" /><path d="M4389.57 2605.21 L4370.99 2616.03 L4370.99 2627.82 L4382.3 2634.28 L4383.11 2668.84 L4396.03 2677.4 L4398.45 2674.97 L4404.91 2677.4 L4412.18 2681.43 L4412.98 2660.44" /><path d="M4396.83 2643.48 L4396.83 2673.36" /><path d="M4411.37 2651.56 L4411.37 2673.36" /><path d="M4382.3 2634.28 L4416.21 2653.66" /><path d="M4389.57 2605.21 L4389.57 2601.49 L4401.68 2594.55 L4405.72 2597.13" /><path d="M4401.68 2594.55 L4402 2599.07" /><path d="M4385.85 2607.47 L4385.85 2619.26 L4387.95 2615.22" /><path d="M4442.86 2681.43 L4442.86 2704.04 L4463.05 2716.16 L4469.51 2713.73 L4478.39 2720.19 L4502.62 2706.47 L4502.62 2697.58" /><path d="M4459.82 2673.36 L4461.43 2713.73" /><path d="M4466.28 2683.05 L4466.28 2714.54" /><path d="M4488.89 2695.97 L4488.89 2704.85 L4494.54 2701.62" /><path d="M4452.55 2675.78 L4494.54 2699.2" /><path d="M4494.54 2674.97 C4498.04 2674.17 4501.33 2672.86 4505.04 2672.55 C4509.1 2672.22 4513.88 2672.39 4517.96 2673.36 C4521.94 2674.31 4525.93 2676.21 4529.26 2678.2 C4532.32 2680.04 4535.29 2682.13 4537.34 2684.66 C4539.25 2687.03 4540.03 2690.05 4541.38 2692.74" /><path d="M4494.54 2674.97 L4494.54 2697.58" /><path d="M4494.54 2697.58 C4498.04 2696.78 4501.34 2695.35 4505.04 2695.16 C4509.1 2694.95 4514.03 2695.73 4517.96 2696.78 C4521.49 2697.71 4524.68 2699.05 4527.65 2700.81 C4530.6 2702.56 4533.03 2705.12 4535.72 2707.27" /><path d="M4535.72 2699.2 L4535.72 2721" /><path d="M4535.72 2700.81 L4541.38 2692.74" /><path d="M4484.85 2668.51 L4494.54 2674.97" /><path d="M4505.04 2697.58 L4505.04 2705.66 L4518.77 2712.93" /><path d="M4518.77 2699.2 L4519.57 2739.57 L4549.45 2757.34 L4559.95 2754.11 L4561.56 2747.65" /><path d="M4545.41 2729.08 L4546.22 2754.11" /><path d="M4535.72 2721 L4564.79 2737.96" /><path d="M4424.29 2623.29 L4453.36 2640.25" /><path d="M4416.21 2626.52 L4430.75 2634.92" /><path d="M4494.54 2658.02 L4530.88 2679.01" /><path d="M4572.87 2704.85 L4605.17 2723.42" /><path d="M4566.41 2712.12 L4579.33 2719.39" /><path d="M4429.13 2648.33 C4429.4 2645.37 4428.26 2641.1 4429.94 2639.44 C4431.77 2637.64 4437.18 2637.94 4440.44 2638.64 C4443.63 2639.32 4447.29 2641.27 4449.32 2643.48 C4451.13 2645.44 4451.48 2648.33 4452.55 2650.75" /><path d="M4578.52 2733.92 C4578.79 2730.96 4577.68 2726.68 4579.33 2725.04 C4581.05 2723.33 4586.04 2723.54 4589.02 2724.23 C4591.95 2724.91 4595.25 2726.92 4597.09 2729.08 C4598.77 2731.05 4599.03 2733.92 4600 2736.34" /><path d="M4453.36 2630.56 L4463.05 2625.23 L4466.6 2627.33 L4461.43 2630.56 L4461.43 2633.31 L4458.53 2641.06 L4453.36 2637.83 L4453.36 2630.56" /><path d="M4466.6 2627.33 L4475.97 2625.72 L4488.89 2633.31 L4488.89 2643.48" /><path d="M4471.12 2634.6 L4477.58 2631.05 L4484.85 2635.41 L4484.85 2642.67" /><path d="M4477.58 2631.05 L4477.58 2638.64" /><path d="M4530.56 2665.28 L4540.25 2659.95 L4543.8 2662.05 L4538.63 2665.28 L4538.63 2668.03 L4535.72 2675.78 L4530.56 2672.55 L4530.56 2665.28" /><path d="M4543.8 2662.05 L4553.17 2660.44 L4566.09 2668.03 L4566.09 2678.2" /><path d="M4548.32 2669.32 L4554.78 2665.77 L4562.05 2670.13 L4562.05 2677.4" /><path d="M4554.78 2665.77 L4554.78 2673.36" /><path d="M4603.55 2706.47 L4613.24 2701.14 L4616.8 2703.24 L4611.63 2706.47 L4611.63 2709.21 L4608.72 2716.96 L4603.55 2713.73 L4603.55 2706.47" /><path d="M4616.8 2703.24 L4626.16 2701.62 L4639.08 2709.21 L4639.08 2719.39" /><path d="M4621.32 2710.5 L4627.78 2706.95 L4635.05 2711.31 L4635.05 2718.58" /><path d="M4627.78 2706.95 L4627.78 2714.54" /><path d="M4645.54 2771.07 L4645.54 2783.18 L4660.08 2791.25 L4660.08 2779.95" /><path d="M4645.54 2771.07 L4660.08 2779.95 L4719.83 2745.23" /><path d="M4648.77 2789.64 L4649.58 2821.94 L4656.85 2828.4" /><path d="M4662.5 2792.06 L4663.31 2830.01" /><path d="M4669.77 2787.22 L4670.57 2828.4" /><path d="M4585.79 2778.33 L4585.79 2786.41 L4605.98 2798.52 L4614.86 2796.1 L4618.09 2800.94 L4632.62 2792.87 L4632.62 2783.18 L4647.16 2792.06" /><path d="M4601.94 2763.8 L4602.75 2796.1" /><path d="M4617.28 2772.68 L4617.28 2791.25" /><path d="M4656.04 2771.07 L4656.04 2757.34 L4663.31 2753.3 L4673.8 2759.28 L4673.8 2766.22 L4663.31 2771.87 L4656.04 2767.84" /><path d="M4663.31 2771.87 L4663.31 2759.76 L4656.04 2757.34" /><path d="M4663.31 2759.76 L4673.8 2759.28" /><path d="M4634.24 2752.49 L4645.54 2758.95 L4645.54 2771.07" /><path d="M4624.55 2747.65 L4634.24 2752.49 L4639.08 2749.59" /><path d="M4391.18 2618.45 L4398.45 2606.34 L4417.02 2611.18 L4423.48 2615.22 L4423.48 2623.29 L4412.18 2629.75 L4406.52 2628.95 Z" fill="#fff"/><path d="M4391.18 2618.45 L4406.52 2625.72 L4412.18 2616.83 L4423.48 2615.22" /><path d="M4406.52 2625.72 L4406.52 2628.95" /><path d="M4398.45 2606.34 L4412.18 2616.83" /><path d="M4392.8 2620.87 L4406.52 2627.82" /><path d="M4461.43 2658.02 L4468.7 2645.9 L4487.27 2650.75 L4493.73 2654.79 L4493.73 2662.86 L4482.43 2669.32 L4476.78 2668.51 Z" fill="#fff"/><path d="M4461.43 2658.02 L4476.78 2665.28 L4482.43 2656.4 L4493.73 2654.79" /><path d="M4476.78 2665.28 L4476.78 2668.51" /><path d="M4468.7 2645.9 L4482.43 2656.4" /><path d="M4463.05 2660.44 L4476.78 2667.38" /><path d="M4540.57 2699.2 L4547.84 2687.09 L4566.41 2691.93 L4572.87 2695.97 L4572.87 2704.04 L4561.56 2710.5 L4555.91 2709.7 Z" fill="#fff"/><path d="M4540.57 2699.2 L4555.91 2706.47 L4561.56 2697.58 L4572.87 2695.97" /><path d="M4555.91 2706.47 L4555.91 2709.7" /><path d="M4547.84 2687.09 L4561.56 2697.58" /><path d="M4542.18 2701.62 L4555.91 2708.57" /><path d="M4609.21 2742 L4616.47 2729.88 L4635.05 2734.73 L4641.51 2738.77 L4641.51 2746.84 L4630.2 2753.3 L4624.55 2752.49 Z" fill="#fff"/><path d="M4609.21 2742 L4624.55 2749.26 L4630.2 2740.38 L4641.51 2738.77" /><path d="M4624.55 2749.26 L4624.55 2752.49" /><path d="M4616.47 2729.88 L4630.2 2740.38" /><path d="M4610.82 2744.42 L4624.55 2751.36" /><path d="M4414.84 2660.44 L4414.84 2684.89 A18.33 10.7 0 0 0 4451.51 2684.89 L4451.51 2660.44" fill="#fff"/><ellipse cx="4433.17" cy="2660.44" rx="18.33" ry="10.7" fill="#fff"/><ellipse cx="4433.17" cy="2660.44" rx="6.11" ry="3.36"/><path d="M4445.51 2666.44 L4445.51 2689.89"/><path d="M4562.61 2746.03 L4562.61 2770.48 A18.33 10.7 0 0 0 4599.28 2770.48 L4599.28 2746.03" fill="#fff"/><ellipse cx="4580.94" cy="2746.03" rx="18.33" ry="10.7" fill="#fff"/><ellipse cx="4580.94" cy="2746.03" rx="6.11" ry="3.36"/><path d="M4593.28 2752.03 L4593.28 2775.48"/></g>
<g fill="#000" stroke="none" font-family="'Liberation Sans', sans-serif"><text x="1139.27" y="216" font-size="87.21" textLength="1159.51" lengthAdjust="spacingAndGlyphs">T-CASE - PRODUCT ILLUSTRATION</text><text x="920.3" y="840" font-size="63.95" textLength="274.85" lengthAdjust="spacingAndGlyphs">SURFACE A</text><text x="970.32" y="1398" font-size="61.05" textLength="274.76" lengthAdjust="spacingAndGlyphs">SURFACE B</text><text x="113.82" y="1815" font-size="59.59" textLength="274.78" lengthAdjust="spacingAndGlyphs">SURFACE E</text><text x="1730.81" y="1833.6" font-size="60.76" textLength="272.73" lengthAdjust="spacingAndGlyphs">SURFACE F</text><text x="952.81" y="2322.5" font-size="61.77" textLength="278.3" lengthAdjust="spacingAndGlyphs">SURFACE C</text><text x="682.81" y="2836" font-size="59.59" textLength="278.54" lengthAdjust="spacingAndGlyphs">SURFACE D</text><text x="2483.89" y="739" font-size="71.22" textLength="445.59" lengthAdjust="spacingAndGlyphs">BASE &amp; COVER:</text><text x="2385.41" y="833.5" font-size="71.95" textLength="746.28" lengthAdjust="spacingAndGlyphs">MAXIMUM OF 8 SURFACES</text><text x="2551.8" y="2051" font-size="61.77" textLength="282.82" lengthAdjust="spacingAndGlyphs">SURFACE G</text><text x="2633.79" y="2364" font-size="61.77" textLength="272.21" lengthAdjust="spacingAndGlyphs">TOP INSIDE</text><text x="2581.81" y="2981.5" font-size="63.95" textLength="278.75" lengthAdjust="spacingAndGlyphs">SURFACE H</text><text x="2606.13" y="3377.5" font-size="61.77" textLength="380.87" lengthAdjust="spacingAndGlyphs">BOTTOM INSIDE</text><text x="4294.89" y="162.5" font-size="85.03" textLength="564.58" lengthAdjust="spacingAndGlyphs">BATTERY DOOR:</text><text x="4218.42" y="269" font-size="72.67" textLength="744.77" lengthAdjust="spacingAndGlyphs">MAXIMUM OF 2 SURFACES</text><text x="3847.91" y="618.5" font-size="70.49" textLength="261.24" lengthAdjust="spacingAndGlyphs">SURFACE A</text><text x="3838.93" y="1302.5" font-size="70.49" textLength="261.02" lengthAdjust="spacingAndGlyphs">SURFACE B</text><text x="3877.23" y="1411.5" font-size="66.13" textLength="184.78" lengthAdjust="spacingAndGlyphs">(INSIDE)</text><text x="4041.91" y="1845" font-size="83.58" textLength="644.73" lengthAdjust="spacingAndGlyphs">BATTERY HOLDER:</text><text x="3990.42" y="1931" font-size="70.49" textLength="744.77" lengthAdjust="spacingAndGlyphs">MAXIMUM OF 2 SURFACES</text><text x="3872.92" y="2233" font-size="72.67" textLength="262.24" lengthAdjust="spacingAndGlyphs">SURFACE B</text><text x="3905.23" y="2408" font-size="71.22" textLength="184.78" lengthAdjust="spacingAndGlyphs">(INSIDE)</text><text x="3883.91" y="3028" font-size="72.67" textLength="261.24" lengthAdjust="spacingAndGlyphs">SURFACE A</text></g></svg></body></html>
